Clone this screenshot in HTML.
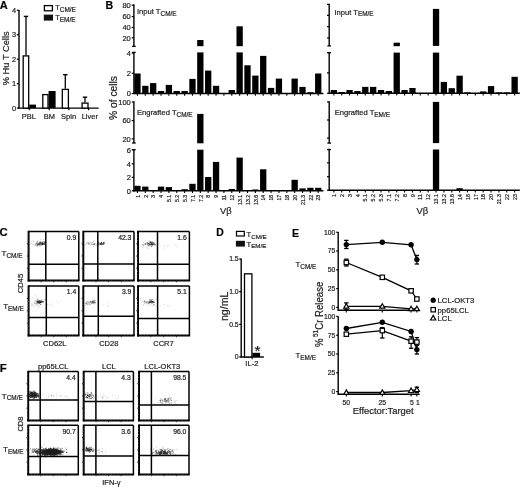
<!DOCTYPE html>
<html><head><meta charset="utf-8"><style>
html,body{margin:0;padding:0;background:#fff;}
svg{display:block;font-family:"Liberation Sans",sans-serif;will-change:transform;}
text{stroke:#222;stroke-width:0.2px;}
</style></head><body>
<svg width="520" height="487" viewBox="0 0 520 487">
<rect width="520" height="487" fill="#fff"/>
<text x="-0.20" y="9.30" font-size="11" text-anchor="start" font-weight="bold" fill="#000">A</text>
<line x1="19.00" y1="10.00" x2="19.00" y2="108.70" stroke="#000" stroke-width="1.4"/>
<line x1="18.40" y1="108.10" x2="98.60" y2="108.10" stroke="#000" stroke-width="1.4"/>
<line x1="16.80" y1="108.10" x2="19.00" y2="108.10" stroke="#000" stroke-width="1.2"/>
<text x="16.00" y="110.80" font-size="7.4" text-anchor="end" font-weight="normal" fill="#222">0</text>
<line x1="16.80" y1="83.65" x2="19.00" y2="83.65" stroke="#000" stroke-width="1.2"/>
<text x="16.00" y="86.35" font-size="7.4" text-anchor="end" font-weight="normal" fill="#222">1</text>
<line x1="16.80" y1="59.20" x2="19.00" y2="59.20" stroke="#000" stroke-width="1.2"/>
<text x="16.00" y="61.90" font-size="7.4" text-anchor="end" font-weight="normal" fill="#222">2</text>
<line x1="16.80" y1="34.75" x2="19.00" y2="34.75" stroke="#000" stroke-width="1.2"/>
<text x="16.00" y="37.45" font-size="7.4" text-anchor="end" font-weight="normal" fill="#222">3</text>
<line x1="16.80" y1="10.30" x2="19.00" y2="10.30" stroke="#000" stroke-width="1.2"/>
<text x="16.00" y="13.00" font-size="7.4" text-anchor="end" font-weight="normal" fill="#222">4</text>
<text x="9.00" y="58.30" font-size="9.3" text-anchor="middle" font-weight="normal" fill="#222" transform="rotate(-90 9.00 58.30)">% Hu T Cells</text>
<rect x="23.20" y="55.90" width="5.50" height="52.20" fill="#fff" stroke="#000" stroke-width="1.3"/>
<rect x="29.30" y="104.60" width="6.70" height="3.50" fill="#000"/>
<rect x="42.80" y="94.60" width="5.20" height="13.50" fill="#fff" stroke="#000" stroke-width="1.3"/>
<rect x="48.60" y="91.00" width="7.00" height="17.10" fill="#000"/>
<rect x="62.30" y="89.40" width="6.10" height="18.70" fill="#fff" stroke="#000" stroke-width="1.3"/>
<rect x="82.10" y="103.10" width="5.90" height="5.00" fill="#fff" stroke="#000" stroke-width="1.3"/>
<line x1="26.00" y1="55.30" x2="26.00" y2="16.40" stroke="#000" stroke-width="1.3"/>
<line x1="23.80" y1="16.40" x2="28.20" y2="16.40" stroke="#000" stroke-width="1.4"/>
<line x1="65.30" y1="88.80" x2="65.30" y2="74.70" stroke="#000" stroke-width="1.3"/>
<line x1="63.10" y1="74.70" x2="67.50" y2="74.70" stroke="#000" stroke-width="1.4"/>
<line x1="85.00" y1="102.50" x2="85.00" y2="97.20" stroke="#000" stroke-width="1.3"/>
<line x1="82.80" y1="97.20" x2="87.20" y2="97.20" stroke="#000" stroke-width="1.4"/>
<line x1="29.30" y1="108.10" x2="29.30" y2="110.30" stroke="#000" stroke-width="1.2"/>
<line x1="49.20" y1="108.10" x2="49.20" y2="110.30" stroke="#000" stroke-width="1.2"/>
<line x1="68.90" y1="108.10" x2="68.90" y2="110.30" stroke="#000" stroke-width="1.2"/>
<line x1="88.60" y1="108.10" x2="88.60" y2="110.30" stroke="#000" stroke-width="1.2"/>
<text x="28.90" y="119.20" font-size="7.5" text-anchor="middle" font-weight="normal" fill="#222">PBL</text>
<text x="49.40" y="119.20" font-size="7.5" text-anchor="middle" font-weight="normal" fill="#222">BM</text>
<text x="68.60" y="119.20" font-size="7.5" text-anchor="middle" font-weight="normal" fill="#222">Spln</text>
<text x="89.80" y="119.20" font-size="7.5" text-anchor="middle" font-weight="normal" fill="#222">Liver</text>
<rect x="44.40" y="5.60" width="8.00" height="5.20" fill="#fff" stroke="#000" stroke-width="1.3"/>
<rect x="43.80" y="14.60" width="9.20" height="6.00" fill="#111"/>
<text x="55.20" y="10.20" font-size="7.4" text-anchor="start" fill="#222">T<tspan font-size="6.5" dy="1.6">CM/E</tspan></text>
<text x="55.20" y="20.30" font-size="7.4" text-anchor="start" fill="#222">T<tspan font-size="6.5" dy="1.6">EM/E</tspan></text>
<text x="105.50" y="9.30" font-size="10.6" text-anchor="start" font-weight="bold" fill="#000">B</text>
<line x1="133.90" y1="4.30" x2="133.90" y2="46.40" stroke="#000" stroke-width="1.4"/>
<line x1="133.90" y1="52.40" x2="133.90" y2="94.10" stroke="#000" stroke-width="1.4"/>
<line x1="132.10" y1="46.40" x2="135.70" y2="46.40" stroke="#000" stroke-width="1.3"/>
<line x1="132.10" y1="52.40" x2="135.70" y2="52.40" stroke="#000" stroke-width="1.3"/>
<line x1="131.70" y1="5.20" x2="133.90" y2="5.20" stroke="#000" stroke-width="1.2"/>
<text x="130.80" y="8.00" font-size="7.5" text-anchor="end" font-weight="normal" fill="#222">80</text>
<line x1="131.70" y1="16.60" x2="133.90" y2="16.60" stroke="#000" stroke-width="1.2"/>
<text x="130.80" y="19.40" font-size="7.5" text-anchor="end" font-weight="normal" fill="#222">60</text>
<line x1="131.70" y1="27.50" x2="133.90" y2="27.50" stroke="#000" stroke-width="1.2"/>
<text x="130.80" y="30.30" font-size="7.5" text-anchor="end" font-weight="normal" fill="#222">40</text>
<line x1="131.70" y1="37.80" x2="133.90" y2="37.80" stroke="#000" stroke-width="1.2"/>
<text x="130.80" y="40.60" font-size="7.5" text-anchor="end" font-weight="normal" fill="#222">20</text>
<line x1="131.70" y1="53.10" x2="133.90" y2="53.10" stroke="#000" stroke-width="1.2"/>
<text x="130.80" y="55.90" font-size="7.5" text-anchor="end" font-weight="normal" fill="#222">4</text>
<line x1="131.70" y1="73.30" x2="133.90" y2="73.30" stroke="#000" stroke-width="1.2"/>
<text x="130.80" y="76.10" font-size="7.5" text-anchor="end" font-weight="normal" fill="#222">2</text>
<line x1="131.70" y1="93.50" x2="133.90" y2="93.50" stroke="#000" stroke-width="1.2"/>
<text x="130.80" y="96.30" font-size="7.5" text-anchor="end" font-weight="normal" fill="#222">0</text>
<line x1="133.30" y1="93.50" x2="323.44" y2="93.50" stroke="#000" stroke-width="1.4"/>
<line x1="137.45" y1="93.50" x2="137.45" y2="95.70" stroke="#000" stroke-width="1.1"/>
<line x1="145.31" y1="93.50" x2="145.31" y2="95.70" stroke="#000" stroke-width="1.1"/>
<line x1="153.17" y1="93.50" x2="153.17" y2="95.70" stroke="#000" stroke-width="1.1"/>
<line x1="161.03" y1="93.50" x2="161.03" y2="95.70" stroke="#000" stroke-width="1.1"/>
<line x1="168.89" y1="93.50" x2="168.89" y2="95.70" stroke="#000" stroke-width="1.1"/>
<line x1="176.75" y1="93.50" x2="176.75" y2="95.70" stroke="#000" stroke-width="1.1"/>
<line x1="184.61" y1="93.50" x2="184.61" y2="95.70" stroke="#000" stroke-width="1.1"/>
<line x1="192.47" y1="93.50" x2="192.47" y2="95.70" stroke="#000" stroke-width="1.1"/>
<line x1="200.33" y1="93.50" x2="200.33" y2="95.70" stroke="#000" stroke-width="1.1"/>
<line x1="208.19" y1="93.50" x2="208.19" y2="95.70" stroke="#000" stroke-width="1.1"/>
<line x1="216.05" y1="93.50" x2="216.05" y2="95.70" stroke="#000" stroke-width="1.1"/>
<line x1="223.91" y1="93.50" x2="223.91" y2="95.70" stroke="#000" stroke-width="1.1"/>
<line x1="231.77" y1="93.50" x2="231.77" y2="95.70" stroke="#000" stroke-width="1.1"/>
<line x1="239.63" y1="93.50" x2="239.63" y2="95.70" stroke="#000" stroke-width="1.1"/>
<line x1="247.49" y1="93.50" x2="247.49" y2="95.70" stroke="#000" stroke-width="1.1"/>
<line x1="255.35" y1="93.50" x2="255.35" y2="95.70" stroke="#000" stroke-width="1.1"/>
<line x1="263.21" y1="93.50" x2="263.21" y2="95.70" stroke="#000" stroke-width="1.1"/>
<line x1="271.07" y1="93.50" x2="271.07" y2="95.70" stroke="#000" stroke-width="1.1"/>
<line x1="278.93" y1="93.50" x2="278.93" y2="95.70" stroke="#000" stroke-width="1.1"/>
<line x1="286.79" y1="93.50" x2="286.79" y2="95.70" stroke="#000" stroke-width="1.1"/>
<line x1="294.65" y1="93.50" x2="294.65" y2="95.70" stroke="#000" stroke-width="1.1"/>
<line x1="302.51" y1="93.50" x2="302.51" y2="95.70" stroke="#000" stroke-width="1.1"/>
<line x1="310.37" y1="93.50" x2="310.37" y2="95.70" stroke="#000" stroke-width="1.1"/>
<line x1="318.23" y1="93.50" x2="318.23" y2="95.70" stroke="#000" stroke-width="1.1"/>
<rect x="134.30" y="73.50" width="6.30" height="20.00" fill="#000"/>
<rect x="142.16" y="85.80" width="6.30" height="7.70" fill="#000"/>
<rect x="150.02" y="83.10" width="6.30" height="10.40" fill="#000"/>
<rect x="157.88" y="91.00" width="6.30" height="2.50" fill="#000"/>
<rect x="165.74" y="84.90" width="6.30" height="8.60" fill="#000"/>
<rect x="173.60" y="91.00" width="6.30" height="2.50" fill="#000"/>
<rect x="181.46" y="91.00" width="6.30" height="2.50" fill="#000"/>
<rect x="189.32" y="78.90" width="6.30" height="14.60" fill="#000"/>
<rect x="197.18" y="52.40" width="6.30" height="41.10" fill="#000"/>
<rect x="197.18" y="40.00" width="6.30" height="6.20" fill="#000"/>
<rect x="205.04" y="70.60" width="6.30" height="22.90" fill="#000"/>
<rect x="212.90" y="85.80" width="6.30" height="7.70" fill="#000"/>
<rect x="228.62" y="90.00" width="6.30" height="3.50" fill="#000"/>
<rect x="236.48" y="52.40" width="6.30" height="41.10" fill="#000"/>
<rect x="236.48" y="26.30" width="6.30" height="19.90" fill="#000"/>
<rect x="244.34" y="65.30" width="6.30" height="28.20" fill="#000"/>
<rect x="252.20" y="75.60" width="6.30" height="17.90" fill="#000"/>
<rect x="260.06" y="55.90" width="6.30" height="37.60" fill="#000"/>
<rect x="267.92" y="87.90" width="6.30" height="5.60" fill="#000"/>
<rect x="275.78" y="78.60" width="6.30" height="14.90" fill="#000"/>
<rect x="291.50" y="78.60" width="6.30" height="14.90" fill="#000"/>
<rect x="299.36" y="86.90" width="6.30" height="6.60" fill="#000"/>
<rect x="307.22" y="92.20" width="6.30" height="1.30" fill="#000"/>
<rect x="315.08" y="73.50" width="6.30" height="20.00" fill="#000"/>
<line x1="329.20" y1="3.80" x2="329.20" y2="45.90" stroke="#000" stroke-width="1.4"/>
<line x1="329.20" y1="52.60" x2="329.20" y2="93.90" stroke="#000" stroke-width="1.4"/>
<line x1="327.40" y1="45.90" x2="331.00" y2="45.90" stroke="#000" stroke-width="1.3"/>
<line x1="327.40" y1="52.60" x2="331.00" y2="52.60" stroke="#000" stroke-width="1.3"/>
<line x1="327.00" y1="4.40" x2="329.20" y2="4.40" stroke="#000" stroke-width="1.2"/>
<line x1="327.00" y1="15.40" x2="329.20" y2="15.40" stroke="#000" stroke-width="1.2"/>
<line x1="327.00" y1="26.70" x2="329.20" y2="26.70" stroke="#000" stroke-width="1.2"/>
<line x1="327.00" y1="38.00" x2="329.20" y2="38.00" stroke="#000" stroke-width="1.2"/>
<line x1="327.00" y1="52.60" x2="329.20" y2="52.60" stroke="#000" stroke-width="1.2"/>
<line x1="327.00" y1="72.90" x2="329.20" y2="72.90" stroke="#000" stroke-width="1.2"/>
<line x1="327.00" y1="93.30" x2="329.20" y2="93.30" stroke="#000" stroke-width="1.2"/>
<line x1="328.60" y1="93.30" x2="519.84" y2="93.30" stroke="#000" stroke-width="1.4"/>
<line x1="333.85" y1="93.30" x2="333.85" y2="95.50" stroke="#000" stroke-width="1.1"/>
<line x1="341.71" y1="93.30" x2="341.71" y2="95.50" stroke="#000" stroke-width="1.1"/>
<line x1="349.57" y1="93.30" x2="349.57" y2="95.50" stroke="#000" stroke-width="1.1"/>
<line x1="357.43" y1="93.30" x2="357.43" y2="95.50" stroke="#000" stroke-width="1.1"/>
<line x1="365.29" y1="93.30" x2="365.29" y2="95.50" stroke="#000" stroke-width="1.1"/>
<line x1="373.15" y1="93.30" x2="373.15" y2="95.50" stroke="#000" stroke-width="1.1"/>
<line x1="381.01" y1="93.30" x2="381.01" y2="95.50" stroke="#000" stroke-width="1.1"/>
<line x1="388.87" y1="93.30" x2="388.87" y2="95.50" stroke="#000" stroke-width="1.1"/>
<line x1="396.73" y1="93.30" x2="396.73" y2="95.50" stroke="#000" stroke-width="1.1"/>
<line x1="404.59" y1="93.30" x2="404.59" y2="95.50" stroke="#000" stroke-width="1.1"/>
<line x1="412.45" y1="93.30" x2="412.45" y2="95.50" stroke="#000" stroke-width="1.1"/>
<line x1="420.31" y1="93.30" x2="420.31" y2="95.50" stroke="#000" stroke-width="1.1"/>
<line x1="428.17" y1="93.30" x2="428.17" y2="95.50" stroke="#000" stroke-width="1.1"/>
<line x1="436.03" y1="93.30" x2="436.03" y2="95.50" stroke="#000" stroke-width="1.1"/>
<line x1="443.89" y1="93.30" x2="443.89" y2="95.50" stroke="#000" stroke-width="1.1"/>
<line x1="451.75" y1="93.30" x2="451.75" y2="95.50" stroke="#000" stroke-width="1.1"/>
<line x1="459.61" y1="93.30" x2="459.61" y2="95.50" stroke="#000" stroke-width="1.1"/>
<line x1="467.47" y1="93.30" x2="467.47" y2="95.50" stroke="#000" stroke-width="1.1"/>
<line x1="475.33" y1="93.30" x2="475.33" y2="95.50" stroke="#000" stroke-width="1.1"/>
<line x1="483.19" y1="93.30" x2="483.19" y2="95.50" stroke="#000" stroke-width="1.1"/>
<line x1="491.05" y1="93.30" x2="491.05" y2="95.50" stroke="#000" stroke-width="1.1"/>
<line x1="498.91" y1="93.30" x2="498.91" y2="95.50" stroke="#000" stroke-width="1.1"/>
<line x1="506.77" y1="93.30" x2="506.77" y2="95.50" stroke="#000" stroke-width="1.1"/>
<line x1="514.63" y1="93.30" x2="514.63" y2="95.50" stroke="#000" stroke-width="1.1"/>
<rect x="330.70" y="90.00" width="6.30" height="3.30" fill="#000"/>
<rect x="338.56" y="92.00" width="6.30" height="1.30" fill="#000"/>
<rect x="346.42" y="90.00" width="6.30" height="3.30" fill="#000"/>
<rect x="354.28" y="91.00" width="6.30" height="2.30" fill="#000"/>
<rect x="362.14" y="86.90" width="6.30" height="6.40" fill="#000"/>
<rect x="370.00" y="86.90" width="6.30" height="6.40" fill="#000"/>
<rect x="377.86" y="90.00" width="6.30" height="3.30" fill="#000"/>
<rect x="385.72" y="91.00" width="6.30" height="2.30" fill="#000"/>
<rect x="393.58" y="52.60" width="6.30" height="40.70" fill="#000"/>
<rect x="393.58" y="42.70" width="6.30" height="3.50" fill="#000"/>
<rect x="401.44" y="90.00" width="6.30" height="3.30" fill="#000"/>
<rect x="409.30" y="88.00" width="6.30" height="5.30" fill="#000"/>
<rect x="432.88" y="52.60" width="6.30" height="40.70" fill="#000"/>
<rect x="432.88" y="8.90" width="6.30" height="37.00" fill="#000"/>
<rect x="440.74" y="81.90" width="6.30" height="11.40" fill="#000"/>
<rect x="448.60" y="88.20" width="6.30" height="5.10" fill="#000"/>
<rect x="456.46" y="75.70" width="6.30" height="17.60" fill="#000"/>
<rect x="464.32" y="92.40" width="6.30" height="0.90" fill="#000"/>
<rect x="480.04" y="91.40" width="6.30" height="1.90" fill="#000"/>
<rect x="487.90" y="86.10" width="6.30" height="7.20" fill="#000"/>
<rect x="495.76" y="92.40" width="6.30" height="0.90" fill="#000"/>
<rect x="503.62" y="92.40" width="6.30" height="0.90" fill="#000"/>
<rect x="511.48" y="76.80" width="6.30" height="16.50" fill="#000"/>
<line x1="133.90" y1="101.30" x2="133.90" y2="143.00" stroke="#000" stroke-width="1.4"/>
<line x1="133.90" y1="149.70" x2="133.90" y2="191.40" stroke="#000" stroke-width="1.4"/>
<line x1="132.10" y1="143.00" x2="135.70" y2="143.00" stroke="#000" stroke-width="1.3"/>
<line x1="132.10" y1="149.70" x2="135.70" y2="149.70" stroke="#000" stroke-width="1.3"/>
<line x1="131.70" y1="102.00" x2="133.90" y2="102.00" stroke="#000" stroke-width="1.2"/>
<text x="130.80" y="104.80" font-size="7.5" text-anchor="end" font-weight="normal" fill="#222">100</text>
<line x1="131.70" y1="120.60" x2="133.90" y2="120.60" stroke="#000" stroke-width="1.2"/>
<text x="130.80" y="123.40" font-size="7.5" text-anchor="end" font-weight="normal" fill="#222">60</text>
<line x1="131.70" y1="138.80" x2="133.90" y2="138.80" stroke="#000" stroke-width="1.2"/>
<text x="130.80" y="141.60" font-size="7.5" text-anchor="end" font-weight="normal" fill="#222">20</text>
<line x1="131.70" y1="149.70" x2="133.90" y2="149.70" stroke="#000" stroke-width="1.2"/>
<text x="130.80" y="152.50" font-size="7.5" text-anchor="end" font-weight="normal" fill="#222">6</text>
<line x1="131.70" y1="163.80" x2="133.90" y2="163.80" stroke="#000" stroke-width="1.2"/>
<text x="130.80" y="166.60" font-size="7.5" text-anchor="end" font-weight="normal" fill="#222">4</text>
<line x1="131.70" y1="177.40" x2="133.90" y2="177.40" stroke="#000" stroke-width="1.2"/>
<text x="130.80" y="180.20" font-size="7.5" text-anchor="end" font-weight="normal" fill="#222">2</text>
<line x1="131.70" y1="190.80" x2="133.90" y2="190.80" stroke="#000" stroke-width="1.2"/>
<text x="130.80" y="193.60" font-size="7.5" text-anchor="end" font-weight="normal" fill="#222">0</text>
<line x1="133.30" y1="190.80" x2="323.44" y2="190.80" stroke="#000" stroke-width="1.4"/>
<line x1="137.45" y1="190.80" x2="137.45" y2="193.00" stroke="#000" stroke-width="1.1"/>
<line x1="145.31" y1="190.80" x2="145.31" y2="193.00" stroke="#000" stroke-width="1.1"/>
<line x1="153.17" y1="190.80" x2="153.17" y2="193.00" stroke="#000" stroke-width="1.1"/>
<line x1="161.03" y1="190.80" x2="161.03" y2="193.00" stroke="#000" stroke-width="1.1"/>
<line x1="168.89" y1="190.80" x2="168.89" y2="193.00" stroke="#000" stroke-width="1.1"/>
<line x1="176.75" y1="190.80" x2="176.75" y2="193.00" stroke="#000" stroke-width="1.1"/>
<line x1="184.61" y1="190.80" x2="184.61" y2="193.00" stroke="#000" stroke-width="1.1"/>
<line x1="192.47" y1="190.80" x2="192.47" y2="193.00" stroke="#000" stroke-width="1.1"/>
<line x1="200.33" y1="190.80" x2="200.33" y2="193.00" stroke="#000" stroke-width="1.1"/>
<line x1="208.19" y1="190.80" x2="208.19" y2="193.00" stroke="#000" stroke-width="1.1"/>
<line x1="216.05" y1="190.80" x2="216.05" y2="193.00" stroke="#000" stroke-width="1.1"/>
<line x1="223.91" y1="190.80" x2="223.91" y2="193.00" stroke="#000" stroke-width="1.1"/>
<line x1="231.77" y1="190.80" x2="231.77" y2="193.00" stroke="#000" stroke-width="1.1"/>
<line x1="239.63" y1="190.80" x2="239.63" y2="193.00" stroke="#000" stroke-width="1.1"/>
<line x1="247.49" y1="190.80" x2="247.49" y2="193.00" stroke="#000" stroke-width="1.1"/>
<line x1="255.35" y1="190.80" x2="255.35" y2="193.00" stroke="#000" stroke-width="1.1"/>
<line x1="263.21" y1="190.80" x2="263.21" y2="193.00" stroke="#000" stroke-width="1.1"/>
<line x1="271.07" y1="190.80" x2="271.07" y2="193.00" stroke="#000" stroke-width="1.1"/>
<line x1="278.93" y1="190.80" x2="278.93" y2="193.00" stroke="#000" stroke-width="1.1"/>
<line x1="286.79" y1="190.80" x2="286.79" y2="193.00" stroke="#000" stroke-width="1.1"/>
<line x1="294.65" y1="190.80" x2="294.65" y2="193.00" stroke="#000" stroke-width="1.1"/>
<line x1="302.51" y1="190.80" x2="302.51" y2="193.00" stroke="#000" stroke-width="1.1"/>
<line x1="310.37" y1="190.80" x2="310.37" y2="193.00" stroke="#000" stroke-width="1.1"/>
<line x1="318.23" y1="190.80" x2="318.23" y2="193.00" stroke="#000" stroke-width="1.1"/>
<rect x="134.30" y="185.80" width="6.30" height="5.00" fill="#000"/>
<rect x="142.16" y="186.60" width="6.30" height="4.20" fill="#000"/>
<rect x="150.02" y="190.00" width="6.30" height="0.80" fill="#000"/>
<rect x="157.88" y="186.60" width="6.30" height="4.20" fill="#000"/>
<rect x="165.74" y="187.10" width="6.30" height="3.70" fill="#000"/>
<rect x="173.60" y="190.00" width="6.30" height="0.80" fill="#000"/>
<rect x="181.46" y="189.20" width="6.30" height="1.60" fill="#000"/>
<rect x="189.32" y="183.80" width="6.30" height="7.00" fill="#000"/>
<rect x="197.18" y="149.70" width="6.30" height="41.10" fill="#000"/>
<rect x="197.18" y="113.90" width="6.30" height="29.40" fill="#000"/>
<rect x="205.04" y="177.00" width="6.30" height="13.80" fill="#000"/>
<rect x="212.90" y="161.90" width="6.30" height="28.90" fill="#000"/>
<rect x="228.62" y="189.00" width="6.30" height="1.80" fill="#000"/>
<rect x="236.48" y="157.60" width="6.30" height="33.20" fill="#000"/>
<rect x="252.20" y="189.50" width="6.30" height="1.30" fill="#000"/>
<rect x="260.06" y="169.30" width="6.30" height="21.50" fill="#000"/>
<rect x="267.92" y="190.20" width="6.30" height="0.60" fill="#000"/>
<rect x="275.78" y="190.20" width="6.30" height="0.60" fill="#000"/>
<rect x="291.50" y="179.80" width="6.30" height="11.00" fill="#000"/>
<rect x="299.36" y="188.40" width="6.30" height="2.40" fill="#000"/>
<rect x="307.22" y="187.80" width="6.30" height="3.00" fill="#000"/>
<rect x="315.08" y="187.80" width="6.30" height="3.00" fill="#000"/>
<text x="139.65" y="194.80" font-size="6.2" text-anchor="end" font-weight="normal" fill="#111" transform="rotate(-90 139.65 194.80)" textLength="2.89" lengthAdjust="spacingAndGlyphs">1</text>
<text x="147.51" y="194.80" font-size="6.2" text-anchor="end" font-weight="normal" fill="#111" transform="rotate(-90 147.51 194.80)" textLength="2.89" lengthAdjust="spacingAndGlyphs">2</text>
<text x="155.37" y="194.80" font-size="6.2" text-anchor="end" font-weight="normal" fill="#111" transform="rotate(-90 155.37 194.80)" textLength="2.89" lengthAdjust="spacingAndGlyphs">3</text>
<text x="163.23" y="194.80" font-size="6.2" text-anchor="end" font-weight="normal" fill="#111" transform="rotate(-90 163.23 194.80)" textLength="2.89" lengthAdjust="spacingAndGlyphs">4</text>
<text x="171.09" y="194.80" font-size="6.2" text-anchor="end" font-weight="normal" fill="#111" transform="rotate(-90 171.09 194.80)" textLength="7.23" lengthAdjust="spacingAndGlyphs">5.1</text>
<text x="178.95" y="194.80" font-size="6.2" text-anchor="end" font-weight="normal" fill="#111" transform="rotate(-90 178.95 194.80)" textLength="7.23" lengthAdjust="spacingAndGlyphs">5.2</text>
<text x="186.81" y="194.80" font-size="6.2" text-anchor="end" font-weight="normal" fill="#111" transform="rotate(-90 186.81 194.80)" textLength="7.23" lengthAdjust="spacingAndGlyphs">5.3</text>
<text x="194.67" y="194.80" font-size="6.2" text-anchor="end" font-weight="normal" fill="#111" transform="rotate(-90 194.67 194.80)" textLength="7.23" lengthAdjust="spacingAndGlyphs">7.1</text>
<text x="202.53" y="194.80" font-size="6.2" text-anchor="end" font-weight="normal" fill="#111" transform="rotate(-90 202.53 194.80)" textLength="7.23" lengthAdjust="spacingAndGlyphs">7.2</text>
<text x="210.39" y="194.80" font-size="6.2" text-anchor="end" font-weight="normal" fill="#111" transform="rotate(-90 210.39 194.80)" textLength="2.89" lengthAdjust="spacingAndGlyphs">8</text>
<text x="218.25" y="194.80" font-size="6.2" text-anchor="end" font-weight="normal" fill="#111" transform="rotate(-90 218.25 194.80)" textLength="2.89" lengthAdjust="spacingAndGlyphs">9</text>
<text x="226.11" y="194.80" font-size="6.2" text-anchor="end" font-weight="normal" fill="#111" transform="rotate(-90 226.11 194.80)" textLength="5.78" lengthAdjust="spacingAndGlyphs">11</text>
<text x="233.97" y="194.80" font-size="6.2" text-anchor="end" font-weight="normal" fill="#111" transform="rotate(-90 233.97 194.80)" textLength="5.78" lengthAdjust="spacingAndGlyphs">12</text>
<text x="241.83" y="194.80" font-size="6.2" text-anchor="end" font-weight="normal" fill="#111" transform="rotate(-90 241.83 194.80)" textLength="10.12" lengthAdjust="spacingAndGlyphs">13.1</text>
<text x="249.69" y="194.80" font-size="6.2" text-anchor="end" font-weight="normal" fill="#111" transform="rotate(-90 249.69 194.80)" textLength="10.12" lengthAdjust="spacingAndGlyphs">13.2</text>
<text x="257.55" y="194.80" font-size="6.2" text-anchor="end" font-weight="normal" fill="#111" transform="rotate(-90 257.55 194.80)" textLength="10.12" lengthAdjust="spacingAndGlyphs">13.6</text>
<text x="265.41" y="194.80" font-size="6.2" text-anchor="end" font-weight="normal" fill="#111" transform="rotate(-90 265.41 194.80)" textLength="5.78" lengthAdjust="spacingAndGlyphs">14</text>
<text x="273.27" y="194.80" font-size="6.2" text-anchor="end" font-weight="normal" fill="#111" transform="rotate(-90 273.27 194.80)" textLength="5.78" lengthAdjust="spacingAndGlyphs">16</text>
<text x="281.13" y="194.80" font-size="6.2" text-anchor="end" font-weight="normal" fill="#111" transform="rotate(-90 281.13 194.80)" textLength="5.78" lengthAdjust="spacingAndGlyphs">17</text>
<text x="288.99" y="194.80" font-size="6.2" text-anchor="end" font-weight="normal" fill="#111" transform="rotate(-90 288.99 194.80)" textLength="5.78" lengthAdjust="spacingAndGlyphs">18</text>
<text x="296.85" y="194.80" font-size="6.2" text-anchor="end" font-weight="normal" fill="#111" transform="rotate(-90 296.85 194.80)" textLength="5.78" lengthAdjust="spacingAndGlyphs">20</text>
<text x="304.71" y="194.80" font-size="6.2" text-anchor="end" font-weight="normal" fill="#111" transform="rotate(-90 304.71 194.80)" textLength="10.12" lengthAdjust="spacingAndGlyphs">21.3</text>
<text x="312.57" y="194.80" font-size="6.2" text-anchor="end" font-weight="normal" fill="#111" transform="rotate(-90 312.57 194.80)" textLength="5.78" lengthAdjust="spacingAndGlyphs">22</text>
<text x="320.43" y="194.80" font-size="6.2" text-anchor="end" font-weight="normal" fill="#111" transform="rotate(-90 320.43 194.80)" textLength="5.78" lengthAdjust="spacingAndGlyphs">23</text>
<line x1="329.20" y1="101.30" x2="329.20" y2="143.10" stroke="#000" stroke-width="1.4"/>
<line x1="329.20" y1="149.50" x2="329.20" y2="190.80" stroke="#000" stroke-width="1.4"/>
<line x1="327.40" y1="143.10" x2="331.00" y2="143.10" stroke="#000" stroke-width="1.3"/>
<line x1="327.40" y1="149.50" x2="331.00" y2="149.50" stroke="#000" stroke-width="1.3"/>
<line x1="327.00" y1="101.90" x2="329.20" y2="101.90" stroke="#000" stroke-width="1.2"/>
<line x1="327.00" y1="120.00" x2="329.20" y2="120.00" stroke="#000" stroke-width="1.2"/>
<line x1="327.00" y1="138.10" x2="329.20" y2="138.10" stroke="#000" stroke-width="1.2"/>
<line x1="327.00" y1="149.50" x2="329.20" y2="149.50" stroke="#000" stroke-width="1.2"/>
<line x1="327.00" y1="162.80" x2="329.20" y2="162.80" stroke="#000" stroke-width="1.2"/>
<line x1="327.00" y1="176.70" x2="329.20" y2="176.70" stroke="#000" stroke-width="1.2"/>
<line x1="327.00" y1="190.20" x2="329.20" y2="190.20" stroke="#000" stroke-width="1.2"/>
<line x1="328.60" y1="190.20" x2="519.84" y2="190.20" stroke="#000" stroke-width="1.4"/>
<line x1="333.85" y1="190.20" x2="333.85" y2="192.40" stroke="#000" stroke-width="1.1"/>
<line x1="341.71" y1="190.20" x2="341.71" y2="192.40" stroke="#000" stroke-width="1.1"/>
<line x1="349.57" y1="190.20" x2="349.57" y2="192.40" stroke="#000" stroke-width="1.1"/>
<line x1="357.43" y1="190.20" x2="357.43" y2="192.40" stroke="#000" stroke-width="1.1"/>
<line x1="365.29" y1="190.20" x2="365.29" y2="192.40" stroke="#000" stroke-width="1.1"/>
<line x1="373.15" y1="190.20" x2="373.15" y2="192.40" stroke="#000" stroke-width="1.1"/>
<line x1="381.01" y1="190.20" x2="381.01" y2="192.40" stroke="#000" stroke-width="1.1"/>
<line x1="388.87" y1="190.20" x2="388.87" y2="192.40" stroke="#000" stroke-width="1.1"/>
<line x1="396.73" y1="190.20" x2="396.73" y2="192.40" stroke="#000" stroke-width="1.1"/>
<line x1="404.59" y1="190.20" x2="404.59" y2="192.40" stroke="#000" stroke-width="1.1"/>
<line x1="412.45" y1="190.20" x2="412.45" y2="192.40" stroke="#000" stroke-width="1.1"/>
<line x1="420.31" y1="190.20" x2="420.31" y2="192.40" stroke="#000" stroke-width="1.1"/>
<line x1="428.17" y1="190.20" x2="428.17" y2="192.40" stroke="#000" stroke-width="1.1"/>
<line x1="436.03" y1="190.20" x2="436.03" y2="192.40" stroke="#000" stroke-width="1.1"/>
<line x1="443.89" y1="190.20" x2="443.89" y2="192.40" stroke="#000" stroke-width="1.1"/>
<line x1="451.75" y1="190.20" x2="451.75" y2="192.40" stroke="#000" stroke-width="1.1"/>
<line x1="459.61" y1="190.20" x2="459.61" y2="192.40" stroke="#000" stroke-width="1.1"/>
<line x1="467.47" y1="190.20" x2="467.47" y2="192.40" stroke="#000" stroke-width="1.1"/>
<line x1="475.33" y1="190.20" x2="475.33" y2="192.40" stroke="#000" stroke-width="1.1"/>
<line x1="483.19" y1="190.20" x2="483.19" y2="192.40" stroke="#000" stroke-width="1.1"/>
<line x1="491.05" y1="190.20" x2="491.05" y2="192.40" stroke="#000" stroke-width="1.1"/>
<line x1="498.91" y1="190.20" x2="498.91" y2="192.40" stroke="#000" stroke-width="1.1"/>
<line x1="506.77" y1="190.20" x2="506.77" y2="192.40" stroke="#000" stroke-width="1.1"/>
<line x1="514.63" y1="190.20" x2="514.63" y2="192.40" stroke="#000" stroke-width="1.1"/>
<rect x="432.88" y="149.50" width="6.30" height="40.70" fill="#000"/>
<rect x="432.88" y="101.90" width="6.30" height="41.20" fill="#000"/>
<rect x="456.46" y="188.20" width="6.30" height="2.00" fill="#000"/>
<text x="336.05" y="194.20" font-size="6.2" text-anchor="end" font-weight="normal" fill="#111" transform="rotate(-90 336.05 194.20)" textLength="2.89" lengthAdjust="spacingAndGlyphs">1</text>
<text x="343.91" y="194.20" font-size="6.2" text-anchor="end" font-weight="normal" fill="#111" transform="rotate(-90 343.91 194.20)" textLength="2.89" lengthAdjust="spacingAndGlyphs">2</text>
<text x="351.77" y="194.20" font-size="6.2" text-anchor="end" font-weight="normal" fill="#111" transform="rotate(-90 351.77 194.20)" textLength="2.89" lengthAdjust="spacingAndGlyphs">3</text>
<text x="359.63" y="194.20" font-size="6.2" text-anchor="end" font-weight="normal" fill="#111" transform="rotate(-90 359.63 194.20)" textLength="2.89" lengthAdjust="spacingAndGlyphs">4</text>
<text x="367.49" y="194.20" font-size="6.2" text-anchor="end" font-weight="normal" fill="#111" transform="rotate(-90 367.49 194.20)" textLength="7.23" lengthAdjust="spacingAndGlyphs">5.1</text>
<text x="375.35" y="194.20" font-size="6.2" text-anchor="end" font-weight="normal" fill="#111" transform="rotate(-90 375.35 194.20)" textLength="7.23" lengthAdjust="spacingAndGlyphs">5.2</text>
<text x="383.21" y="194.20" font-size="6.2" text-anchor="end" font-weight="normal" fill="#111" transform="rotate(-90 383.21 194.20)" textLength="7.23" lengthAdjust="spacingAndGlyphs">5.3</text>
<text x="391.07" y="194.20" font-size="6.2" text-anchor="end" font-weight="normal" fill="#111" transform="rotate(-90 391.07 194.20)" textLength="7.23" lengthAdjust="spacingAndGlyphs">7.1</text>
<text x="398.93" y="194.20" font-size="6.2" text-anchor="end" font-weight="normal" fill="#111" transform="rotate(-90 398.93 194.20)" textLength="7.23" lengthAdjust="spacingAndGlyphs">7.2</text>
<text x="406.79" y="194.20" font-size="6.2" text-anchor="end" font-weight="normal" fill="#111" transform="rotate(-90 406.79 194.20)" textLength="2.89" lengthAdjust="spacingAndGlyphs">8</text>
<text x="414.65" y="194.20" font-size="6.2" text-anchor="end" font-weight="normal" fill="#111" transform="rotate(-90 414.65 194.20)" textLength="2.89" lengthAdjust="spacingAndGlyphs">9</text>
<text x="422.51" y="194.20" font-size="6.2" text-anchor="end" font-weight="normal" fill="#111" transform="rotate(-90 422.51 194.20)" textLength="5.78" lengthAdjust="spacingAndGlyphs">11</text>
<text x="430.37" y="194.20" font-size="6.2" text-anchor="end" font-weight="normal" fill="#111" transform="rotate(-90 430.37 194.20)" textLength="5.78" lengthAdjust="spacingAndGlyphs">12</text>
<text x="438.23" y="194.20" font-size="6.2" text-anchor="end" font-weight="normal" fill="#111" transform="rotate(-90 438.23 194.20)" textLength="10.12" lengthAdjust="spacingAndGlyphs">13.1</text>
<text x="446.09" y="194.20" font-size="6.2" text-anchor="end" font-weight="normal" fill="#111" transform="rotate(-90 446.09 194.20)" textLength="10.12" lengthAdjust="spacingAndGlyphs">13.2</text>
<text x="453.95" y="194.20" font-size="6.2" text-anchor="end" font-weight="normal" fill="#111" transform="rotate(-90 453.95 194.20)" textLength="10.12" lengthAdjust="spacingAndGlyphs">13.6</text>
<text x="461.81" y="194.20" font-size="6.2" text-anchor="end" font-weight="normal" fill="#111" transform="rotate(-90 461.81 194.20)" textLength="5.78" lengthAdjust="spacingAndGlyphs">14</text>
<text x="469.67" y="194.20" font-size="6.2" text-anchor="end" font-weight="normal" fill="#111" transform="rotate(-90 469.67 194.20)" textLength="5.78" lengthAdjust="spacingAndGlyphs">16</text>
<text x="477.53" y="194.20" font-size="6.2" text-anchor="end" font-weight="normal" fill="#111" transform="rotate(-90 477.53 194.20)" textLength="5.78" lengthAdjust="spacingAndGlyphs">17</text>
<text x="485.39" y="194.20" font-size="6.2" text-anchor="end" font-weight="normal" fill="#111" transform="rotate(-90 485.39 194.20)" textLength="5.78" lengthAdjust="spacingAndGlyphs">18</text>
<text x="493.25" y="194.20" font-size="6.2" text-anchor="end" font-weight="normal" fill="#111" transform="rotate(-90 493.25 194.20)" textLength="5.78" lengthAdjust="spacingAndGlyphs">20</text>
<text x="501.11" y="194.20" font-size="6.2" text-anchor="end" font-weight="normal" fill="#111" transform="rotate(-90 501.11 194.20)" textLength="10.12" lengthAdjust="spacingAndGlyphs">21.3</text>
<text x="508.97" y="194.20" font-size="6.2" text-anchor="end" font-weight="normal" fill="#111" transform="rotate(-90 508.97 194.20)" textLength="5.78" lengthAdjust="spacingAndGlyphs">22</text>
<text x="516.83" y="194.20" font-size="6.2" text-anchor="end" font-weight="normal" fill="#111" transform="rotate(-90 516.83 194.20)" textLength="5.78" lengthAdjust="spacingAndGlyphs">23</text>
<text x="137.00" y="14.20" font-size="7.6" text-anchor="start" fill="#222">Input T<tspan font-size="6.4" dy="1.8">CM/E</tspan></text>
<text x="334.40" y="14.60" font-size="7.6" text-anchor="start" fill="#222">Input T<tspan font-size="6.4" dy="1.8">EM/E</tspan></text>
<text x="137.00" y="115.00" font-size="7.6" text-anchor="start" fill="#222">Engrafted T<tspan font-size="6.4" dy="1.8">CM/E</tspan></text>
<text x="334.80" y="115.00" font-size="7.6" text-anchor="start" fill="#222">Engrafted T<tspan font-size="6.4" dy="1.8">EM/E</tspan></text>
<text x="117.30" y="98.00" font-size="10.3" text-anchor="middle" font-weight="normal" fill="#222" transform="rotate(-90 117.30 98.00)">% of cells</text>
<text x="220.10" y="213.50" font-size="9.4" text-anchor="start" font-weight="normal" fill="#222">V&#946;</text>
<text x="416.40" y="213.50" font-size="9.4" text-anchor="start" font-weight="normal" fill="#222">V&#946;</text>
<text x="-0.40" y="236.30" font-size="11.3" text-anchor="start" font-weight="bold" fill="#000">C</text>
<line x1="28.60" y1="231.50" x2="78.80" y2="231.50" stroke="#000" stroke-width="1.5"/>
<line x1="78.80" y1="231.50" x2="78.80" y2="280.50" stroke="#000" stroke-width="1.5"/>
<line x1="28.60" y1="230.80" x2="28.60" y2="281.40" stroke="#000" stroke-width="2.0"/>
<line x1="27.70" y1="280.50" x2="79.50" y2="280.50" stroke="#000" stroke-width="2.0"/>
<line x1="45.80" y1="231.50" x2="45.80" y2="280.50" stroke="#000" stroke-width="1.5"/>
<line x1="28.60" y1="264.20" x2="78.80" y2="264.20" stroke="#000" stroke-width="1.5"/>
<text x="76.20" y="239.70" font-size="6.8" text-anchor="end" font-weight="normal" fill="#222">0.9</text>
<line x1="41.15" y1="280.50" x2="41.15" y2="282.30" stroke="#333" stroke-width="1.0"/>
<line x1="26.80" y1="243.75" x2="28.60" y2="243.75" stroke="#333" stroke-width="1.0"/>
<line x1="53.70" y1="280.50" x2="53.70" y2="282.30" stroke="#333" stroke-width="1.0"/>
<line x1="26.80" y1="256.00" x2="28.60" y2="256.00" stroke="#333" stroke-width="1.0"/>
<line x1="66.25" y1="280.50" x2="66.25" y2="282.30" stroke="#333" stroke-width="1.0"/>
<line x1="26.80" y1="268.25" x2="28.60" y2="268.25" stroke="#333" stroke-width="1.0"/>
<line x1="31.74" y1="280.50" x2="31.74" y2="281.50" stroke="#777" stroke-width="0.6"/>
<line x1="27.60" y1="234.56" x2="28.60" y2="234.56" stroke="#777" stroke-width="0.6"/>
<line x1="34.88" y1="280.50" x2="34.88" y2="281.50" stroke="#777" stroke-width="0.6"/>
<line x1="27.60" y1="237.62" x2="28.60" y2="237.62" stroke="#777" stroke-width="0.6"/>
<line x1="38.01" y1="280.50" x2="38.01" y2="281.50" stroke="#777" stroke-width="0.6"/>
<line x1="27.60" y1="240.69" x2="28.60" y2="240.69" stroke="#777" stroke-width="0.6"/>
<line x1="44.29" y1="280.50" x2="44.29" y2="281.50" stroke="#777" stroke-width="0.6"/>
<line x1="27.60" y1="246.81" x2="28.60" y2="246.81" stroke="#777" stroke-width="0.6"/>
<line x1="47.42" y1="280.50" x2="47.42" y2="281.50" stroke="#777" stroke-width="0.6"/>
<line x1="27.60" y1="249.88" x2="28.60" y2="249.88" stroke="#777" stroke-width="0.6"/>
<line x1="50.56" y1="280.50" x2="50.56" y2="281.50" stroke="#777" stroke-width="0.6"/>
<line x1="27.60" y1="252.94" x2="28.60" y2="252.94" stroke="#777" stroke-width="0.6"/>
<line x1="56.84" y1="280.50" x2="56.84" y2="281.50" stroke="#777" stroke-width="0.6"/>
<line x1="27.60" y1="259.06" x2="28.60" y2="259.06" stroke="#777" stroke-width="0.6"/>
<line x1="59.97" y1="280.50" x2="59.97" y2="281.50" stroke="#777" stroke-width="0.6"/>
<line x1="27.60" y1="262.12" x2="28.60" y2="262.12" stroke="#777" stroke-width="0.6"/>
<line x1="63.11" y1="280.50" x2="63.11" y2="281.50" stroke="#777" stroke-width="0.6"/>
<line x1="27.60" y1="265.19" x2="28.60" y2="265.19" stroke="#777" stroke-width="0.6"/>
<line x1="69.39" y1="280.50" x2="69.39" y2="281.50" stroke="#777" stroke-width="0.6"/>
<line x1="27.60" y1="271.31" x2="28.60" y2="271.31" stroke="#777" stroke-width="0.6"/>
<line x1="72.53" y1="280.50" x2="72.53" y2="281.50" stroke="#777" stroke-width="0.6"/>
<line x1="27.60" y1="274.38" x2="28.60" y2="274.38" stroke="#777" stroke-width="0.6"/>
<line x1="75.66" y1="280.50" x2="75.66" y2="281.50" stroke="#777" stroke-width="0.6"/>
<line x1="27.60" y1="277.44" x2="28.60" y2="277.44" stroke="#777" stroke-width="0.6"/>
<line x1="83.30" y1="231.50" x2="134.00" y2="231.50" stroke="#000" stroke-width="1.5"/>
<line x1="134.00" y1="231.50" x2="134.00" y2="280.50" stroke="#000" stroke-width="1.5"/>
<line x1="83.30" y1="230.80" x2="83.30" y2="281.40" stroke="#000" stroke-width="2.0"/>
<line x1="82.40" y1="280.50" x2="134.70" y2="280.50" stroke="#000" stroke-width="2.0"/>
<line x1="97.80" y1="231.50" x2="97.80" y2="280.50" stroke="#000" stroke-width="1.5"/>
<line x1="83.30" y1="264.00" x2="134.00" y2="264.00" stroke="#000" stroke-width="1.5"/>
<text x="131.40" y="239.70" font-size="6.8" text-anchor="end" font-weight="normal" fill="#222">42.3</text>
<line x1="95.97" y1="280.50" x2="95.97" y2="282.30" stroke="#333" stroke-width="1.0"/>
<line x1="81.50" y1="243.75" x2="83.30" y2="243.75" stroke="#333" stroke-width="1.0"/>
<line x1="108.65" y1="280.50" x2="108.65" y2="282.30" stroke="#333" stroke-width="1.0"/>
<line x1="81.50" y1="256.00" x2="83.30" y2="256.00" stroke="#333" stroke-width="1.0"/>
<line x1="121.33" y1="280.50" x2="121.33" y2="282.30" stroke="#333" stroke-width="1.0"/>
<line x1="81.50" y1="268.25" x2="83.30" y2="268.25" stroke="#333" stroke-width="1.0"/>
<line x1="86.47" y1="280.50" x2="86.47" y2="281.50" stroke="#777" stroke-width="0.6"/>
<line x1="82.30" y1="234.56" x2="83.30" y2="234.56" stroke="#777" stroke-width="0.6"/>
<line x1="89.64" y1="280.50" x2="89.64" y2="281.50" stroke="#777" stroke-width="0.6"/>
<line x1="82.30" y1="237.62" x2="83.30" y2="237.62" stroke="#777" stroke-width="0.6"/>
<line x1="92.81" y1="280.50" x2="92.81" y2="281.50" stroke="#777" stroke-width="0.6"/>
<line x1="82.30" y1="240.69" x2="83.30" y2="240.69" stroke="#777" stroke-width="0.6"/>
<line x1="99.14" y1="280.50" x2="99.14" y2="281.50" stroke="#777" stroke-width="0.6"/>
<line x1="82.30" y1="246.81" x2="83.30" y2="246.81" stroke="#777" stroke-width="0.6"/>
<line x1="102.31" y1="280.50" x2="102.31" y2="281.50" stroke="#777" stroke-width="0.6"/>
<line x1="82.30" y1="249.88" x2="83.30" y2="249.88" stroke="#777" stroke-width="0.6"/>
<line x1="105.48" y1="280.50" x2="105.48" y2="281.50" stroke="#777" stroke-width="0.6"/>
<line x1="82.30" y1="252.94" x2="83.30" y2="252.94" stroke="#777" stroke-width="0.6"/>
<line x1="111.82" y1="280.50" x2="111.82" y2="281.50" stroke="#777" stroke-width="0.6"/>
<line x1="82.30" y1="259.06" x2="83.30" y2="259.06" stroke="#777" stroke-width="0.6"/>
<line x1="114.99" y1="280.50" x2="114.99" y2="281.50" stroke="#777" stroke-width="0.6"/>
<line x1="82.30" y1="262.12" x2="83.30" y2="262.12" stroke="#777" stroke-width="0.6"/>
<line x1="118.16" y1="280.50" x2="118.16" y2="281.50" stroke="#777" stroke-width="0.6"/>
<line x1="82.30" y1="265.19" x2="83.30" y2="265.19" stroke="#777" stroke-width="0.6"/>
<line x1="124.49" y1="280.50" x2="124.49" y2="281.50" stroke="#777" stroke-width="0.6"/>
<line x1="82.30" y1="271.31" x2="83.30" y2="271.31" stroke="#777" stroke-width="0.6"/>
<line x1="127.66" y1="280.50" x2="127.66" y2="281.50" stroke="#777" stroke-width="0.6"/>
<line x1="82.30" y1="274.38" x2="83.30" y2="274.38" stroke="#777" stroke-width="0.6"/>
<line x1="130.83" y1="280.50" x2="130.83" y2="281.50" stroke="#777" stroke-width="0.6"/>
<line x1="82.30" y1="277.44" x2="83.30" y2="277.44" stroke="#777" stroke-width="0.6"/>
<line x1="138.00" y1="231.50" x2="189.40" y2="231.50" stroke="#000" stroke-width="1.5"/>
<line x1="189.40" y1="231.50" x2="189.40" y2="280.50" stroke="#000" stroke-width="1.5"/>
<line x1="138.00" y1="230.80" x2="138.00" y2="281.40" stroke="#000" stroke-width="2.0"/>
<line x1="137.10" y1="280.50" x2="190.10" y2="280.50" stroke="#000" stroke-width="2.0"/>
<line x1="157.50" y1="231.50" x2="157.50" y2="280.50" stroke="#000" stroke-width="1.5"/>
<line x1="138.00" y1="264.20" x2="189.40" y2="264.20" stroke="#000" stroke-width="1.5"/>
<text x="186.80" y="239.70" font-size="6.8" text-anchor="end" font-weight="normal" fill="#222">1.6</text>
<line x1="150.85" y1="280.50" x2="150.85" y2="282.30" stroke="#333" stroke-width="1.0"/>
<line x1="136.20" y1="243.75" x2="138.00" y2="243.75" stroke="#333" stroke-width="1.0"/>
<line x1="163.70" y1="280.50" x2="163.70" y2="282.30" stroke="#333" stroke-width="1.0"/>
<line x1="136.20" y1="256.00" x2="138.00" y2="256.00" stroke="#333" stroke-width="1.0"/>
<line x1="176.55" y1="280.50" x2="176.55" y2="282.30" stroke="#333" stroke-width="1.0"/>
<line x1="136.20" y1="268.25" x2="138.00" y2="268.25" stroke="#333" stroke-width="1.0"/>
<line x1="141.21" y1="280.50" x2="141.21" y2="281.50" stroke="#777" stroke-width="0.6"/>
<line x1="137.00" y1="234.56" x2="138.00" y2="234.56" stroke="#777" stroke-width="0.6"/>
<line x1="144.43" y1="280.50" x2="144.43" y2="281.50" stroke="#777" stroke-width="0.6"/>
<line x1="137.00" y1="237.62" x2="138.00" y2="237.62" stroke="#777" stroke-width="0.6"/>
<line x1="147.64" y1="280.50" x2="147.64" y2="281.50" stroke="#777" stroke-width="0.6"/>
<line x1="137.00" y1="240.69" x2="138.00" y2="240.69" stroke="#777" stroke-width="0.6"/>
<line x1="154.06" y1="280.50" x2="154.06" y2="281.50" stroke="#777" stroke-width="0.6"/>
<line x1="137.00" y1="246.81" x2="138.00" y2="246.81" stroke="#777" stroke-width="0.6"/>
<line x1="157.28" y1="280.50" x2="157.28" y2="281.50" stroke="#777" stroke-width="0.6"/>
<line x1="137.00" y1="249.88" x2="138.00" y2="249.88" stroke="#777" stroke-width="0.6"/>
<line x1="160.49" y1="280.50" x2="160.49" y2="281.50" stroke="#777" stroke-width="0.6"/>
<line x1="137.00" y1="252.94" x2="138.00" y2="252.94" stroke="#777" stroke-width="0.6"/>
<line x1="166.91" y1="280.50" x2="166.91" y2="281.50" stroke="#777" stroke-width="0.6"/>
<line x1="137.00" y1="259.06" x2="138.00" y2="259.06" stroke="#777" stroke-width="0.6"/>
<line x1="170.12" y1="280.50" x2="170.12" y2="281.50" stroke="#777" stroke-width="0.6"/>
<line x1="137.00" y1="262.12" x2="138.00" y2="262.12" stroke="#777" stroke-width="0.6"/>
<line x1="173.34" y1="280.50" x2="173.34" y2="281.50" stroke="#777" stroke-width="0.6"/>
<line x1="137.00" y1="265.19" x2="138.00" y2="265.19" stroke="#777" stroke-width="0.6"/>
<line x1="179.76" y1="280.50" x2="179.76" y2="281.50" stroke="#777" stroke-width="0.6"/>
<line x1="137.00" y1="271.31" x2="138.00" y2="271.31" stroke="#777" stroke-width="0.6"/>
<line x1="182.98" y1="280.50" x2="182.98" y2="281.50" stroke="#777" stroke-width="0.6"/>
<line x1="137.00" y1="274.38" x2="138.00" y2="274.38" stroke="#777" stroke-width="0.6"/>
<line x1="186.19" y1="280.50" x2="186.19" y2="281.50" stroke="#777" stroke-width="0.6"/>
<line x1="137.00" y1="277.44" x2="138.00" y2="277.44" stroke="#777" stroke-width="0.6"/>
<line x1="28.60" y1="286.00" x2="78.80" y2="286.00" stroke="#000" stroke-width="1.5"/>
<line x1="78.80" y1="286.00" x2="78.80" y2="335.50" stroke="#000" stroke-width="1.5"/>
<line x1="28.60" y1="285.30" x2="28.60" y2="336.40" stroke="#000" stroke-width="2.0"/>
<line x1="27.70" y1="335.50" x2="79.50" y2="335.50" stroke="#000" stroke-width="2.0"/>
<line x1="46.30" y1="286.00" x2="46.30" y2="335.50" stroke="#000" stroke-width="1.5"/>
<line x1="28.60" y1="317.60" x2="78.80" y2="317.60" stroke="#000" stroke-width="1.5"/>
<text x="76.20" y="294.20" font-size="6.8" text-anchor="end" font-weight="normal" fill="#222">1.4</text>
<line x1="41.15" y1="335.50" x2="41.15" y2="337.30" stroke="#333" stroke-width="1.0"/>
<line x1="26.80" y1="298.38" x2="28.60" y2="298.38" stroke="#333" stroke-width="1.0"/>
<line x1="53.70" y1="335.50" x2="53.70" y2="337.30" stroke="#333" stroke-width="1.0"/>
<line x1="26.80" y1="310.75" x2="28.60" y2="310.75" stroke="#333" stroke-width="1.0"/>
<line x1="66.25" y1="335.50" x2="66.25" y2="337.30" stroke="#333" stroke-width="1.0"/>
<line x1="26.80" y1="323.12" x2="28.60" y2="323.12" stroke="#333" stroke-width="1.0"/>
<line x1="31.74" y1="335.50" x2="31.74" y2="336.50" stroke="#777" stroke-width="0.6"/>
<line x1="27.60" y1="289.09" x2="28.60" y2="289.09" stroke="#777" stroke-width="0.6"/>
<line x1="34.88" y1="335.50" x2="34.88" y2="336.50" stroke="#777" stroke-width="0.6"/>
<line x1="27.60" y1="292.19" x2="28.60" y2="292.19" stroke="#777" stroke-width="0.6"/>
<line x1="38.01" y1="335.50" x2="38.01" y2="336.50" stroke="#777" stroke-width="0.6"/>
<line x1="27.60" y1="295.28" x2="28.60" y2="295.28" stroke="#777" stroke-width="0.6"/>
<line x1="44.29" y1="335.50" x2="44.29" y2="336.50" stroke="#777" stroke-width="0.6"/>
<line x1="27.60" y1="301.47" x2="28.60" y2="301.47" stroke="#777" stroke-width="0.6"/>
<line x1="47.42" y1="335.50" x2="47.42" y2="336.50" stroke="#777" stroke-width="0.6"/>
<line x1="27.60" y1="304.56" x2="28.60" y2="304.56" stroke="#777" stroke-width="0.6"/>
<line x1="50.56" y1="335.50" x2="50.56" y2="336.50" stroke="#777" stroke-width="0.6"/>
<line x1="27.60" y1="307.66" x2="28.60" y2="307.66" stroke="#777" stroke-width="0.6"/>
<line x1="56.84" y1="335.50" x2="56.84" y2="336.50" stroke="#777" stroke-width="0.6"/>
<line x1="27.60" y1="313.84" x2="28.60" y2="313.84" stroke="#777" stroke-width="0.6"/>
<line x1="59.97" y1="335.50" x2="59.97" y2="336.50" stroke="#777" stroke-width="0.6"/>
<line x1="27.60" y1="316.94" x2="28.60" y2="316.94" stroke="#777" stroke-width="0.6"/>
<line x1="63.11" y1="335.50" x2="63.11" y2="336.50" stroke="#777" stroke-width="0.6"/>
<line x1="27.60" y1="320.03" x2="28.60" y2="320.03" stroke="#777" stroke-width="0.6"/>
<line x1="69.39" y1="335.50" x2="69.39" y2="336.50" stroke="#777" stroke-width="0.6"/>
<line x1="27.60" y1="326.22" x2="28.60" y2="326.22" stroke="#777" stroke-width="0.6"/>
<line x1="72.53" y1="335.50" x2="72.53" y2="336.50" stroke="#777" stroke-width="0.6"/>
<line x1="27.60" y1="329.31" x2="28.60" y2="329.31" stroke="#777" stroke-width="0.6"/>
<line x1="75.66" y1="335.50" x2="75.66" y2="336.50" stroke="#777" stroke-width="0.6"/>
<line x1="27.60" y1="332.41" x2="28.60" y2="332.41" stroke="#777" stroke-width="0.6"/>
<line x1="83.30" y1="286.00" x2="134.00" y2="286.00" stroke="#000" stroke-width="1.5"/>
<line x1="134.00" y1="286.00" x2="134.00" y2="335.50" stroke="#000" stroke-width="1.5"/>
<line x1="83.30" y1="285.30" x2="83.30" y2="336.40" stroke="#000" stroke-width="2.0"/>
<line x1="82.40" y1="335.50" x2="134.70" y2="335.50" stroke="#000" stroke-width="2.0"/>
<line x1="98.30" y1="286.00" x2="98.30" y2="335.50" stroke="#000" stroke-width="1.5"/>
<line x1="83.30" y1="316.20" x2="134.00" y2="316.20" stroke="#000" stroke-width="1.5"/>
<text x="131.40" y="294.20" font-size="6.8" text-anchor="end" font-weight="normal" fill="#222">3.9</text>
<line x1="95.97" y1="335.50" x2="95.97" y2="337.30" stroke="#333" stroke-width="1.0"/>
<line x1="81.50" y1="298.38" x2="83.30" y2="298.38" stroke="#333" stroke-width="1.0"/>
<line x1="108.65" y1="335.50" x2="108.65" y2="337.30" stroke="#333" stroke-width="1.0"/>
<line x1="81.50" y1="310.75" x2="83.30" y2="310.75" stroke="#333" stroke-width="1.0"/>
<line x1="121.33" y1="335.50" x2="121.33" y2="337.30" stroke="#333" stroke-width="1.0"/>
<line x1="81.50" y1="323.12" x2="83.30" y2="323.12" stroke="#333" stroke-width="1.0"/>
<line x1="86.47" y1="335.50" x2="86.47" y2="336.50" stroke="#777" stroke-width="0.6"/>
<line x1="82.30" y1="289.09" x2="83.30" y2="289.09" stroke="#777" stroke-width="0.6"/>
<line x1="89.64" y1="335.50" x2="89.64" y2="336.50" stroke="#777" stroke-width="0.6"/>
<line x1="82.30" y1="292.19" x2="83.30" y2="292.19" stroke="#777" stroke-width="0.6"/>
<line x1="92.81" y1="335.50" x2="92.81" y2="336.50" stroke="#777" stroke-width="0.6"/>
<line x1="82.30" y1="295.28" x2="83.30" y2="295.28" stroke="#777" stroke-width="0.6"/>
<line x1="99.14" y1="335.50" x2="99.14" y2="336.50" stroke="#777" stroke-width="0.6"/>
<line x1="82.30" y1="301.47" x2="83.30" y2="301.47" stroke="#777" stroke-width="0.6"/>
<line x1="102.31" y1="335.50" x2="102.31" y2="336.50" stroke="#777" stroke-width="0.6"/>
<line x1="82.30" y1="304.56" x2="83.30" y2="304.56" stroke="#777" stroke-width="0.6"/>
<line x1="105.48" y1="335.50" x2="105.48" y2="336.50" stroke="#777" stroke-width="0.6"/>
<line x1="82.30" y1="307.66" x2="83.30" y2="307.66" stroke="#777" stroke-width="0.6"/>
<line x1="111.82" y1="335.50" x2="111.82" y2="336.50" stroke="#777" stroke-width="0.6"/>
<line x1="82.30" y1="313.84" x2="83.30" y2="313.84" stroke="#777" stroke-width="0.6"/>
<line x1="114.99" y1="335.50" x2="114.99" y2="336.50" stroke="#777" stroke-width="0.6"/>
<line x1="82.30" y1="316.94" x2="83.30" y2="316.94" stroke="#777" stroke-width="0.6"/>
<line x1="118.16" y1="335.50" x2="118.16" y2="336.50" stroke="#777" stroke-width="0.6"/>
<line x1="82.30" y1="320.03" x2="83.30" y2="320.03" stroke="#777" stroke-width="0.6"/>
<line x1="124.49" y1="335.50" x2="124.49" y2="336.50" stroke="#777" stroke-width="0.6"/>
<line x1="82.30" y1="326.22" x2="83.30" y2="326.22" stroke="#777" stroke-width="0.6"/>
<line x1="127.66" y1="335.50" x2="127.66" y2="336.50" stroke="#777" stroke-width="0.6"/>
<line x1="82.30" y1="329.31" x2="83.30" y2="329.31" stroke="#777" stroke-width="0.6"/>
<line x1="130.83" y1="335.50" x2="130.83" y2="336.50" stroke="#777" stroke-width="0.6"/>
<line x1="82.30" y1="332.41" x2="83.30" y2="332.41" stroke="#777" stroke-width="0.6"/>
<line x1="138.00" y1="286.00" x2="189.40" y2="286.00" stroke="#000" stroke-width="1.5"/>
<line x1="189.40" y1="286.00" x2="189.40" y2="335.50" stroke="#000" stroke-width="1.5"/>
<line x1="138.00" y1="285.30" x2="138.00" y2="336.40" stroke="#000" stroke-width="2.0"/>
<line x1="137.10" y1="335.50" x2="190.10" y2="335.50" stroke="#000" stroke-width="2.0"/>
<line x1="157.60" y1="286.00" x2="157.60" y2="335.50" stroke="#000" stroke-width="1.5"/>
<line x1="138.00" y1="318.60" x2="189.40" y2="318.60" stroke="#000" stroke-width="1.5"/>
<text x="186.80" y="294.20" font-size="6.8" text-anchor="end" font-weight="normal" fill="#222">5.1</text>
<line x1="150.85" y1="335.50" x2="150.85" y2="337.30" stroke="#333" stroke-width="1.0"/>
<line x1="136.20" y1="298.38" x2="138.00" y2="298.38" stroke="#333" stroke-width="1.0"/>
<line x1="163.70" y1="335.50" x2="163.70" y2="337.30" stroke="#333" stroke-width="1.0"/>
<line x1="136.20" y1="310.75" x2="138.00" y2="310.75" stroke="#333" stroke-width="1.0"/>
<line x1="176.55" y1="335.50" x2="176.55" y2="337.30" stroke="#333" stroke-width="1.0"/>
<line x1="136.20" y1="323.12" x2="138.00" y2="323.12" stroke="#333" stroke-width="1.0"/>
<line x1="141.21" y1="335.50" x2="141.21" y2="336.50" stroke="#777" stroke-width="0.6"/>
<line x1="137.00" y1="289.09" x2="138.00" y2="289.09" stroke="#777" stroke-width="0.6"/>
<line x1="144.43" y1="335.50" x2="144.43" y2="336.50" stroke="#777" stroke-width="0.6"/>
<line x1="137.00" y1="292.19" x2="138.00" y2="292.19" stroke="#777" stroke-width="0.6"/>
<line x1="147.64" y1="335.50" x2="147.64" y2="336.50" stroke="#777" stroke-width="0.6"/>
<line x1="137.00" y1="295.28" x2="138.00" y2="295.28" stroke="#777" stroke-width="0.6"/>
<line x1="154.06" y1="335.50" x2="154.06" y2="336.50" stroke="#777" stroke-width="0.6"/>
<line x1="137.00" y1="301.47" x2="138.00" y2="301.47" stroke="#777" stroke-width="0.6"/>
<line x1="157.28" y1="335.50" x2="157.28" y2="336.50" stroke="#777" stroke-width="0.6"/>
<line x1="137.00" y1="304.56" x2="138.00" y2="304.56" stroke="#777" stroke-width="0.6"/>
<line x1="160.49" y1="335.50" x2="160.49" y2="336.50" stroke="#777" stroke-width="0.6"/>
<line x1="137.00" y1="307.66" x2="138.00" y2="307.66" stroke="#777" stroke-width="0.6"/>
<line x1="166.91" y1="335.50" x2="166.91" y2="336.50" stroke="#777" stroke-width="0.6"/>
<line x1="137.00" y1="313.84" x2="138.00" y2="313.84" stroke="#777" stroke-width="0.6"/>
<line x1="170.12" y1="335.50" x2="170.12" y2="336.50" stroke="#777" stroke-width="0.6"/>
<line x1="137.00" y1="316.94" x2="138.00" y2="316.94" stroke="#777" stroke-width="0.6"/>
<line x1="173.34" y1="335.50" x2="173.34" y2="336.50" stroke="#777" stroke-width="0.6"/>
<line x1="137.00" y1="320.03" x2="138.00" y2="320.03" stroke="#777" stroke-width="0.6"/>
<line x1="179.76" y1="335.50" x2="179.76" y2="336.50" stroke="#777" stroke-width="0.6"/>
<line x1="137.00" y1="326.22" x2="138.00" y2="326.22" stroke="#777" stroke-width="0.6"/>
<line x1="182.98" y1="335.50" x2="182.98" y2="336.50" stroke="#777" stroke-width="0.6"/>
<line x1="137.00" y1="329.31" x2="138.00" y2="329.31" stroke="#777" stroke-width="0.6"/>
<line x1="186.19" y1="335.50" x2="186.19" y2="336.50" stroke="#777" stroke-width="0.6"/>
<line x1="137.00" y1="332.41" x2="138.00" y2="332.41" stroke="#777" stroke-width="0.6"/>
<text x="1.60" y="256.00" font-size="8" text-anchor="start" fill="#222">T<tspan font-size="6.4" dy="1.8">CM/E</tspan></text>
<text x="3.20" y="309.40" font-size="8" text-anchor="start" fill="#222">T<tspan font-size="6.4" dy="1.8">EM/E</tspan></text>
<text x="23.20" y="283.60" font-size="7.6" text-anchor="middle" font-weight="normal" fill="#222" transform="rotate(-90 23.20 283.60)">CD45</text>
<text x="54.80" y="346.30" font-size="7.5" text-anchor="middle" font-weight="normal" fill="#222">CD62L</text>
<text x="108.80" y="346.30" font-size="7.5" text-anchor="middle" font-weight="normal" fill="#222">CD28</text>
<text x="163.50" y="346.30" font-size="7.5" text-anchor="middle" font-weight="normal" fill="#222">CCR7</text>
<text x="216.20" y="235.70" font-size="10.4" text-anchor="start" font-weight="bold" fill="#000">D</text>
<rect x="236.50" y="231.40" width="7.80" height="4.60" fill="#fff" stroke="#000" stroke-width="1.2"/>
<rect x="235.90" y="240.80" width="9.00" height="5.80" fill="#111"/>
<text x="246.60" y="237.00" font-size="7.6" text-anchor="start" fill="#222">T<tspan font-size="6.2" dy="1.8">CM/E</tspan></text>
<text x="246.60" y="246.60" font-size="7.6" text-anchor="start" fill="#222">T<tspan font-size="6.2" dy="1.8">EM/E</tspan></text>
<line x1="241.20" y1="258.60" x2="241.20" y2="357.60" stroke="#000" stroke-width="1.4"/>
<line x1="240.60" y1="357.00" x2="263.90" y2="357.00" stroke="#000" stroke-width="1.4"/>
<line x1="239.20" y1="357.00" x2="241.20" y2="357.00" stroke="#000" stroke-width="1.2"/>
<text x="238.60" y="359.30" font-size="6.8" text-anchor="end" font-weight="normal" fill="#222">0</text>
<line x1="239.20" y1="324.35" x2="241.20" y2="324.35" stroke="#000" stroke-width="1.2"/>
<text x="238.60" y="326.65" font-size="6.8" text-anchor="end" font-weight="normal" fill="#222">0.5</text>
<line x1="239.20" y1="291.70" x2="241.20" y2="291.70" stroke="#000" stroke-width="1.2"/>
<text x="238.60" y="294.00" font-size="6.8" text-anchor="end" font-weight="normal" fill="#222">1.0</text>
<line x1="239.20" y1="259.05" x2="241.20" y2="259.05" stroke="#000" stroke-width="1.2"/>
<text x="238.60" y="261.35" font-size="6.8" text-anchor="end" font-weight="normal" fill="#222">1.5</text>
<rect x="244.50" y="273.80" width="7.40" height="83.20" fill="#fff" stroke="#000" stroke-width="1.3"/>
<rect x="252.40" y="352.80" width="7.70" height="4.20" fill="#000"/>
<text x="257.50" y="355.80" font-size="15.5" text-anchor="middle" font-weight="normal" fill="#111">*</text>
<line x1="252.20" y1="357.00" x2="252.20" y2="359.20" stroke="#000" stroke-width="1.1"/>
<text x="251.90" y="366.40" font-size="7.6" text-anchor="middle" font-weight="normal" fill="#222">IL-2</text>
<text x="228.30" y="306.30" font-size="10.6" text-anchor="middle" font-weight="normal" fill="#222" transform="rotate(-90 228.30 306.30)">ng/mL</text>
<text x="291.90" y="236.70" font-size="10.6" text-anchor="start" font-weight="bold" fill="#000">E</text>
<line x1="338.20" y1="232.00" x2="338.20" y2="310.80" stroke="#000" stroke-width="1.4"/>
<line x1="337.60" y1="310.20" x2="419.60" y2="310.20" stroke="#000" stroke-width="1.4"/>
<line x1="336.20" y1="307.40" x2="338.20" y2="307.40" stroke="#000" stroke-width="1.2"/>
<text x="335.40" y="309.70" font-size="6.8" text-anchor="end" font-weight="normal" fill="#222">0</text>
<line x1="336.20" y1="288.61" x2="338.20" y2="288.61" stroke="#000" stroke-width="1.2"/>
<text x="335.40" y="290.91" font-size="6.8" text-anchor="end" font-weight="normal" fill="#222">25</text>
<line x1="336.20" y1="269.82" x2="338.20" y2="269.82" stroke="#000" stroke-width="1.2"/>
<text x="335.40" y="272.12" font-size="6.8" text-anchor="end" font-weight="normal" fill="#222">50</text>
<line x1="336.20" y1="251.03" x2="338.20" y2="251.03" stroke="#000" stroke-width="1.2"/>
<text x="335.40" y="253.33" font-size="6.8" text-anchor="end" font-weight="normal" fill="#222">75</text>
<line x1="336.20" y1="232.24" x2="338.20" y2="232.24" stroke="#000" stroke-width="1.2"/>
<text x="335.40" y="234.54" font-size="6.8" text-anchor="end" font-weight="normal" fill="#222">100</text>
<line x1="346.33" y1="310.20" x2="346.33" y2="312.40" stroke="#000" stroke-width="1.1"/>
<line x1="382.31" y1="310.20" x2="382.31" y2="312.40" stroke="#000" stroke-width="1.1"/>
<line x1="411.10" y1="310.20" x2="411.10" y2="312.40" stroke="#000" stroke-width="1.1"/>
<line x1="416.86" y1="310.20" x2="416.86" y2="312.40" stroke="#000" stroke-width="1.1"/>
<line x1="338.20" y1="316.20" x2="338.20" y2="394.80" stroke="#000" stroke-width="1.4"/>
<line x1="337.60" y1="394.20" x2="419.60" y2="394.20" stroke="#000" stroke-width="1.4"/>
<line x1="336.20" y1="391.60" x2="338.20" y2="391.60" stroke="#000" stroke-width="1.2"/>
<text x="335.40" y="393.90" font-size="6.8" text-anchor="end" font-weight="normal" fill="#222">0</text>
<line x1="336.20" y1="372.81" x2="338.20" y2="372.81" stroke="#000" stroke-width="1.2"/>
<text x="335.40" y="375.11" font-size="6.8" text-anchor="end" font-weight="normal" fill="#222">25</text>
<line x1="336.20" y1="354.02" x2="338.20" y2="354.02" stroke="#000" stroke-width="1.2"/>
<text x="335.40" y="356.32" font-size="6.8" text-anchor="end" font-weight="normal" fill="#222">50</text>
<line x1="336.20" y1="335.23" x2="338.20" y2="335.23" stroke="#000" stroke-width="1.2"/>
<text x="335.40" y="337.53" font-size="6.8" text-anchor="end" font-weight="normal" fill="#222">75</text>
<line x1="336.20" y1="316.44" x2="338.20" y2="316.44" stroke="#000" stroke-width="1.2"/>
<text x="335.40" y="318.74" font-size="6.8" text-anchor="end" font-weight="normal" fill="#222">100</text>
<line x1="346.33" y1="394.20" x2="346.33" y2="396.40" stroke="#000" stroke-width="1.1"/>
<line x1="382.31" y1="394.20" x2="382.31" y2="396.40" stroke="#000" stroke-width="1.1"/>
<line x1="411.10" y1="394.20" x2="411.10" y2="396.40" stroke="#000" stroke-width="1.1"/>
<line x1="416.86" y1="394.20" x2="416.86" y2="396.40" stroke="#000" stroke-width="1.1"/>
<text x="346.33" y="404.60" font-size="6.8" text-anchor="middle" font-weight="normal" fill="#222">50</text>
<text x="382.31" y="404.60" font-size="6.8" text-anchor="middle" font-weight="normal" fill="#222">25</text>
<text x="411.90" y="404.60" font-size="6.8" text-anchor="middle" font-weight="normal" fill="#222">5</text>
<text x="417.86" y="404.60" font-size="6.8" text-anchor="middle" font-weight="normal" fill="#222">1</text>
<text x="383.20" y="414.40" font-size="9.4" text-anchor="middle" font-weight="normal" fill="#222">Effector:Target</text>
<text x="295.60" y="267.20" font-size="7.8" text-anchor="start" fill="#222">T<tspan font-size="6.4" dy="1.8">CM/E</tspan></text>
<text x="295.60" y="358.40" font-size="7.8" text-anchor="start" fill="#222">T<tspan font-size="6.4" dy="1.8">EM/E</tspan></text>
<text x="323.40" y="346.90" font-size="10.2" text-anchor="start" font-weight="normal" fill="#222" transform="rotate(-90 323.40 346.90)" textLength="8.6" lengthAdjust="spacingAndGlyphs">%</text>
<text x="318.00" y="337.00" font-size="6.4" text-anchor="start" font-weight="normal" fill="#222" transform="rotate(-90 318.00 337.00)">51</text>
<text x="323.40" y="329.70" font-size="10.4" text-anchor="start" font-weight="normal" fill="#222" transform="rotate(-90 323.40 329.70)" textLength="48.0" lengthAdjust="spacingAndGlyphs">Cr Release</text>
<polyline points="346.33,244.60 382.31,242.30 411.10,244.80 416.86,259.60" fill="none" stroke="#000" stroke-width="1.3"/>
<line x1="346.33" y1="240.40" x2="346.33" y2="248.50" stroke="#000" stroke-width="1.2"/>
<line x1="344.13" y1="240.40" x2="348.53" y2="240.40" stroke="#000" stroke-width="1.3"/>
<line x1="344.13" y1="248.50" x2="348.53" y2="248.50" stroke="#000" stroke-width="1.3"/>
<line x1="416.86" y1="255.40" x2="416.86" y2="264.00" stroke="#000" stroke-width="1.2"/>
<line x1="414.66" y1="255.40" x2="419.06" y2="255.40" stroke="#000" stroke-width="1.3"/>
<line x1="414.66" y1="264.00" x2="419.06" y2="264.00" stroke="#000" stroke-width="1.3"/>
<circle cx="346.33" cy="244.60" r="2.7" fill="#000"/>
<circle cx="382.31" cy="242.30" r="2.7" fill="#000"/>
<circle cx="411.10" cy="244.80" r="2.7" fill="#000"/>
<circle cx="416.86" cy="259.60" r="2.7" fill="#000"/>
<polyline points="346.33,262.50 382.31,277.30 411.10,290.80 416.86,299.00" fill="none" stroke="#000" stroke-width="1.3"/>
<line x1="346.33" y1="259.20" x2="346.33" y2="266.00" stroke="#000" stroke-width="1.2"/>
<line x1="344.13" y1="259.20" x2="348.53" y2="259.20" stroke="#000" stroke-width="1.3"/>
<line x1="344.13" y1="266.00" x2="348.53" y2="266.00" stroke="#000" stroke-width="1.3"/>
<rect x="344.13" y="260.30" width="4.4" height="4.4" fill="#fff" stroke="#000" stroke-width="1.2"/>
<rect x="380.11" y="275.10" width="4.4" height="4.4" fill="#fff" stroke="#000" stroke-width="1.2"/>
<rect x="408.90" y="288.60" width="4.4" height="4.4" fill="#fff" stroke="#000" stroke-width="1.2"/>
<rect x="414.66" y="296.80" width="4.4" height="4.4" fill="#fff" stroke="#000" stroke-width="1.2"/>
<polyline points="346.33,306.30 382.31,306.30 411.10,308.80 416.86,308.80" fill="none" stroke="#000" stroke-width="1.3"/>
<line x1="346.33" y1="302.90" x2="346.33" y2="309.80" stroke="#000" stroke-width="1.2"/>
<line x1="344.13" y1="302.90" x2="348.53" y2="302.90" stroke="#000" stroke-width="1.3"/>
<line x1="344.13" y1="309.80" x2="348.53" y2="309.80" stroke="#000" stroke-width="1.3"/>
<polygon points="346.33,303.70 348.93,308.20 343.73,308.20" fill="#fff" stroke="#000" stroke-width="1.2"/>
<polygon points="382.31,303.70 384.91,308.20 379.71,308.20" fill="#fff" stroke="#000" stroke-width="1.2"/>
<polygon points="411.10,306.20 413.70,310.70 408.50,310.70" fill="#fff" stroke="#000" stroke-width="1.2"/>
<polygon points="416.86,306.20 419.46,310.70 414.26,310.70" fill="#fff" stroke="#000" stroke-width="1.2"/>
<polyline points="346.33,328.50 382.31,322.30 411.10,331.50 416.86,349.60" fill="none" stroke="#000" stroke-width="1.3"/>
<line x1="416.86" y1="345.40" x2="416.86" y2="354.00" stroke="#000" stroke-width="1.2"/>
<line x1="414.66" y1="345.40" x2="419.06" y2="345.40" stroke="#000" stroke-width="1.3"/>
<line x1="414.66" y1="354.00" x2="419.06" y2="354.00" stroke="#000" stroke-width="1.3"/>
<circle cx="346.33" cy="328.50" r="2.7" fill="#000"/>
<circle cx="382.31" cy="322.30" r="2.7" fill="#000"/>
<circle cx="411.10" cy="331.50" r="2.7" fill="#000"/>
<circle cx="416.86" cy="349.60" r="2.7" fill="#000"/>
<polyline points="346.33,334.20 382.31,330.60 411.10,341.20 416.86,342.10" fill="none" stroke="#000" stroke-width="1.3"/>
<line x1="382.31" y1="327.60" x2="382.31" y2="338.00" stroke="#000" stroke-width="1.2"/>
<line x1="380.11" y1="327.60" x2="384.51" y2="327.60" stroke="#000" stroke-width="1.3"/>
<line x1="380.11" y1="338.00" x2="384.51" y2="338.00" stroke="#000" stroke-width="1.3"/>
<line x1="411.10" y1="336.80" x2="411.10" y2="348.30" stroke="#000" stroke-width="1.2"/>
<line x1="408.90" y1="336.80" x2="413.30" y2="336.80" stroke="#000" stroke-width="1.3"/>
<line x1="408.90" y1="348.30" x2="413.30" y2="348.30" stroke="#000" stroke-width="1.3"/>
<line x1="416.86" y1="337.60" x2="416.86" y2="350.00" stroke="#000" stroke-width="1.2"/>
<line x1="414.66" y1="337.60" x2="419.06" y2="337.60" stroke="#000" stroke-width="1.3"/>
<line x1="414.66" y1="350.00" x2="419.06" y2="350.00" stroke="#000" stroke-width="1.3"/>
<rect x="344.13" y="332.00" width="4.4" height="4.4" fill="#fff" stroke="#000" stroke-width="1.2"/>
<rect x="380.11" y="328.40" width="4.4" height="4.4" fill="#fff" stroke="#000" stroke-width="1.2"/>
<rect x="408.90" y="339.00" width="4.4" height="4.4" fill="#fff" stroke="#000" stroke-width="1.2"/>
<rect x="414.66" y="339.90" width="4.4" height="4.4" fill="#fff" stroke="#000" stroke-width="1.2"/>
<polyline points="346.33,392.50 382.31,392.50 411.10,390.60 416.86,389.60" fill="none" stroke="#000" stroke-width="1.3"/>
<line x1="416.86" y1="387.20" x2="416.86" y2="392.50" stroke="#000" stroke-width="1.2"/>
<line x1="414.66" y1="387.20" x2="419.06" y2="387.20" stroke="#000" stroke-width="1.3"/>
<line x1="414.66" y1="392.50" x2="419.06" y2="392.50" stroke="#000" stroke-width="1.3"/>
<polygon points="346.33,389.90 348.93,394.40 343.73,394.40" fill="#fff" stroke="#000" stroke-width="1.2"/>
<polygon points="382.31,389.90 384.91,394.40 379.71,394.40" fill="#fff" stroke="#000" stroke-width="1.2"/>
<polygon points="411.10,388.00 413.70,392.50 408.50,392.50" fill="#fff" stroke="#000" stroke-width="1.2"/>
<polygon points="416.86,387.00 419.46,391.50 414.26,391.50" fill="#fff" stroke="#000" stroke-width="1.2"/>
<circle cx="433.2" cy="300.2" r="2.6" fill="#000"/>
<text x="437.60" y="303.40" font-size="7.7" text-anchor="start" font-weight="normal" fill="#222">LCL-OKT3</text>
<rect x="431.0" y="307.5" width="4.4" height="4.4" fill="#fff" stroke="#000" stroke-width="1.2"/>
<text x="437.60" y="312.60" font-size="7.7" text-anchor="start" font-weight="normal" fill="#222">pp65LCL</text>
<polygon points="433.2,315.4 435.8,320.0 430.6,320.0" fill="#fff" stroke="#000" stroke-width="1.2"/>
<text x="437.60" y="321.40" font-size="7.7" text-anchor="start" font-weight="normal" fill="#222">LCL</text>
<text x="-0.30" y="371.60" font-size="11.3" text-anchor="start" font-weight="bold" fill="#000">F</text>
<line x1="28.20" y1="371.50" x2="78.30" y2="371.50" stroke="#000" stroke-width="1.5"/>
<line x1="78.30" y1="371.50" x2="78.30" y2="420.40" stroke="#000" stroke-width="1.5"/>
<line x1="28.20" y1="370.80" x2="28.20" y2="421.30" stroke="#000" stroke-width="2.0"/>
<line x1="27.30" y1="420.40" x2="79.00" y2="420.40" stroke="#000" stroke-width="2.0"/>
<line x1="40.20" y1="371.50" x2="40.20" y2="420.40" stroke="#000" stroke-width="1.5"/>
<line x1="28.20" y1="400.10" x2="78.30" y2="400.10" stroke="#000" stroke-width="1.5"/>
<text x="75.70" y="379.70" font-size="6.8" text-anchor="end" font-weight="normal" fill="#222">4.4</text>
<line x1="40.72" y1="420.40" x2="40.72" y2="422.20" stroke="#333" stroke-width="1.0"/>
<line x1="26.40" y1="383.73" x2="28.20" y2="383.73" stroke="#333" stroke-width="1.0"/>
<line x1="53.25" y1="420.40" x2="53.25" y2="422.20" stroke="#333" stroke-width="1.0"/>
<line x1="26.40" y1="395.95" x2="28.20" y2="395.95" stroke="#333" stroke-width="1.0"/>
<line x1="65.77" y1="420.40" x2="65.77" y2="422.20" stroke="#333" stroke-width="1.0"/>
<line x1="26.40" y1="408.17" x2="28.20" y2="408.17" stroke="#333" stroke-width="1.0"/>
<line x1="31.33" y1="420.40" x2="31.33" y2="421.40" stroke="#777" stroke-width="0.6"/>
<line x1="27.20" y1="374.56" x2="28.20" y2="374.56" stroke="#777" stroke-width="0.6"/>
<line x1="34.46" y1="420.40" x2="34.46" y2="421.40" stroke="#777" stroke-width="0.6"/>
<line x1="27.20" y1="377.61" x2="28.20" y2="377.61" stroke="#777" stroke-width="0.6"/>
<line x1="37.59" y1="420.40" x2="37.59" y2="421.40" stroke="#777" stroke-width="0.6"/>
<line x1="27.20" y1="380.67" x2="28.20" y2="380.67" stroke="#777" stroke-width="0.6"/>
<line x1="43.86" y1="420.40" x2="43.86" y2="421.40" stroke="#777" stroke-width="0.6"/>
<line x1="27.20" y1="386.78" x2="28.20" y2="386.78" stroke="#777" stroke-width="0.6"/>
<line x1="46.99" y1="420.40" x2="46.99" y2="421.40" stroke="#777" stroke-width="0.6"/>
<line x1="27.20" y1="389.84" x2="28.20" y2="389.84" stroke="#777" stroke-width="0.6"/>
<line x1="50.12" y1="420.40" x2="50.12" y2="421.40" stroke="#777" stroke-width="0.6"/>
<line x1="27.20" y1="392.89" x2="28.20" y2="392.89" stroke="#777" stroke-width="0.6"/>
<line x1="56.38" y1="420.40" x2="56.38" y2="421.40" stroke="#777" stroke-width="0.6"/>
<line x1="27.20" y1="399.01" x2="28.20" y2="399.01" stroke="#777" stroke-width="0.6"/>
<line x1="59.51" y1="420.40" x2="59.51" y2="421.40" stroke="#777" stroke-width="0.6"/>
<line x1="27.20" y1="402.06" x2="28.20" y2="402.06" stroke="#777" stroke-width="0.6"/>
<line x1="62.64" y1="420.40" x2="62.64" y2="421.40" stroke="#777" stroke-width="0.6"/>
<line x1="27.20" y1="405.12" x2="28.20" y2="405.12" stroke="#777" stroke-width="0.6"/>
<line x1="68.91" y1="420.40" x2="68.91" y2="421.40" stroke="#777" stroke-width="0.6"/>
<line x1="27.20" y1="411.23" x2="28.20" y2="411.23" stroke="#777" stroke-width="0.6"/>
<line x1="72.04" y1="420.40" x2="72.04" y2="421.40" stroke="#777" stroke-width="0.6"/>
<line x1="27.20" y1="414.29" x2="28.20" y2="414.29" stroke="#777" stroke-width="0.6"/>
<line x1="75.17" y1="420.40" x2="75.17" y2="421.40" stroke="#777" stroke-width="0.6"/>
<line x1="27.20" y1="417.34" x2="28.20" y2="417.34" stroke="#777" stroke-width="0.6"/>
<line x1="83.70" y1="371.50" x2="133.40" y2="371.50" stroke="#000" stroke-width="1.5"/>
<line x1="133.40" y1="371.50" x2="133.40" y2="420.40" stroke="#000" stroke-width="1.5"/>
<line x1="83.70" y1="370.80" x2="83.70" y2="421.30" stroke="#000" stroke-width="2.0"/>
<line x1="82.80" y1="420.40" x2="134.10" y2="420.40" stroke="#000" stroke-width="2.0"/>
<line x1="95.90" y1="371.50" x2="95.90" y2="420.40" stroke="#000" stroke-width="1.5"/>
<line x1="83.70" y1="401.40" x2="133.40" y2="401.40" stroke="#000" stroke-width="1.5"/>
<text x="130.80" y="379.70" font-size="6.8" text-anchor="end" font-weight="normal" fill="#222">4.3</text>
<line x1="96.12" y1="420.40" x2="96.12" y2="422.20" stroke="#333" stroke-width="1.0"/>
<line x1="81.90" y1="383.73" x2="83.70" y2="383.73" stroke="#333" stroke-width="1.0"/>
<line x1="108.55" y1="420.40" x2="108.55" y2="422.20" stroke="#333" stroke-width="1.0"/>
<line x1="81.90" y1="395.95" x2="83.70" y2="395.95" stroke="#333" stroke-width="1.0"/>
<line x1="120.98" y1="420.40" x2="120.98" y2="422.20" stroke="#333" stroke-width="1.0"/>
<line x1="81.90" y1="408.17" x2="83.70" y2="408.17" stroke="#333" stroke-width="1.0"/>
<line x1="86.81" y1="420.40" x2="86.81" y2="421.40" stroke="#777" stroke-width="0.6"/>
<line x1="82.70" y1="374.56" x2="83.70" y2="374.56" stroke="#777" stroke-width="0.6"/>
<line x1="89.91" y1="420.40" x2="89.91" y2="421.40" stroke="#777" stroke-width="0.6"/>
<line x1="82.70" y1="377.61" x2="83.70" y2="377.61" stroke="#777" stroke-width="0.6"/>
<line x1="93.02" y1="420.40" x2="93.02" y2="421.40" stroke="#777" stroke-width="0.6"/>
<line x1="82.70" y1="380.67" x2="83.70" y2="380.67" stroke="#777" stroke-width="0.6"/>
<line x1="99.23" y1="420.40" x2="99.23" y2="421.40" stroke="#777" stroke-width="0.6"/>
<line x1="82.70" y1="386.78" x2="83.70" y2="386.78" stroke="#777" stroke-width="0.6"/>
<line x1="102.34" y1="420.40" x2="102.34" y2="421.40" stroke="#777" stroke-width="0.6"/>
<line x1="82.70" y1="389.84" x2="83.70" y2="389.84" stroke="#777" stroke-width="0.6"/>
<line x1="105.44" y1="420.40" x2="105.44" y2="421.40" stroke="#777" stroke-width="0.6"/>
<line x1="82.70" y1="392.89" x2="83.70" y2="392.89" stroke="#777" stroke-width="0.6"/>
<line x1="111.66" y1="420.40" x2="111.66" y2="421.40" stroke="#777" stroke-width="0.6"/>
<line x1="82.70" y1="399.01" x2="83.70" y2="399.01" stroke="#777" stroke-width="0.6"/>
<line x1="114.76" y1="420.40" x2="114.76" y2="421.40" stroke="#777" stroke-width="0.6"/>
<line x1="82.70" y1="402.06" x2="83.70" y2="402.06" stroke="#777" stroke-width="0.6"/>
<line x1="117.87" y1="420.40" x2="117.87" y2="421.40" stroke="#777" stroke-width="0.6"/>
<line x1="82.70" y1="405.12" x2="83.70" y2="405.12" stroke="#777" stroke-width="0.6"/>
<line x1="124.08" y1="420.40" x2="124.08" y2="421.40" stroke="#777" stroke-width="0.6"/>
<line x1="82.70" y1="411.23" x2="83.70" y2="411.23" stroke="#777" stroke-width="0.6"/>
<line x1="127.19" y1="420.40" x2="127.19" y2="421.40" stroke="#777" stroke-width="0.6"/>
<line x1="82.70" y1="414.29" x2="83.70" y2="414.29" stroke="#777" stroke-width="0.6"/>
<line x1="130.29" y1="420.40" x2="130.29" y2="421.40" stroke="#777" stroke-width="0.6"/>
<line x1="82.70" y1="417.34" x2="83.70" y2="417.34" stroke="#777" stroke-width="0.6"/>
<line x1="139.00" y1="371.50" x2="189.00" y2="371.50" stroke="#000" stroke-width="1.5"/>
<line x1="189.00" y1="371.50" x2="189.00" y2="420.40" stroke="#000" stroke-width="1.5"/>
<line x1="139.00" y1="370.80" x2="139.00" y2="421.30" stroke="#000" stroke-width="2.0"/>
<line x1="138.10" y1="420.40" x2="189.70" y2="420.40" stroke="#000" stroke-width="2.0"/>
<line x1="151.40" y1="371.50" x2="151.40" y2="420.40" stroke="#000" stroke-width="1.5"/>
<line x1="139.00" y1="405.10" x2="189.00" y2="405.10" stroke="#000" stroke-width="1.5"/>
<text x="186.40" y="379.70" font-size="6.8" text-anchor="end" font-weight="normal" fill="#222">98.5</text>
<line x1="151.50" y1="420.40" x2="151.50" y2="422.20" stroke="#333" stroke-width="1.0"/>
<line x1="137.20" y1="383.73" x2="139.00" y2="383.73" stroke="#333" stroke-width="1.0"/>
<line x1="164.00" y1="420.40" x2="164.00" y2="422.20" stroke="#333" stroke-width="1.0"/>
<line x1="137.20" y1="395.95" x2="139.00" y2="395.95" stroke="#333" stroke-width="1.0"/>
<line x1="176.50" y1="420.40" x2="176.50" y2="422.20" stroke="#333" stroke-width="1.0"/>
<line x1="137.20" y1="408.17" x2="139.00" y2="408.17" stroke="#333" stroke-width="1.0"/>
<line x1="142.12" y1="420.40" x2="142.12" y2="421.40" stroke="#777" stroke-width="0.6"/>
<line x1="138.00" y1="374.56" x2="139.00" y2="374.56" stroke="#777" stroke-width="0.6"/>
<line x1="145.25" y1="420.40" x2="145.25" y2="421.40" stroke="#777" stroke-width="0.6"/>
<line x1="138.00" y1="377.61" x2="139.00" y2="377.61" stroke="#777" stroke-width="0.6"/>
<line x1="148.38" y1="420.40" x2="148.38" y2="421.40" stroke="#777" stroke-width="0.6"/>
<line x1="138.00" y1="380.67" x2="139.00" y2="380.67" stroke="#777" stroke-width="0.6"/>
<line x1="154.62" y1="420.40" x2="154.62" y2="421.40" stroke="#777" stroke-width="0.6"/>
<line x1="138.00" y1="386.78" x2="139.00" y2="386.78" stroke="#777" stroke-width="0.6"/>
<line x1="157.75" y1="420.40" x2="157.75" y2="421.40" stroke="#777" stroke-width="0.6"/>
<line x1="138.00" y1="389.84" x2="139.00" y2="389.84" stroke="#777" stroke-width="0.6"/>
<line x1="160.88" y1="420.40" x2="160.88" y2="421.40" stroke="#777" stroke-width="0.6"/>
<line x1="138.00" y1="392.89" x2="139.00" y2="392.89" stroke="#777" stroke-width="0.6"/>
<line x1="167.12" y1="420.40" x2="167.12" y2="421.40" stroke="#777" stroke-width="0.6"/>
<line x1="138.00" y1="399.01" x2="139.00" y2="399.01" stroke="#777" stroke-width="0.6"/>
<line x1="170.25" y1="420.40" x2="170.25" y2="421.40" stroke="#777" stroke-width="0.6"/>
<line x1="138.00" y1="402.06" x2="139.00" y2="402.06" stroke="#777" stroke-width="0.6"/>
<line x1="173.38" y1="420.40" x2="173.38" y2="421.40" stroke="#777" stroke-width="0.6"/>
<line x1="138.00" y1="405.12" x2="139.00" y2="405.12" stroke="#777" stroke-width="0.6"/>
<line x1="179.62" y1="420.40" x2="179.62" y2="421.40" stroke="#777" stroke-width="0.6"/>
<line x1="138.00" y1="411.23" x2="139.00" y2="411.23" stroke="#777" stroke-width="0.6"/>
<line x1="182.75" y1="420.40" x2="182.75" y2="421.40" stroke="#777" stroke-width="0.6"/>
<line x1="138.00" y1="414.29" x2="139.00" y2="414.29" stroke="#777" stroke-width="0.6"/>
<line x1="185.88" y1="420.40" x2="185.88" y2="421.40" stroke="#777" stroke-width="0.6"/>
<line x1="138.00" y1="417.34" x2="139.00" y2="417.34" stroke="#777" stroke-width="0.6"/>
<line x1="28.20" y1="425.30" x2="78.30" y2="425.30" stroke="#000" stroke-width="1.5"/>
<line x1="78.30" y1="425.30" x2="78.30" y2="474.40" stroke="#000" stroke-width="1.5"/>
<line x1="28.20" y1="424.60" x2="28.20" y2="475.30" stroke="#000" stroke-width="2.0"/>
<line x1="27.30" y1="474.40" x2="79.00" y2="474.40" stroke="#000" stroke-width="2.0"/>
<line x1="40.20" y1="425.30" x2="40.20" y2="474.40" stroke="#000" stroke-width="1.5"/>
<line x1="28.20" y1="456.40" x2="78.30" y2="456.40" stroke="#000" stroke-width="1.5"/>
<text x="75.70" y="433.50" font-size="6.8" text-anchor="end" font-weight="normal" fill="#222">90.7</text>
<line x1="40.72" y1="474.40" x2="40.72" y2="476.20" stroke="#333" stroke-width="1.0"/>
<line x1="26.40" y1="437.57" x2="28.20" y2="437.57" stroke="#333" stroke-width="1.0"/>
<line x1="53.25" y1="474.40" x2="53.25" y2="476.20" stroke="#333" stroke-width="1.0"/>
<line x1="26.40" y1="449.85" x2="28.20" y2="449.85" stroke="#333" stroke-width="1.0"/>
<line x1="65.77" y1="474.40" x2="65.77" y2="476.20" stroke="#333" stroke-width="1.0"/>
<line x1="26.40" y1="462.12" x2="28.20" y2="462.12" stroke="#333" stroke-width="1.0"/>
<line x1="31.33" y1="474.40" x2="31.33" y2="475.40" stroke="#777" stroke-width="0.6"/>
<line x1="27.20" y1="428.37" x2="28.20" y2="428.37" stroke="#777" stroke-width="0.6"/>
<line x1="34.46" y1="474.40" x2="34.46" y2="475.40" stroke="#777" stroke-width="0.6"/>
<line x1="27.20" y1="431.44" x2="28.20" y2="431.44" stroke="#777" stroke-width="0.6"/>
<line x1="37.59" y1="474.40" x2="37.59" y2="475.40" stroke="#777" stroke-width="0.6"/>
<line x1="27.20" y1="434.51" x2="28.20" y2="434.51" stroke="#777" stroke-width="0.6"/>
<line x1="43.86" y1="474.40" x2="43.86" y2="475.40" stroke="#777" stroke-width="0.6"/>
<line x1="27.20" y1="440.64" x2="28.20" y2="440.64" stroke="#777" stroke-width="0.6"/>
<line x1="46.99" y1="474.40" x2="46.99" y2="475.40" stroke="#777" stroke-width="0.6"/>
<line x1="27.20" y1="443.71" x2="28.20" y2="443.71" stroke="#777" stroke-width="0.6"/>
<line x1="50.12" y1="474.40" x2="50.12" y2="475.40" stroke="#777" stroke-width="0.6"/>
<line x1="27.20" y1="446.78" x2="28.20" y2="446.78" stroke="#777" stroke-width="0.6"/>
<line x1="56.38" y1="474.40" x2="56.38" y2="475.40" stroke="#777" stroke-width="0.6"/>
<line x1="27.20" y1="452.92" x2="28.20" y2="452.92" stroke="#777" stroke-width="0.6"/>
<line x1="59.51" y1="474.40" x2="59.51" y2="475.40" stroke="#777" stroke-width="0.6"/>
<line x1="27.20" y1="455.99" x2="28.20" y2="455.99" stroke="#777" stroke-width="0.6"/>
<line x1="62.64" y1="474.40" x2="62.64" y2="475.40" stroke="#777" stroke-width="0.6"/>
<line x1="27.20" y1="459.06" x2="28.20" y2="459.06" stroke="#777" stroke-width="0.6"/>
<line x1="68.91" y1="474.40" x2="68.91" y2="475.40" stroke="#777" stroke-width="0.6"/>
<line x1="27.20" y1="465.19" x2="28.20" y2="465.19" stroke="#777" stroke-width="0.6"/>
<line x1="72.04" y1="474.40" x2="72.04" y2="475.40" stroke="#777" stroke-width="0.6"/>
<line x1="27.20" y1="468.26" x2="28.20" y2="468.26" stroke="#777" stroke-width="0.6"/>
<line x1="75.17" y1="474.40" x2="75.17" y2="475.40" stroke="#777" stroke-width="0.6"/>
<line x1="27.20" y1="471.33" x2="28.20" y2="471.33" stroke="#777" stroke-width="0.6"/>
<line x1="83.70" y1="425.30" x2="133.40" y2="425.30" stroke="#000" stroke-width="1.5"/>
<line x1="133.40" y1="425.30" x2="133.40" y2="474.40" stroke="#000" stroke-width="1.5"/>
<line x1="83.70" y1="424.60" x2="83.70" y2="475.30" stroke="#000" stroke-width="2.0"/>
<line x1="82.80" y1="474.40" x2="134.10" y2="474.40" stroke="#000" stroke-width="2.0"/>
<line x1="95.90" y1="425.30" x2="95.90" y2="474.40" stroke="#000" stroke-width="1.5"/>
<line x1="83.70" y1="456.10" x2="133.40" y2="456.10" stroke="#000" stroke-width="1.5"/>
<text x="130.80" y="433.50" font-size="6.8" text-anchor="end" font-weight="normal" fill="#222">3.6</text>
<line x1="96.12" y1="474.40" x2="96.12" y2="476.20" stroke="#333" stroke-width="1.0"/>
<line x1="81.90" y1="437.57" x2="83.70" y2="437.57" stroke="#333" stroke-width="1.0"/>
<line x1="108.55" y1="474.40" x2="108.55" y2="476.20" stroke="#333" stroke-width="1.0"/>
<line x1="81.90" y1="449.85" x2="83.70" y2="449.85" stroke="#333" stroke-width="1.0"/>
<line x1="120.98" y1="474.40" x2="120.98" y2="476.20" stroke="#333" stroke-width="1.0"/>
<line x1="81.90" y1="462.12" x2="83.70" y2="462.12" stroke="#333" stroke-width="1.0"/>
<line x1="86.81" y1="474.40" x2="86.81" y2="475.40" stroke="#777" stroke-width="0.6"/>
<line x1="82.70" y1="428.37" x2="83.70" y2="428.37" stroke="#777" stroke-width="0.6"/>
<line x1="89.91" y1="474.40" x2="89.91" y2="475.40" stroke="#777" stroke-width="0.6"/>
<line x1="82.70" y1="431.44" x2="83.70" y2="431.44" stroke="#777" stroke-width="0.6"/>
<line x1="93.02" y1="474.40" x2="93.02" y2="475.40" stroke="#777" stroke-width="0.6"/>
<line x1="82.70" y1="434.51" x2="83.70" y2="434.51" stroke="#777" stroke-width="0.6"/>
<line x1="99.23" y1="474.40" x2="99.23" y2="475.40" stroke="#777" stroke-width="0.6"/>
<line x1="82.70" y1="440.64" x2="83.70" y2="440.64" stroke="#777" stroke-width="0.6"/>
<line x1="102.34" y1="474.40" x2="102.34" y2="475.40" stroke="#777" stroke-width="0.6"/>
<line x1="82.70" y1="443.71" x2="83.70" y2="443.71" stroke="#777" stroke-width="0.6"/>
<line x1="105.44" y1="474.40" x2="105.44" y2="475.40" stroke="#777" stroke-width="0.6"/>
<line x1="82.70" y1="446.78" x2="83.70" y2="446.78" stroke="#777" stroke-width="0.6"/>
<line x1="111.66" y1="474.40" x2="111.66" y2="475.40" stroke="#777" stroke-width="0.6"/>
<line x1="82.70" y1="452.92" x2="83.70" y2="452.92" stroke="#777" stroke-width="0.6"/>
<line x1="114.76" y1="474.40" x2="114.76" y2="475.40" stroke="#777" stroke-width="0.6"/>
<line x1="82.70" y1="455.99" x2="83.70" y2="455.99" stroke="#777" stroke-width="0.6"/>
<line x1="117.87" y1="474.40" x2="117.87" y2="475.40" stroke="#777" stroke-width="0.6"/>
<line x1="82.70" y1="459.06" x2="83.70" y2="459.06" stroke="#777" stroke-width="0.6"/>
<line x1="124.08" y1="474.40" x2="124.08" y2="475.40" stroke="#777" stroke-width="0.6"/>
<line x1="82.70" y1="465.19" x2="83.70" y2="465.19" stroke="#777" stroke-width="0.6"/>
<line x1="127.19" y1="474.40" x2="127.19" y2="475.40" stroke="#777" stroke-width="0.6"/>
<line x1="82.70" y1="468.26" x2="83.70" y2="468.26" stroke="#777" stroke-width="0.6"/>
<line x1="130.29" y1="474.40" x2="130.29" y2="475.40" stroke="#777" stroke-width="0.6"/>
<line x1="82.70" y1="471.33" x2="83.70" y2="471.33" stroke="#777" stroke-width="0.6"/>
<line x1="139.00" y1="425.30" x2="189.00" y2="425.30" stroke="#000" stroke-width="1.5"/>
<line x1="189.00" y1="425.30" x2="189.00" y2="474.40" stroke="#000" stroke-width="1.5"/>
<line x1="139.00" y1="424.60" x2="139.00" y2="475.30" stroke="#000" stroke-width="2.0"/>
<line x1="138.10" y1="474.40" x2="189.70" y2="474.40" stroke="#000" stroke-width="2.0"/>
<line x1="151.40" y1="425.30" x2="151.40" y2="474.40" stroke="#000" stroke-width="1.5"/>
<line x1="139.00" y1="455.50" x2="189.00" y2="455.50" stroke="#000" stroke-width="1.5"/>
<text x="186.40" y="433.50" font-size="6.8" text-anchor="end" font-weight="normal" fill="#222">96.0</text>
<line x1="151.50" y1="474.40" x2="151.50" y2="476.20" stroke="#333" stroke-width="1.0"/>
<line x1="137.20" y1="437.57" x2="139.00" y2="437.57" stroke="#333" stroke-width="1.0"/>
<line x1="164.00" y1="474.40" x2="164.00" y2="476.20" stroke="#333" stroke-width="1.0"/>
<line x1="137.20" y1="449.85" x2="139.00" y2="449.85" stroke="#333" stroke-width="1.0"/>
<line x1="176.50" y1="474.40" x2="176.50" y2="476.20" stroke="#333" stroke-width="1.0"/>
<line x1="137.20" y1="462.12" x2="139.00" y2="462.12" stroke="#333" stroke-width="1.0"/>
<line x1="142.12" y1="474.40" x2="142.12" y2="475.40" stroke="#777" stroke-width="0.6"/>
<line x1="138.00" y1="428.37" x2="139.00" y2="428.37" stroke="#777" stroke-width="0.6"/>
<line x1="145.25" y1="474.40" x2="145.25" y2="475.40" stroke="#777" stroke-width="0.6"/>
<line x1="138.00" y1="431.44" x2="139.00" y2="431.44" stroke="#777" stroke-width="0.6"/>
<line x1="148.38" y1="474.40" x2="148.38" y2="475.40" stroke="#777" stroke-width="0.6"/>
<line x1="138.00" y1="434.51" x2="139.00" y2="434.51" stroke="#777" stroke-width="0.6"/>
<line x1="154.62" y1="474.40" x2="154.62" y2="475.40" stroke="#777" stroke-width="0.6"/>
<line x1="138.00" y1="440.64" x2="139.00" y2="440.64" stroke="#777" stroke-width="0.6"/>
<line x1="157.75" y1="474.40" x2="157.75" y2="475.40" stroke="#777" stroke-width="0.6"/>
<line x1="138.00" y1="443.71" x2="139.00" y2="443.71" stroke="#777" stroke-width="0.6"/>
<line x1="160.88" y1="474.40" x2="160.88" y2="475.40" stroke="#777" stroke-width="0.6"/>
<line x1="138.00" y1="446.78" x2="139.00" y2="446.78" stroke="#777" stroke-width="0.6"/>
<line x1="167.12" y1="474.40" x2="167.12" y2="475.40" stroke="#777" stroke-width="0.6"/>
<line x1="138.00" y1="452.92" x2="139.00" y2="452.92" stroke="#777" stroke-width="0.6"/>
<line x1="170.25" y1="474.40" x2="170.25" y2="475.40" stroke="#777" stroke-width="0.6"/>
<line x1="138.00" y1="455.99" x2="139.00" y2="455.99" stroke="#777" stroke-width="0.6"/>
<line x1="173.38" y1="474.40" x2="173.38" y2="475.40" stroke="#777" stroke-width="0.6"/>
<line x1="138.00" y1="459.06" x2="139.00" y2="459.06" stroke="#777" stroke-width="0.6"/>
<line x1="179.62" y1="474.40" x2="179.62" y2="475.40" stroke="#777" stroke-width="0.6"/>
<line x1="138.00" y1="465.19" x2="139.00" y2="465.19" stroke="#777" stroke-width="0.6"/>
<line x1="182.75" y1="474.40" x2="182.75" y2="475.40" stroke="#777" stroke-width="0.6"/>
<line x1="138.00" y1="468.26" x2="139.00" y2="468.26" stroke="#777" stroke-width="0.6"/>
<line x1="185.88" y1="474.40" x2="185.88" y2="475.40" stroke="#777" stroke-width="0.6"/>
<line x1="138.00" y1="471.33" x2="139.00" y2="471.33" stroke="#777" stroke-width="0.6"/>
<g fill="#222" fill-opacity="0.5"><circle cx="40.9" cy="244.0" r="0.55"/><circle cx="41.0" cy="243.2" r="0.55"/><circle cx="39.4" cy="243.3" r="0.55"/><circle cx="44.1" cy="243.9" r="0.55"/><circle cx="43.9" cy="243.7" r="0.55"/><circle cx="42.4" cy="243.7" r="0.55"/><circle cx="37.7" cy="244.4" r="0.55"/><circle cx="42.7" cy="244.0" r="0.55"/><circle cx="37.6" cy="241.8" r="0.55"/><circle cx="39.5" cy="243.0" r="0.55"/><circle cx="42.2" cy="243.5" r="0.55"/><circle cx="42.7" cy="242.9" r="0.55"/><circle cx="42.2" cy="243.9" r="0.55"/><circle cx="40.0" cy="245.2" r="0.55"/><circle cx="42.8" cy="244.7" r="0.55"/><circle cx="40.1" cy="242.8" r="0.55"/><circle cx="40.7" cy="243.4" r="0.55"/><circle cx="43.0" cy="243.7" r="0.55"/><circle cx="40.5" cy="242.5" r="0.55"/><circle cx="40.3" cy="244.7" r="0.55"/><circle cx="39.6" cy="243.7" r="0.55"/><circle cx="42.5" cy="242.0" r="0.55"/><circle cx="41.6" cy="244.8" r="0.55"/><circle cx="36.9" cy="243.2" r="0.55"/><circle cx="41.3" cy="242.7" r="0.55"/><circle cx="42.6" cy="243.4" r="0.55"/><circle cx="38.1" cy="244.3" r="0.55"/><circle cx="43.0" cy="244.4" r="0.55"/><circle cx="44.8" cy="243.9" r="0.55"/><circle cx="41.8" cy="242.2" r="0.55"/><circle cx="42.9" cy="242.9" r="0.55"/><circle cx="40.5" cy="242.2" r="0.55"/><circle cx="39.3" cy="243.0" r="0.55"/><circle cx="44.5" cy="241.5" r="0.55"/><circle cx="38.1" cy="243.7" r="0.55"/><circle cx="44.8" cy="244.1" r="0.55"/><circle cx="37.1" cy="241.0" r="0.55"/><circle cx="42.3" cy="242.8" r="0.55"/><circle cx="38.9" cy="244.5" r="0.55"/><circle cx="44.0" cy="243.7" r="0.55"/><circle cx="42.1" cy="243.9" r="0.55"/><circle cx="45.2" cy="244.1" r="0.55"/><circle cx="42.7" cy="244.0" r="0.55"/><circle cx="37.9" cy="244.8" r="0.55"/><circle cx="43.7" cy="244.0" r="0.55"/><circle cx="37.0" cy="242.9" r="0.55"/><circle cx="43.4" cy="241.7" r="0.55"/><circle cx="41.1" cy="244.5" r="0.55"/><circle cx="38.5" cy="245.1" r="0.55"/><circle cx="42.8" cy="243.3" r="0.55"/><circle cx="42.2" cy="244.1" r="0.55"/><circle cx="41.8" cy="244.6" r="0.55"/><circle cx="40.0" cy="243.1" r="0.55"/><circle cx="43.9" cy="243.5" r="0.55"/><circle cx="39.5" cy="244.4" r="0.55"/><circle cx="44.9" cy="243.1" r="0.55"/><circle cx="38.3" cy="243.4" r="0.55"/><circle cx="41.2" cy="243.2" r="0.55"/><circle cx="44.7" cy="242.5" r="0.55"/><circle cx="44.4" cy="242.2" r="0.55"/></g>
<g fill="#222" fill-opacity="0.25"><circle cx="34.2" cy="245.1" r="0.55"/><circle cx="41.0" cy="245.5" r="0.55"/><circle cx="38.2" cy="244.3" r="0.55"/><circle cx="37.5" cy="245.0" r="0.55"/><circle cx="36.4" cy="244.5" r="0.55"/><circle cx="39.0" cy="244.0" r="0.55"/><circle cx="39.7" cy="245.0" r="0.55"/><circle cx="44.0" cy="244.6" r="0.55"/><circle cx="35.5" cy="243.3" r="0.55"/><circle cx="37.0" cy="245.7" r="0.55"/><circle cx="35.8" cy="244.7" r="0.55"/><circle cx="43.4" cy="239.4" r="0.55"/><circle cx="33.1" cy="244.4" r="0.55"/><circle cx="38.4" cy="244.4" r="0.55"/><circle cx="35.5" cy="245.2" r="0.55"/><circle cx="38.0" cy="243.1" r="0.55"/><circle cx="45.5" cy="244.6" r="0.55"/><circle cx="35.1" cy="243.8" r="0.55"/><circle cx="36.2" cy="243.9" r="0.55"/><circle cx="40.5" cy="241.9" r="0.55"/><circle cx="36.8" cy="245.7" r="0.55"/><circle cx="40.0" cy="246.7" r="0.55"/><circle cx="31.0" cy="243.4" r="0.55"/><circle cx="35.8" cy="245.1" r="0.55"/><circle cx="40.8" cy="239.2" r="0.55"/><circle cx="40.8" cy="241.4" r="0.55"/><circle cx="39.4" cy="241.3" r="0.55"/><circle cx="37.6" cy="246.2" r="0.55"/><circle cx="36.5" cy="244.3" r="0.55"/><circle cx="39.8" cy="244.3" r="0.55"/><circle cx="36.7" cy="246.8" r="0.55"/><circle cx="40.7" cy="243.5" r="0.55"/><circle cx="46.6" cy="241.9" r="0.55"/><circle cx="40.2" cy="243.5" r="0.55"/><circle cx="37.5" cy="245.3" r="0.55"/><circle cx="37.8" cy="245.1" r="0.55"/><circle cx="31.7" cy="241.3" r="0.55"/><circle cx="39.2" cy="242.3" r="0.55"/><circle cx="33.4" cy="241.4" r="0.55"/></g>
<g fill="#222" fill-opacity="0.55"><circle cx="103.5" cy="243.8" r="0.55"/><circle cx="103.9" cy="242.4" r="0.55"/><circle cx="101.5" cy="242.3" r="0.55"/><circle cx="102.7" cy="244.5" r="0.55"/><circle cx="100.1" cy="244.4" r="0.55"/><circle cx="103.1" cy="243.1" r="0.55"/><circle cx="98.3" cy="244.3" r="0.55"/><circle cx="101.3" cy="242.7" r="0.55"/><circle cx="102.1" cy="243.5" r="0.55"/><circle cx="103.9" cy="242.4" r="0.55"/><circle cx="103.3" cy="244.4" r="0.55"/><circle cx="103.8" cy="243.1" r="0.55"/><circle cx="100.3" cy="244.0" r="0.55"/><circle cx="101.7" cy="243.3" r="0.55"/><circle cx="103.8" cy="243.0" r="0.55"/><circle cx="97.8" cy="242.9" r="0.55"/><circle cx="98.5" cy="243.9" r="0.55"/><circle cx="102.0" cy="242.7" r="0.55"/><circle cx="101.5" cy="243.9" r="0.55"/><circle cx="101.6" cy="244.3" r="0.55"/><circle cx="101.4" cy="244.0" r="0.55"/><circle cx="103.9" cy="244.5" r="0.55"/><circle cx="100.4" cy="243.9" r="0.55"/><circle cx="98.5" cy="242.3" r="0.55"/><circle cx="98.4" cy="244.1" r="0.55"/><circle cx="99.5" cy="243.2" r="0.55"/><circle cx="101.2" cy="243.2" r="0.55"/><circle cx="100.6" cy="243.4" r="0.55"/><circle cx="104.4" cy="243.2" r="0.55"/><circle cx="102.3" cy="244.0" r="0.55"/><circle cx="101.2" cy="242.2" r="0.55"/><circle cx="100.6" cy="244.1" r="0.55"/><circle cx="98.9" cy="242.7" r="0.55"/><circle cx="103.1" cy="243.8" r="0.55"/><circle cx="101.5" cy="243.8" r="0.55"/></g>
<g fill="#222" fill-opacity="0.25"><circle cx="92.6" cy="242.5" r="0.55"/><circle cx="86.5" cy="243.1" r="0.55"/><circle cx="95.2" cy="243.2" r="0.55"/><circle cx="88.8" cy="243.0" r="0.55"/><circle cx="86.6" cy="243.7" r="0.55"/><circle cx="87.9" cy="244.2" r="0.55"/><circle cx="89.8" cy="241.7" r="0.55"/><circle cx="94.5" cy="243.5" r="0.55"/><circle cx="93.0" cy="243.3" r="0.55"/><circle cx="94.7" cy="244.6" r="0.55"/><circle cx="94.3" cy="244.2" r="0.55"/><circle cx="96.7" cy="244.5" r="0.55"/><circle cx="93.6" cy="241.5" r="0.55"/><circle cx="95.1" cy="245.2" r="0.55"/><circle cx="91.0" cy="243.3" r="0.55"/><circle cx="98.8" cy="241.9" r="0.55"/><circle cx="93.6" cy="246.5" r="0.55"/><circle cx="88.8" cy="244.6" r="0.55"/><circle cx="98.6" cy="243.7" r="0.55"/><circle cx="94.0" cy="244.8" r="0.55"/><circle cx="88.8" cy="243.7" r="0.55"/><circle cx="93.0" cy="244.7" r="0.55"/><circle cx="91.9" cy="243.6" r="0.55"/><circle cx="88.4" cy="243.4" r="0.55"/><circle cx="95.1" cy="243.9" r="0.55"/><circle cx="89.0" cy="242.9" r="0.55"/><circle cx="101.3" cy="245.1" r="0.55"/><circle cx="94.2" cy="240.9" r="0.55"/><circle cx="94.2" cy="244.3" r="0.55"/><circle cx="97.9" cy="244.3" r="0.55"/><circle cx="91.8" cy="244.4" r="0.55"/><circle cx="85.2" cy="244.9" r="0.55"/><circle cx="93.1" cy="243.0" r="0.55"/><circle cx="96.6" cy="245.8" r="0.55"/><circle cx="87.1" cy="243.1" r="0.55"/><circle cx="93.0" cy="244.0" r="0.55"/><circle cx="90.6" cy="242.7" r="0.55"/><circle cx="99.4" cy="244.9" r="0.55"/><circle cx="87.8" cy="242.3" r="0.55"/><circle cx="98.0" cy="244.9" r="0.55"/><circle cx="98.4" cy="244.7" r="0.55"/><circle cx="88.9" cy="244.1" r="0.55"/><circle cx="91.8" cy="244.4" r="0.55"/><circle cx="89.5" cy="243.7" r="0.55"/><circle cx="93.6" cy="244.2" r="0.55"/><circle cx="94.2" cy="244.0" r="0.55"/><circle cx="90.9" cy="244.7" r="0.55"/></g>
<g fill="#222" fill-opacity="0.5"><circle cx="151.6" cy="243.0" r="0.55"/><circle cx="150.1" cy="243.8" r="0.55"/><circle cx="151.3" cy="244.0" r="0.55"/><circle cx="151.5" cy="244.0" r="0.55"/><circle cx="151.2" cy="242.5" r="0.55"/><circle cx="152.4" cy="244.9" r="0.55"/><circle cx="152.5" cy="243.6" r="0.55"/><circle cx="152.5" cy="242.8" r="0.55"/><circle cx="147.3" cy="243.9" r="0.55"/><circle cx="149.5" cy="244.5" r="0.55"/><circle cx="149.1" cy="241.2" r="0.55"/><circle cx="149.2" cy="245.4" r="0.55"/><circle cx="150.7" cy="242.4" r="0.55"/><circle cx="149.8" cy="244.3" r="0.55"/><circle cx="152.6" cy="244.0" r="0.55"/><circle cx="154.8" cy="244.5" r="0.55"/><circle cx="151.5" cy="244.4" r="0.55"/><circle cx="155.1" cy="244.8" r="0.55"/><circle cx="153.8" cy="242.7" r="0.55"/><circle cx="151.2" cy="244.5" r="0.55"/><circle cx="150.8" cy="244.9" r="0.55"/><circle cx="152.8" cy="244.7" r="0.55"/><circle cx="151.0" cy="246.3" r="0.55"/><circle cx="154.2" cy="243.6" r="0.55"/><circle cx="151.7" cy="246.4" r="0.55"/><circle cx="150.7" cy="244.7" r="0.55"/><circle cx="153.7" cy="243.8" r="0.55"/><circle cx="148.9" cy="244.0" r="0.55"/><circle cx="152.3" cy="244.9" r="0.55"/><circle cx="153.2" cy="243.8" r="0.55"/><circle cx="153.4" cy="244.3" r="0.55"/><circle cx="152.0" cy="243.9" r="0.55"/><circle cx="151.0" cy="244.5" r="0.55"/><circle cx="149.2" cy="243.2" r="0.55"/><circle cx="151.5" cy="242.3" r="0.55"/><circle cx="150.5" cy="241.8" r="0.55"/><circle cx="150.0" cy="244.4" r="0.55"/><circle cx="152.7" cy="243.7" r="0.55"/><circle cx="151.0" cy="242.4" r="0.55"/><circle cx="155.5" cy="244.3" r="0.55"/><circle cx="153.9" cy="242.9" r="0.55"/><circle cx="151.1" cy="242.0" r="0.55"/><circle cx="153.2" cy="244.7" r="0.55"/><circle cx="147.3" cy="243.7" r="0.55"/><circle cx="152.9" cy="242.0" r="0.55"/><circle cx="147.5" cy="242.7" r="0.55"/><circle cx="150.1" cy="242.4" r="0.55"/><circle cx="151.6" cy="244.0" r="0.55"/><circle cx="152.9" cy="244.5" r="0.55"/><circle cx="154.8" cy="245.0" r="0.55"/><circle cx="148.6" cy="243.3" r="0.55"/><circle cx="149.2" cy="242.7" r="0.55"/><circle cx="151.3" cy="243.8" r="0.55"/><circle cx="152.6" cy="242.2" r="0.55"/><circle cx="148.8" cy="243.8" r="0.55"/></g>
<g fill="#222" fill-opacity="0.25"><circle cx="145.3" cy="244.0" r="0.55"/><circle cx="145.8" cy="243.3" r="0.55"/><circle cx="148.5" cy="245.1" r="0.55"/><circle cx="145.7" cy="243.4" r="0.55"/><circle cx="145.4" cy="240.1" r="0.55"/><circle cx="142.6" cy="244.6" r="0.55"/><circle cx="140.7" cy="244.8" r="0.55"/><circle cx="146.5" cy="242.3" r="0.55"/><circle cx="145.1" cy="244.0" r="0.55"/><circle cx="147.6" cy="245.5" r="0.55"/><circle cx="145.9" cy="243.1" r="0.55"/><circle cx="145.5" cy="244.4" r="0.55"/><circle cx="148.6" cy="245.0" r="0.55"/><circle cx="143.5" cy="242.3" r="0.55"/><circle cx="144.7" cy="243.3" r="0.55"/><circle cx="142.1" cy="244.3" r="0.55"/><circle cx="144.3" cy="244.7" r="0.55"/><circle cx="147.8" cy="243.8" r="0.55"/><circle cx="154.1" cy="244.0" r="0.55"/><circle cx="149.9" cy="244.7" r="0.55"/><circle cx="149.9" cy="240.7" r="0.55"/><circle cx="143.4" cy="244.9" r="0.55"/><circle cx="148.1" cy="248.2" r="0.55"/><circle cx="147.1" cy="246.5" r="0.55"/><circle cx="148.7" cy="246.0" r="0.55"/><circle cx="147.8" cy="244.3" r="0.55"/><circle cx="147.8" cy="242.8" r="0.55"/><circle cx="150.1" cy="242.9" r="0.55"/><circle cx="146.9" cy="247.9" r="0.55"/><circle cx="145.2" cy="244.5" r="0.55"/><circle cx="150.1" cy="244.5" r="0.55"/><circle cx="143.2" cy="244.9" r="0.55"/><circle cx="148.0" cy="245.6" r="0.55"/><circle cx="143.3" cy="247.3" r="0.55"/><circle cx="151.8" cy="244.5" r="0.55"/><circle cx="146.9" cy="243.8" r="0.55"/><circle cx="150.9" cy="243.4" r="0.55"/><circle cx="148.4" cy="243.7" r="0.55"/><circle cx="143.6" cy="245.6" r="0.55"/><circle cx="150.7" cy="244.5" r="0.55"/></g>
<g fill="#222" fill-opacity="0.15"><circle cx="163.9" cy="246.5" r="0.55"/><circle cx="167.7" cy="245.9" r="0.55"/><circle cx="177.1" cy="246.9" r="0.55"/><circle cx="164.9" cy="248.2" r="0.55"/><circle cx="168.0" cy="246.4" r="0.55"/><circle cx="164.1" cy="245.4" r="0.55"/><circle cx="157.5" cy="247.6" r="0.55"/><circle cx="176.2" cy="244.0" r="0.55"/><circle cx="159.0" cy="243.6" r="0.55"/><circle cx="175.1" cy="244.9" r="0.55"/></g>
<g fill="#222" fill-opacity="0.5"><circle cx="39.9" cy="301.7" r="0.55"/><circle cx="39.8" cy="300.8" r="0.55"/><circle cx="40.0" cy="300.4" r="0.55"/><circle cx="39.9" cy="302.3" r="0.55"/><circle cx="40.8" cy="301.7" r="0.55"/><circle cx="38.4" cy="302.2" r="0.55"/><circle cx="39.1" cy="303.7" r="0.55"/><circle cx="41.4" cy="301.9" r="0.55"/><circle cx="39.2" cy="301.2" r="0.55"/><circle cx="38.3" cy="301.6" r="0.55"/><circle cx="40.5" cy="302.6" r="0.55"/><circle cx="41.0" cy="304.3" r="0.55"/><circle cx="38.7" cy="302.0" r="0.55"/><circle cx="45.0" cy="299.9" r="0.55"/><circle cx="39.1" cy="302.2" r="0.55"/><circle cx="40.3" cy="302.4" r="0.55"/><circle cx="39.6" cy="302.4" r="0.55"/><circle cx="40.1" cy="302.8" r="0.55"/><circle cx="36.6" cy="301.0" r="0.55"/><circle cx="40.0" cy="300.9" r="0.55"/><circle cx="38.1" cy="302.7" r="0.55"/><circle cx="38.8" cy="302.7" r="0.55"/><circle cx="41.3" cy="302.3" r="0.55"/><circle cx="40.9" cy="301.9" r="0.55"/><circle cx="37.5" cy="302.0" r="0.55"/><circle cx="40.8" cy="301.4" r="0.55"/><circle cx="39.8" cy="302.8" r="0.55"/><circle cx="38.4" cy="302.7" r="0.55"/><circle cx="43.4" cy="301.4" r="0.55"/><circle cx="40.3" cy="301.8" r="0.55"/><circle cx="42.8" cy="302.3" r="0.55"/><circle cx="41.6" cy="301.2" r="0.55"/><circle cx="40.0" cy="302.0" r="0.55"/><circle cx="36.8" cy="303.6" r="0.55"/><circle cx="41.6" cy="300.1" r="0.55"/><circle cx="41.3" cy="301.9" r="0.55"/><circle cx="40.8" cy="302.4" r="0.55"/><circle cx="37.3" cy="301.8" r="0.55"/><circle cx="42.7" cy="301.4" r="0.55"/><circle cx="38.2" cy="300.5" r="0.55"/><circle cx="37.8" cy="302.4" r="0.55"/><circle cx="43.0" cy="302.5" r="0.55"/><circle cx="40.4" cy="304.5" r="0.55"/><circle cx="39.1" cy="301.3" r="0.55"/><circle cx="41.0" cy="302.6" r="0.55"/><circle cx="38.2" cy="300.7" r="0.55"/><circle cx="40.5" cy="302.3" r="0.55"/><circle cx="37.6" cy="301.8" r="0.55"/><circle cx="39.0" cy="302.5" r="0.55"/><circle cx="39.8" cy="301.9" r="0.55"/><circle cx="39.4" cy="303.2" r="0.55"/><circle cx="42.5" cy="301.6" r="0.55"/><circle cx="41.5" cy="301.2" r="0.55"/><circle cx="40.1" cy="302.8" r="0.55"/><circle cx="42.7" cy="301.6" r="0.55"/><circle cx="39.9" cy="302.2" r="0.55"/><circle cx="37.3" cy="302.0" r="0.55"/><circle cx="38.8" cy="302.4" r="0.55"/><circle cx="38.0" cy="299.8" r="0.55"/><circle cx="40.1" cy="302.3" r="0.55"/></g>
<g fill="#222" fill-opacity="0.25"><circle cx="34.9" cy="303.8" r="0.55"/><circle cx="35.7" cy="300.8" r="0.55"/><circle cx="37.9" cy="298.9" r="0.55"/><circle cx="34.5" cy="302.0" r="0.55"/><circle cx="39.0" cy="301.7" r="0.55"/><circle cx="37.4" cy="300.7" r="0.55"/><circle cx="37.4" cy="305.3" r="0.55"/><circle cx="34.4" cy="306.7" r="0.55"/><circle cx="34.6" cy="302.0" r="0.55"/><circle cx="37.0" cy="304.0" r="0.55"/><circle cx="32.8" cy="297.8" r="0.55"/><circle cx="38.3" cy="303.6" r="0.55"/><circle cx="38.4" cy="307.3" r="0.55"/><circle cx="37.1" cy="302.5" r="0.55"/><circle cx="39.3" cy="302.7" r="0.55"/><circle cx="41.5" cy="299.5" r="0.55"/><circle cx="35.4" cy="295.1" r="0.55"/><circle cx="38.9" cy="301.3" r="0.55"/><circle cx="39.3" cy="306.3" r="0.55"/><circle cx="36.5" cy="301.5" r="0.55"/><circle cx="35.0" cy="300.3" r="0.55"/><circle cx="34.6" cy="303.3" r="0.55"/><circle cx="36.6" cy="302.1" r="0.55"/><circle cx="36.0" cy="303.8" r="0.55"/><circle cx="38.0" cy="301.7" r="0.55"/><circle cx="38.5" cy="301.7" r="0.55"/><circle cx="33.0" cy="304.9" r="0.55"/><circle cx="37.9" cy="300.1" r="0.55"/><circle cx="39.7" cy="302.7" r="0.55"/><circle cx="31.8" cy="305.2" r="0.55"/><circle cx="37.5" cy="303.8" r="0.55"/><circle cx="37.1" cy="301.7" r="0.55"/><circle cx="31.9" cy="303.9" r="0.55"/><circle cx="36.6" cy="301.4" r="0.55"/><circle cx="37.6" cy="302.2" r="0.55"/><circle cx="38.5" cy="301.3" r="0.55"/><circle cx="36.4" cy="297.7" r="0.55"/><circle cx="35.2" cy="303.4" r="0.55"/><circle cx="40.5" cy="301.3" r="0.55"/><circle cx="36.1" cy="305.2" r="0.55"/></g>
<g fill="#222" fill-opacity="0.15"><circle cx="50.7" cy="305.2" r="0.55"/><circle cx="58.7" cy="303.1" r="0.55"/><circle cx="56.9" cy="300.9" r="0.55"/><circle cx="52.8" cy="302.8" r="0.55"/><circle cx="52.5" cy="306.4" r="0.55"/><circle cx="61.6" cy="301.0" r="0.55"/><circle cx="49.7" cy="304.5" r="0.55"/><circle cx="47.8" cy="304.5" r="0.55"/></g>
<g fill="#222" fill-opacity="0.4"><circle cx="93.8" cy="302.0" r="0.55"/><circle cx="93.7" cy="300.8" r="0.55"/><circle cx="94.2" cy="300.8" r="0.55"/><circle cx="91.0" cy="301.7" r="0.55"/><circle cx="91.6" cy="303.0" r="0.55"/><circle cx="92.7" cy="301.8" r="0.55"/><circle cx="93.7" cy="303.6" r="0.55"/><circle cx="92.5" cy="302.5" r="0.55"/><circle cx="95.2" cy="302.4" r="0.55"/><circle cx="89.7" cy="304.4" r="0.55"/><circle cx="92.4" cy="302.6" r="0.55"/><circle cx="94.6" cy="302.8" r="0.55"/><circle cx="91.9" cy="301.3" r="0.55"/><circle cx="92.7" cy="303.1" r="0.55"/><circle cx="90.1" cy="301.3" r="0.55"/><circle cx="92.4" cy="300.5" r="0.55"/><circle cx="91.9" cy="301.8" r="0.55"/><circle cx="93.5" cy="301.6" r="0.55"/><circle cx="90.6" cy="301.8" r="0.55"/><circle cx="92.4" cy="301.6" r="0.55"/><circle cx="92.5" cy="302.9" r="0.55"/><circle cx="95.1" cy="303.7" r="0.55"/><circle cx="90.8" cy="301.8" r="0.55"/><circle cx="87.0" cy="303.9" r="0.55"/><circle cx="90.9" cy="302.2" r="0.55"/><circle cx="93.6" cy="301.0" r="0.55"/><circle cx="93.5" cy="302.2" r="0.55"/><circle cx="88.5" cy="302.5" r="0.55"/><circle cx="95.1" cy="300.5" r="0.55"/><circle cx="94.3" cy="302.4" r="0.55"/><circle cx="93.5" cy="302.6" r="0.55"/><circle cx="95.4" cy="302.0" r="0.55"/><circle cx="94.4" cy="301.8" r="0.55"/><circle cx="94.1" cy="301.5" r="0.55"/></g>
<g fill="#222" fill-opacity="0.25"><circle cx="87.7" cy="304.8" r="0.55"/><circle cx="89.3" cy="302.3" r="0.55"/><circle cx="88.6" cy="303.7" r="0.55"/><circle cx="89.3" cy="303.2" r="0.55"/><circle cx="87.9" cy="304.3" r="0.55"/><circle cx="86.8" cy="301.8" r="0.55"/><circle cx="90.7" cy="302.6" r="0.55"/><circle cx="87.2" cy="301.8" r="0.55"/><circle cx="87.2" cy="303.3" r="0.55"/><circle cx="89.1" cy="300.9" r="0.55"/><circle cx="89.3" cy="302.7" r="0.55"/><circle cx="87.2" cy="302.1" r="0.55"/><circle cx="90.4" cy="304.2" r="0.55"/><circle cx="85.9" cy="303.1" r="0.55"/><circle cx="85.4" cy="305.5" r="0.55"/><circle cx="86.5" cy="304.1" r="0.55"/><circle cx="86.1" cy="303.6" r="0.55"/><circle cx="94.7" cy="299.2" r="0.55"/><circle cx="86.7" cy="303.2" r="0.55"/><circle cx="87.7" cy="301.6" r="0.55"/><circle cx="94.5" cy="302.6" r="0.55"/><circle cx="86.3" cy="302.7" r="0.55"/><circle cx="91.8" cy="302.7" r="0.55"/><circle cx="91.5" cy="303.5" r="0.55"/><circle cx="85.6" cy="303.6" r="0.55"/></g>
<g fill="#222" fill-opacity="0.2"><circle cx="107.1" cy="305.6" r="0.55"/><circle cx="103.0" cy="304.7" r="0.55"/><circle cx="107.8" cy="305.7" r="0.55"/><circle cx="107.7" cy="302.5" r="0.55"/></g>
<g fill="#222" fill-opacity="0.45"><circle cx="151.9" cy="302.5" r="0.55"/><circle cx="150.8" cy="302.0" r="0.55"/><circle cx="153.4" cy="301.5" r="0.55"/><circle cx="154.0" cy="301.1" r="0.55"/><circle cx="152.1" cy="301.4" r="0.55"/><circle cx="151.8" cy="301.2" r="0.55"/><circle cx="148.0" cy="303.2" r="0.55"/><circle cx="152.2" cy="301.4" r="0.55"/><circle cx="151.9" cy="303.1" r="0.55"/><circle cx="149.3" cy="301.9" r="0.55"/><circle cx="152.7" cy="302.6" r="0.55"/><circle cx="150.8" cy="299.7" r="0.55"/><circle cx="154.2" cy="302.4" r="0.55"/><circle cx="151.5" cy="301.7" r="0.55"/><circle cx="152.1" cy="301.5" r="0.55"/><circle cx="149.2" cy="301.2" r="0.55"/><circle cx="150.2" cy="301.3" r="0.55"/><circle cx="149.0" cy="302.7" r="0.55"/><circle cx="148.6" cy="302.7" r="0.55"/><circle cx="149.3" cy="302.4" r="0.55"/><circle cx="154.5" cy="302.2" r="0.55"/><circle cx="149.9" cy="302.1" r="0.55"/><circle cx="151.8" cy="300.1" r="0.55"/><circle cx="150.2" cy="302.2" r="0.55"/><circle cx="150.5" cy="302.1" r="0.55"/><circle cx="153.1" cy="302.8" r="0.55"/><circle cx="153.5" cy="302.6" r="0.55"/><circle cx="150.9" cy="302.0" r="0.55"/><circle cx="150.9" cy="301.7" r="0.55"/><circle cx="151.1" cy="300.1" r="0.55"/><circle cx="150.8" cy="302.0" r="0.55"/><circle cx="149.4" cy="302.0" r="0.55"/><circle cx="152.6" cy="301.8" r="0.55"/><circle cx="156.1" cy="299.1" r="0.55"/><circle cx="151.0" cy="300.0" r="0.55"/><circle cx="153.7" cy="304.9" r="0.55"/><circle cx="146.0" cy="302.1" r="0.55"/><circle cx="152.6" cy="301.7" r="0.55"/><circle cx="152.7" cy="299.5" r="0.55"/><circle cx="153.4" cy="302.4" r="0.55"/><circle cx="151.6" cy="301.4" r="0.55"/><circle cx="152.9" cy="301.5" r="0.55"/><circle cx="152.0" cy="301.4" r="0.55"/><circle cx="146.6" cy="302.0" r="0.55"/><circle cx="151.9" cy="302.8" r="0.55"/><circle cx="149.6" cy="302.0" r="0.55"/><circle cx="152.9" cy="302.2" r="0.55"/><circle cx="154.2" cy="304.2" r="0.55"/><circle cx="149.5" cy="299.9" r="0.55"/></g>
<g fill="#222" fill-opacity="0.25"><circle cx="150.0" cy="305.3" r="0.55"/><circle cx="150.2" cy="304.0" r="0.55"/><circle cx="144.8" cy="301.2" r="0.55"/><circle cx="150.1" cy="300.9" r="0.55"/><circle cx="140.7" cy="300.7" r="0.55"/><circle cx="155.7" cy="306.0" r="0.55"/><circle cx="144.6" cy="301.2" r="0.55"/><circle cx="147.8" cy="301.2" r="0.55"/><circle cx="151.6" cy="302.4" r="0.55"/><circle cx="143.2" cy="304.9" r="0.55"/><circle cx="145.0" cy="302.9" r="0.55"/><circle cx="147.0" cy="301.9" r="0.55"/><circle cx="148.1" cy="301.3" r="0.55"/><circle cx="140.5" cy="298.5" r="0.55"/><circle cx="142.6" cy="301.1" r="0.55"/><circle cx="146.9" cy="302.6" r="0.55"/><circle cx="148.9" cy="302.7" r="0.55"/><circle cx="144.2" cy="301.2" r="0.55"/><circle cx="148.7" cy="303.5" r="0.55"/><circle cx="146.6" cy="302.2" r="0.55"/><circle cx="150.3" cy="302.5" r="0.55"/><circle cx="149.6" cy="303.5" r="0.55"/><circle cx="147.7" cy="304.9" r="0.55"/><circle cx="145.0" cy="301.9" r="0.55"/><circle cx="144.2" cy="301.1" r="0.55"/><circle cx="152.4" cy="305.7" r="0.55"/><circle cx="147.1" cy="303.5" r="0.55"/><circle cx="151.1" cy="304.0" r="0.55"/><circle cx="151.2" cy="300.2" r="0.55"/><circle cx="144.8" cy="303.3" r="0.55"/><circle cx="152.0" cy="302.7" r="0.55"/><circle cx="144.0" cy="301.9" r="0.55"/><circle cx="144.7" cy="301.0" r="0.55"/><circle cx="152.3" cy="301.4" r="0.55"/></g>
<g fill="#222" fill-opacity="0.15"><circle cx="163.1" cy="308.2" r="0.55"/><circle cx="167.7" cy="305.5" r="0.55"/><circle cx="160.6" cy="305.6" r="0.55"/><circle cx="169.5" cy="305.9" r="0.55"/><circle cx="168.0" cy="305.1" r="0.55"/><circle cx="165.1" cy="304.7" r="0.55"/><circle cx="164.7" cy="307.0" r="0.55"/><circle cx="157.3" cy="304.9" r="0.55"/><circle cx="164.0" cy="304.1" r="0.55"/><circle cx="161.8" cy="306.2" r="0.55"/></g>
<g fill="#222" fill-opacity="0.62"><circle cx="38.7" cy="395.9" r="0.55"/><circle cx="34.3" cy="392.7" r="0.55"/><circle cx="38.5" cy="395.1" r="0.55"/><circle cx="33.4" cy="393.3" r="0.55"/><circle cx="33.4" cy="393.4" r="0.55"/><circle cx="33.7" cy="395.7" r="0.55"/><circle cx="33.6" cy="395.4" r="0.55"/><circle cx="31.3" cy="397.1" r="0.55"/><circle cx="31.8" cy="392.3" r="0.55"/><circle cx="33.0" cy="393.9" r="0.55"/><circle cx="30.9" cy="394.5" r="0.55"/><circle cx="34.3" cy="393.2" r="0.55"/><circle cx="33.1" cy="397.1" r="0.55"/><circle cx="35.3" cy="394.8" r="0.55"/><circle cx="33.8" cy="394.8" r="0.55"/><circle cx="33.4" cy="396.1" r="0.55"/><circle cx="33.3" cy="391.4" r="0.55"/><circle cx="33.4" cy="393.7" r="0.55"/><circle cx="35.2" cy="394.1" r="0.55"/><circle cx="33.9" cy="398.3" r="0.55"/><circle cx="30.8" cy="393.3" r="0.55"/><circle cx="29.8" cy="391.4" r="0.55"/><circle cx="31.8" cy="392.2" r="0.55"/><circle cx="29.6" cy="395.9" r="0.55"/><circle cx="31.5" cy="394.4" r="0.55"/><circle cx="34.4" cy="397.0" r="0.55"/><circle cx="38.5" cy="396.5" r="0.55"/><circle cx="33.9" cy="395.3" r="0.55"/><circle cx="38.2" cy="397.1" r="0.55"/><circle cx="32.7" cy="395.7" r="0.55"/><circle cx="34.2" cy="395.1" r="0.55"/><circle cx="32.2" cy="393.0" r="0.55"/><circle cx="32.1" cy="392.7" r="0.55"/><circle cx="36.7" cy="395.8" r="0.55"/><circle cx="30.4" cy="397.1" r="0.55"/><circle cx="35.8" cy="392.1" r="0.55"/><circle cx="38.3" cy="396.2" r="0.55"/><circle cx="38.9" cy="393.2" r="0.55"/><circle cx="34.9" cy="395.6" r="0.55"/><circle cx="34.0" cy="395.3" r="0.55"/><circle cx="36.2" cy="392.8" r="0.55"/><circle cx="30.3" cy="392.9" r="0.55"/><circle cx="32.1" cy="394.1" r="0.55"/><circle cx="34.5" cy="395.4" r="0.55"/><circle cx="33.6" cy="394.0" r="0.55"/><circle cx="32.4" cy="396.4" r="0.55"/><circle cx="35.5" cy="395.2" r="0.55"/><circle cx="32.7" cy="397.3" r="0.55"/><circle cx="32.0" cy="396.0" r="0.55"/><circle cx="36.5" cy="394.6" r="0.55"/><circle cx="35.6" cy="393.3" r="0.55"/><circle cx="36.1" cy="395.3" r="0.55"/><circle cx="29.4" cy="396.0" r="0.55"/><circle cx="31.2" cy="396.9" r="0.55"/><circle cx="31.7" cy="394.8" r="0.55"/><circle cx="34.2" cy="394.5" r="0.55"/><circle cx="34.2" cy="394.2" r="0.55"/><circle cx="35.2" cy="395.0" r="0.55"/><circle cx="34.0" cy="390.9" r="0.55"/><circle cx="36.5" cy="395.0" r="0.55"/><circle cx="34.7" cy="396.6" r="0.55"/><circle cx="30.7" cy="397.3" r="0.55"/><circle cx="33.1" cy="398.6" r="0.55"/><circle cx="33.1" cy="396.0" r="0.55"/><circle cx="32.5" cy="393.3" r="0.55"/><circle cx="36.4" cy="396.4" r="0.55"/><circle cx="37.5" cy="396.3" r="0.55"/><circle cx="32.0" cy="392.5" r="0.55"/><circle cx="31.8" cy="394.0" r="0.55"/><circle cx="31.4" cy="395.9" r="0.55"/><circle cx="34.4" cy="394.6" r="0.55"/><circle cx="33.9" cy="394.8" r="0.55"/><circle cx="34.1" cy="396.1" r="0.55"/><circle cx="36.0" cy="394.0" r="0.55"/><circle cx="29.6" cy="397.1" r="0.55"/><circle cx="33.8" cy="396.7" r="0.55"/><circle cx="33.6" cy="392.8" r="0.55"/><circle cx="32.2" cy="396.1" r="0.55"/><circle cx="36.3" cy="397.4" r="0.55"/><circle cx="31.3" cy="392.9" r="0.55"/><circle cx="34.9" cy="396.4" r="0.55"/><circle cx="34.0" cy="393.0" r="0.55"/><circle cx="35.5" cy="396.2" r="0.55"/><circle cx="34.9" cy="394.3" r="0.55"/><circle cx="34.3" cy="396.2" r="0.55"/><circle cx="32.0" cy="392.2" r="0.55"/><circle cx="34.4" cy="395.7" r="0.55"/><circle cx="33.5" cy="396.3" r="0.55"/><circle cx="32.0" cy="394.9" r="0.55"/><circle cx="32.7" cy="395.9" r="0.55"/><circle cx="37.6" cy="394.6" r="0.55"/><circle cx="38.8" cy="397.3" r="0.55"/><circle cx="35.6" cy="395.9" r="0.55"/><circle cx="38.1" cy="394.7" r="0.55"/><circle cx="33.2" cy="393.4" r="0.55"/><circle cx="34.7" cy="397.0" r="0.55"/><circle cx="34.9" cy="395.6" r="0.55"/><circle cx="33.0" cy="395.3" r="0.55"/><circle cx="29.8" cy="396.6" r="0.55"/><circle cx="32.4" cy="393.3" r="0.55"/><circle cx="31.5" cy="393.8" r="0.55"/><circle cx="35.7" cy="396.6" r="0.55"/><circle cx="30.0" cy="396.4" r="0.55"/><circle cx="35.8" cy="394.1" r="0.55"/><circle cx="29.6" cy="393.9" r="0.55"/><circle cx="31.9" cy="395.5" r="0.55"/><circle cx="32.6" cy="392.0" r="0.55"/><circle cx="34.1" cy="392.7" r="0.55"/><circle cx="35.9" cy="393.2" r="0.55"/><circle cx="31.7" cy="393.7" r="0.55"/><circle cx="32.1" cy="396.9" r="0.55"/><circle cx="35.7" cy="395.9" r="0.55"/><circle cx="34.3" cy="392.7" r="0.55"/><circle cx="32.1" cy="394.2" r="0.55"/><circle cx="31.0" cy="395.8" r="0.55"/><circle cx="31.6" cy="393.9" r="0.55"/><circle cx="30.8" cy="391.9" r="0.55"/><circle cx="35.0" cy="397.0" r="0.55"/><circle cx="34.0" cy="393.5" r="0.55"/><circle cx="36.7" cy="395.4" r="0.55"/><circle cx="35.9" cy="397.2" r="0.55"/><circle cx="36.4" cy="394.3" r="0.55"/><circle cx="36.2" cy="396.2" r="0.55"/><circle cx="29.5" cy="394.4" r="0.55"/><circle cx="29.8" cy="394.8" r="0.55"/><circle cx="35.0" cy="393.4" r="0.55"/><circle cx="34.5" cy="397.2" r="0.55"/><circle cx="30.1" cy="396.6" r="0.55"/><circle cx="38.9" cy="398.0" r="0.55"/><circle cx="33.0" cy="395.4" r="0.55"/><circle cx="33.1" cy="396.5" r="0.55"/><circle cx="36.2" cy="395.1" r="0.55"/><circle cx="30.0" cy="396.1" r="0.55"/><circle cx="32.3" cy="395.9" r="0.55"/><circle cx="34.2" cy="397.4" r="0.55"/><circle cx="36.5" cy="394.3" r="0.55"/><circle cx="34.4" cy="397.6" r="0.55"/><circle cx="32.1" cy="395.7" r="0.55"/><circle cx="36.6" cy="396.9" r="0.55"/><circle cx="34.8" cy="393.0" r="0.55"/><circle cx="30.2" cy="395.4" r="0.55"/><circle cx="34.5" cy="398.8" r="0.55"/><circle cx="31.3" cy="396.7" r="0.55"/><circle cx="35.5" cy="392.5" r="0.55"/><circle cx="31.4" cy="395.2" r="0.55"/><circle cx="32.2" cy="394.8" r="0.55"/><circle cx="34.7" cy="393.8" r="0.55"/><circle cx="34.7" cy="394.0" r="0.55"/><circle cx="32.1" cy="395.8" r="0.55"/><circle cx="32.0" cy="395.4" r="0.55"/><circle cx="37.7" cy="395.0" r="0.55"/><circle cx="33.1" cy="396.1" r="0.55"/><circle cx="32.5" cy="396.6" r="0.55"/><circle cx="30.2" cy="395.9" r="0.55"/><circle cx="32.2" cy="393.8" r="0.55"/><circle cx="38.1" cy="393.7" r="0.55"/><circle cx="38.1" cy="396.0" r="0.55"/><circle cx="37.3" cy="393.5" r="0.55"/><circle cx="36.6" cy="397.2" r="0.55"/><circle cx="33.2" cy="394.8" r="0.55"/><circle cx="39.9" cy="395.3" r="0.55"/><circle cx="32.4" cy="394.1" r="0.55"/><circle cx="34.7" cy="395.5" r="0.55"/><circle cx="34.0" cy="397.6" r="0.55"/><circle cx="32.6" cy="395.7" r="0.55"/><circle cx="37.3" cy="393.5" r="0.55"/><circle cx="36.2" cy="397.7" r="0.55"/><circle cx="30.0" cy="393.4" r="0.55"/><circle cx="30.8" cy="392.2" r="0.55"/><circle cx="34.7" cy="392.2" r="0.55"/><circle cx="34.8" cy="397.2" r="0.55"/><circle cx="29.3" cy="394.5" r="0.55"/><circle cx="31.6" cy="394.6" r="0.55"/><circle cx="33.6" cy="395.8" r="0.55"/><circle cx="32.6" cy="395.0" r="0.55"/><circle cx="32.1" cy="395.2" r="0.55"/><circle cx="30.5" cy="395.1" r="0.55"/><circle cx="38.5" cy="395.1" r="0.55"/><circle cx="30.2" cy="395.4" r="0.55"/><circle cx="31.0" cy="392.5" r="0.55"/><circle cx="31.6" cy="396.1" r="0.55"/><circle cx="34.5" cy="394.9" r="0.55"/><circle cx="31.1" cy="393.4" r="0.55"/><circle cx="37.0" cy="395.4" r="0.55"/><circle cx="31.0" cy="391.8" r="0.55"/><circle cx="29.9" cy="398.7" r="0.55"/><circle cx="30.5" cy="394.9" r="0.55"/><circle cx="34.0" cy="394.8" r="0.55"/><circle cx="32.8" cy="392.9" r="0.55"/><circle cx="30.8" cy="397.5" r="0.55"/><circle cx="31.5" cy="396.3" r="0.55"/><circle cx="34.2" cy="396.6" r="0.55"/><circle cx="30.6" cy="395.9" r="0.55"/><circle cx="34.5" cy="393.9" r="0.55"/><circle cx="34.7" cy="393.7" r="0.55"/><circle cx="31.4" cy="395.0" r="0.55"/><circle cx="30.9" cy="392.8" r="0.55"/><circle cx="32.4" cy="396.1" r="0.55"/><circle cx="32.4" cy="396.9" r="0.55"/><circle cx="30.5" cy="393.0" r="0.55"/><circle cx="37.5" cy="395.6" r="0.55"/><circle cx="36.0" cy="393.8" r="0.55"/><circle cx="35.6" cy="395.4" r="0.55"/><circle cx="35.2" cy="395.0" r="0.55"/><circle cx="36.6" cy="394.0" r="0.55"/><circle cx="31.0" cy="392.8" r="0.55"/><circle cx="36.5" cy="393.9" r="0.55"/><circle cx="30.8" cy="393.6" r="0.55"/><circle cx="32.3" cy="393.1" r="0.55"/><circle cx="32.7" cy="394.1" r="0.55"/><circle cx="32.1" cy="393.6" r="0.55"/><circle cx="33.6" cy="394.3" r="0.55"/><circle cx="33.8" cy="395.4" r="0.55"/><circle cx="34.4" cy="391.7" r="0.55"/><circle cx="32.1" cy="393.8" r="0.55"/><circle cx="35.5" cy="392.6" r="0.55"/><circle cx="31.6" cy="394.6" r="0.55"/><circle cx="32.6" cy="396.5" r="0.55"/><circle cx="32.3" cy="396.4" r="0.55"/><circle cx="29.7" cy="392.3" r="0.55"/><circle cx="36.7" cy="395.7" r="0.55"/></g>
<g fill="#222" fill-opacity="0.18"><circle cx="56.4" cy="396.2" r="0.55"/><circle cx="56.4" cy="394.2" r="0.55"/><circle cx="60.5" cy="395.2" r="0.55"/><circle cx="60.9" cy="396.1" r="0.55"/><circle cx="34.2" cy="394.1" r="0.55"/><circle cx="62.1" cy="395.8" r="0.55"/><circle cx="48.4" cy="396.4" r="0.55"/><circle cx="48.2" cy="395.2" r="0.55"/><circle cx="52.9" cy="396.2" r="0.55"/><circle cx="65.7" cy="396.1" r="0.55"/><circle cx="68.9" cy="398.7" r="0.55"/><circle cx="67.4" cy="397.6" r="0.55"/><circle cx="53.2" cy="396.2" r="0.55"/><circle cx="50.7" cy="394.9" r="0.55"/><circle cx="51.4" cy="395.0" r="0.55"/><circle cx="66.8" cy="396.8" r="0.55"/><circle cx="48.0" cy="393.1" r="0.55"/><circle cx="51.5" cy="395.4" r="0.55"/><circle cx="42.2" cy="394.3" r="0.55"/><circle cx="31.7" cy="396.9" r="0.55"/><circle cx="51.4" cy="399.9" r="0.55"/><circle cx="51.7" cy="395.8" r="0.55"/><circle cx="65.0" cy="396.2" r="0.55"/><circle cx="53.5" cy="395.4" r="0.55"/><circle cx="46.6" cy="398.2" r="0.55"/></g>
<g fill="#222" fill-opacity="0.45"><circle cx="91.5" cy="398.7" r="0.55"/><circle cx="88.5" cy="396.0" r="0.55"/><circle cx="87.4" cy="397.5" r="0.55"/><circle cx="86.2" cy="396.9" r="0.55"/><circle cx="91.7" cy="398.3" r="0.55"/><circle cx="87.2" cy="397.7" r="0.55"/><circle cx="87.7" cy="394.8" r="0.55"/><circle cx="86.4" cy="397.8" r="0.55"/><circle cx="92.9" cy="395.0" r="0.55"/><circle cx="87.6" cy="395.5" r="0.55"/><circle cx="94.8" cy="397.6" r="0.55"/><circle cx="88.1" cy="393.1" r="0.55"/><circle cx="87.8" cy="397.9" r="0.55"/><circle cx="93.4" cy="395.6" r="0.55"/><circle cx="87.8" cy="395.2" r="0.55"/><circle cx="85.2" cy="397.5" r="0.55"/><circle cx="86.9" cy="397.7" r="0.55"/><circle cx="85.5" cy="394.0" r="0.55"/><circle cx="89.9" cy="394.8" r="0.55"/><circle cx="91.0" cy="396.0" r="0.55"/><circle cx="86.7" cy="397.0" r="0.55"/><circle cx="91.2" cy="392.9" r="0.55"/><circle cx="93.3" cy="396.8" r="0.55"/><circle cx="91.0" cy="393.0" r="0.55"/><circle cx="87.7" cy="395.4" r="0.55"/><circle cx="91.7" cy="393.7" r="0.55"/><circle cx="87.4" cy="392.8" r="0.55"/><circle cx="88.8" cy="396.6" r="0.55"/><circle cx="85.6" cy="395.1" r="0.55"/><circle cx="90.4" cy="398.5" r="0.55"/><circle cx="90.8" cy="395.5" r="0.55"/><circle cx="86.7" cy="394.5" r="0.55"/><circle cx="87.8" cy="396.2" r="0.55"/><circle cx="89.2" cy="398.7" r="0.55"/><circle cx="89.9" cy="394.3" r="0.55"/><circle cx="92.7" cy="397.5" r="0.55"/><circle cx="89.5" cy="394.8" r="0.55"/><circle cx="85.2" cy="394.4" r="0.55"/><circle cx="91.3" cy="394.7" r="0.55"/><circle cx="86.4" cy="396.3" r="0.55"/><circle cx="89.8" cy="397.0" r="0.55"/><circle cx="90.7" cy="398.3" r="0.55"/><circle cx="87.5" cy="397.6" r="0.55"/><circle cx="87.1" cy="397.1" r="0.55"/><circle cx="89.7" cy="396.4" r="0.55"/><circle cx="91.4" cy="396.0" r="0.55"/><circle cx="91.7" cy="397.4" r="0.55"/><circle cx="89.6" cy="395.1" r="0.55"/><circle cx="87.6" cy="395.2" r="0.55"/><circle cx="88.9" cy="396.0" r="0.55"/><circle cx="95.9" cy="397.0" r="0.55"/><circle cx="91.0" cy="394.6" r="0.55"/><circle cx="87.7" cy="395.5" r="0.55"/><circle cx="89.7" cy="394.3" r="0.55"/><circle cx="92.8" cy="395.1" r="0.55"/><circle cx="91.7" cy="392.3" r="0.55"/><circle cx="89.3" cy="396.4" r="0.55"/><circle cx="89.7" cy="397.0" r="0.55"/><circle cx="89.9" cy="396.3" r="0.55"/><circle cx="85.1" cy="394.9" r="0.55"/><circle cx="90.0" cy="395.7" r="0.55"/><circle cx="87.5" cy="395.1" r="0.55"/><circle cx="93.4" cy="398.8" r="0.55"/><circle cx="89.2" cy="398.1" r="0.55"/><circle cx="85.8" cy="392.9" r="0.55"/><circle cx="88.2" cy="394.6" r="0.55"/><circle cx="88.1" cy="396.3" r="0.55"/><circle cx="96.0" cy="394.9" r="0.55"/><circle cx="89.4" cy="396.4" r="0.55"/></g>
<g fill="#222" fill-opacity="0.18"><circle cx="102.8" cy="398.1" r="0.55"/><circle cx="115.4" cy="395.5" r="0.55"/><circle cx="104.1" cy="396.7" r="0.55"/><circle cx="105.5" cy="395.2" r="0.55"/><circle cx="90.7" cy="394.2" r="0.55"/><circle cx="106.7" cy="397.2" r="0.55"/><circle cx="103.5" cy="394.2" r="0.55"/><circle cx="100.4" cy="396.1" r="0.55"/><circle cx="93.1" cy="395.9" r="0.55"/><circle cx="107.9" cy="397.7" r="0.55"/><circle cx="102.8" cy="397.6" r="0.55"/><circle cx="98.8" cy="397.1" r="0.55"/><circle cx="103.3" cy="397.7" r="0.55"/><circle cx="102.5" cy="396.8" r="0.55"/><circle cx="102.1" cy="396.2" r="0.55"/><circle cx="118.6" cy="397.6" r="0.55"/><circle cx="106.0" cy="399.7" r="0.55"/><circle cx="112.8" cy="395.1" r="0.55"/><circle cx="107.9" cy="398.0" r="0.55"/><circle cx="116.2" cy="398.6" r="0.55"/></g>
<g fill="#222" fill-opacity="0.3"><circle cx="169.5" cy="398.4" r="0.55"/><circle cx="162.1" cy="401.0" r="0.55"/><circle cx="168.3" cy="398.7" r="0.55"/><circle cx="164.3" cy="399.8" r="0.55"/><circle cx="166.3" cy="401.1" r="0.55"/><circle cx="164.7" cy="398.3" r="0.55"/><circle cx="171.6" cy="403.4" r="0.55"/><circle cx="165.5" cy="402.3" r="0.55"/><circle cx="168.0" cy="401.7" r="0.55"/><circle cx="168.2" cy="399.1" r="0.55"/><circle cx="168.6" cy="402.3" r="0.55"/><circle cx="162.0" cy="404.0" r="0.55"/><circle cx="175.4" cy="403.8" r="0.55"/><circle cx="175.0" cy="401.8" r="0.55"/><circle cx="164.5" cy="399.4" r="0.55"/><circle cx="162.3" cy="400.7" r="0.55"/><circle cx="165.9" cy="401.7" r="0.55"/><circle cx="156.9" cy="404.7" r="0.55"/><circle cx="176.2" cy="400.5" r="0.55"/><circle cx="169.0" cy="401.4" r="0.55"/><circle cx="167.2" cy="400.1" r="0.55"/><circle cx="165.4" cy="399.0" r="0.55"/><circle cx="166.8" cy="400.5" r="0.55"/><circle cx="167.4" cy="399.0" r="0.55"/><circle cx="166.2" cy="400.6" r="0.55"/><circle cx="168.7" cy="398.6" r="0.55"/><circle cx="167.9" cy="402.3" r="0.55"/><circle cx="168.7" cy="399.8" r="0.55"/><circle cx="163.8" cy="400.1" r="0.55"/><circle cx="169.3" cy="403.3" r="0.55"/><circle cx="165.3" cy="399.3" r="0.55"/><circle cx="167.7" cy="400.9" r="0.55"/><circle cx="161.9" cy="399.2" r="0.55"/><circle cx="165.5" cy="401.7" r="0.55"/><circle cx="160.6" cy="398.7" r="0.55"/><circle cx="168.2" cy="398.3" r="0.55"/><circle cx="166.5" cy="401.1" r="0.55"/><circle cx="165.5" cy="398.7" r="0.55"/><circle cx="165.7" cy="399.9" r="0.55"/><circle cx="167.5" cy="399.0" r="0.55"/><circle cx="170.9" cy="397.5" r="0.55"/><circle cx="165.2" cy="400.5" r="0.55"/><circle cx="170.3" cy="399.4" r="0.55"/><circle cx="168.5" cy="399.5" r="0.55"/><circle cx="169.3" cy="403.6" r="0.55"/><circle cx="164.2" cy="401.3" r="0.55"/><circle cx="161.8" cy="402.3" r="0.55"/><circle cx="171.4" cy="400.6" r="0.55"/><circle cx="160.9" cy="401.2" r="0.55"/><circle cx="171.2" cy="402.5" r="0.55"/><circle cx="169.7" cy="397.2" r="0.55"/><circle cx="162.9" cy="403.1" r="0.55"/><circle cx="160.5" cy="402.5" r="0.55"/><circle cx="174.5" cy="401.9" r="0.55"/><circle cx="171.0" cy="399.9" r="0.55"/><circle cx="160.5" cy="400.3" r="0.55"/><circle cx="165.1" cy="400.4" r="0.55"/><circle cx="169.1" cy="400.2" r="0.55"/><circle cx="166.9" cy="401.3" r="0.55"/><circle cx="166.0" cy="403.8" r="0.55"/><circle cx="168.0" cy="400.7" r="0.55"/><circle cx="165.1" cy="399.4" r="0.55"/><circle cx="172.0" cy="400.8" r="0.55"/><circle cx="161.1" cy="399.5" r="0.55"/><circle cx="165.4" cy="399.7" r="0.55"/><circle cx="170.9" cy="398.4" r="0.55"/><circle cx="168.2" cy="400.8" r="0.55"/><circle cx="160.7" cy="400.6" r="0.55"/><circle cx="165.6" cy="401.4" r="0.55"/><circle cx="164.0" cy="401.0" r="0.55"/></g>
<g fill="#222" fill-opacity="0.25"><circle cx="155.3" cy="399.8" r="0.55"/><circle cx="165.1" cy="403.2" r="0.55"/><circle cx="161.9" cy="400.5" r="0.55"/><circle cx="166.3" cy="398.2" r="0.55"/><circle cx="158.8" cy="402.6" r="0.55"/><circle cx="164.6" cy="399.8" r="0.55"/><circle cx="154.5" cy="403.8" r="0.55"/><circle cx="162.6" cy="400.1" r="0.55"/><circle cx="162.2" cy="402.9" r="0.55"/><circle cx="151.6" cy="403.3" r="0.55"/><circle cx="165.0" cy="398.2" r="0.55"/><circle cx="165.1" cy="398.7" r="0.55"/><circle cx="166.6" cy="402.1" r="0.55"/><circle cx="171.0" cy="400.5" r="0.55"/><circle cx="162.0" cy="403.2" r="0.55"/><circle cx="159.4" cy="400.4" r="0.55"/><circle cx="160.5" cy="401.4" r="0.55"/><circle cx="157.7" cy="402.3" r="0.55"/><circle cx="164.2" cy="401.6" r="0.55"/><circle cx="168.8" cy="401.0" r="0.55"/><circle cx="167.2" cy="400.6" r="0.55"/><circle cx="165.0" cy="398.4" r="0.55"/><circle cx="162.8" cy="401.2" r="0.55"/><circle cx="160.0" cy="400.5" r="0.55"/><circle cx="160.6" cy="400.3" r="0.55"/></g>
<g fill="#222" fill-opacity="0.7"><circle cx="40.5" cy="451.1" r="0.6"/><circle cx="48.8" cy="451.2" r="0.6"/><circle cx="46.2" cy="451.8" r="0.6"/><circle cx="55.4" cy="451.6" r="0.6"/><circle cx="49.0" cy="454.0" r="0.6"/><circle cx="56.4" cy="453.4" r="0.6"/><circle cx="57.3" cy="451.5" r="0.6"/><circle cx="50.9" cy="453.7" r="0.6"/><circle cx="48.7" cy="451.8" r="0.6"/><circle cx="53.4" cy="452.6" r="0.6"/><circle cx="50.1" cy="453.5" r="0.6"/><circle cx="50.6" cy="453.1" r="0.6"/><circle cx="56.9" cy="453.0" r="0.6"/><circle cx="55.2" cy="450.3" r="0.6"/><circle cx="44.9" cy="451.1" r="0.6"/><circle cx="53.9" cy="454.3" r="0.6"/><circle cx="45.4" cy="452.5" r="0.6"/><circle cx="47.2" cy="450.9" r="0.6"/><circle cx="50.1" cy="453.0" r="0.6"/><circle cx="52.6" cy="453.8" r="0.6"/><circle cx="46.6" cy="453.3" r="0.6"/><circle cx="56.2" cy="452.1" r="0.6"/><circle cx="53.9" cy="451.2" r="0.6"/><circle cx="46.1" cy="451.4" r="0.6"/><circle cx="48.3" cy="456.3" r="0.6"/><circle cx="49.1" cy="454.5" r="0.6"/><circle cx="52.5" cy="452.5" r="0.6"/><circle cx="55.2" cy="450.8" r="0.6"/><circle cx="56.1" cy="452.6" r="0.6"/><circle cx="43.9" cy="452.9" r="0.6"/><circle cx="54.3" cy="452.7" r="0.6"/><circle cx="59.4" cy="451.4" r="0.6"/><circle cx="54.1" cy="453.1" r="0.6"/><circle cx="47.0" cy="453.8" r="0.6"/><circle cx="44.2" cy="450.0" r="0.6"/><circle cx="54.1" cy="450.4" r="0.6"/><circle cx="50.9" cy="449.5" r="0.6"/><circle cx="51.8" cy="450.3" r="0.6"/><circle cx="53.2" cy="449.7" r="0.6"/><circle cx="53.7" cy="451.6" r="0.6"/><circle cx="51.8" cy="451.9" r="0.6"/><circle cx="52.2" cy="450.0" r="0.6"/><circle cx="38.7" cy="452.1" r="0.6"/><circle cx="46.8" cy="451.3" r="0.6"/><circle cx="53.6" cy="449.0" r="0.6"/><circle cx="47.7" cy="451.1" r="0.6"/><circle cx="46.2" cy="452.5" r="0.6"/><circle cx="50.8" cy="450.8" r="0.6"/><circle cx="46.6" cy="453.2" r="0.6"/><circle cx="48.2" cy="452.9" r="0.6"/><circle cx="53.7" cy="449.2" r="0.6"/><circle cx="46.1" cy="452.0" r="0.6"/><circle cx="53.2" cy="453.2" r="0.6"/><circle cx="55.5" cy="453.6" r="0.6"/><circle cx="49.6" cy="451.7" r="0.6"/><circle cx="55.4" cy="451.4" r="0.6"/><circle cx="56.8" cy="449.6" r="0.6"/><circle cx="54.8" cy="451.7" r="0.6"/><circle cx="41.7" cy="453.5" r="0.6"/><circle cx="53.1" cy="452.0" r="0.6"/><circle cx="46.1" cy="451.3" r="0.6"/><circle cx="59.1" cy="450.8" r="0.6"/><circle cx="34.1" cy="450.7" r="0.6"/><circle cx="45.5" cy="451.8" r="0.6"/><circle cx="49.5" cy="450.6" r="0.6"/><circle cx="47.3" cy="453.6" r="0.6"/><circle cx="44.3" cy="454.9" r="0.6"/><circle cx="48.8" cy="450.4" r="0.6"/><circle cx="55.4" cy="452.8" r="0.6"/><circle cx="46.3" cy="453.1" r="0.6"/><circle cx="42.3" cy="450.6" r="0.6"/><circle cx="57.1" cy="451.6" r="0.6"/><circle cx="45.0" cy="452.8" r="0.6"/><circle cx="56.1" cy="452.0" r="0.6"/><circle cx="42.5" cy="451.5" r="0.6"/><circle cx="53.6" cy="453.2" r="0.6"/><circle cx="60.8" cy="451.6" r="0.6"/><circle cx="49.1" cy="451.9" r="0.6"/><circle cx="57.5" cy="450.6" r="0.6"/><circle cx="58.0" cy="447.9" r="0.6"/><circle cx="55.5" cy="451.0" r="0.6"/><circle cx="53.8" cy="453.0" r="0.6"/><circle cx="45.6" cy="451.9" r="0.6"/><circle cx="52.7" cy="452.9" r="0.6"/><circle cx="46.8" cy="450.5" r="0.6"/><circle cx="41.9" cy="455.8" r="0.6"/><circle cx="50.5" cy="451.7" r="0.6"/><circle cx="44.0" cy="453.4" r="0.6"/><circle cx="48.8" cy="454.2" r="0.6"/><circle cx="55.8" cy="452.0" r="0.6"/><circle cx="55.1" cy="450.3" r="0.6"/><circle cx="49.9" cy="451.1" r="0.6"/><circle cx="45.2" cy="452.0" r="0.6"/><circle cx="50.8" cy="454.2" r="0.6"/><circle cx="34.7" cy="451.0" r="0.6"/><circle cx="46.9" cy="451.3" r="0.6"/><circle cx="53.6" cy="452.6" r="0.6"/><circle cx="51.6" cy="451.3" r="0.6"/><circle cx="54.0" cy="452.5" r="0.6"/><circle cx="42.3" cy="451.6" r="0.6"/><circle cx="44.6" cy="450.2" r="0.6"/><circle cx="52.2" cy="452.1" r="0.6"/><circle cx="52.1" cy="450.7" r="0.6"/><circle cx="50.5" cy="450.6" r="0.6"/><circle cx="53.4" cy="453.0" r="0.6"/><circle cx="60.3" cy="453.9" r="0.6"/><circle cx="47.5" cy="451.3" r="0.6"/><circle cx="46.8" cy="452.5" r="0.6"/><circle cx="61.4" cy="453.1" r="0.6"/><circle cx="40.5" cy="450.1" r="0.6"/><circle cx="45.0" cy="452.8" r="0.6"/><circle cx="51.5" cy="452.4" r="0.6"/><circle cx="60.4" cy="450.8" r="0.6"/><circle cx="47.3" cy="454.9" r="0.6"/><circle cx="53.2" cy="450.8" r="0.6"/><circle cx="41.4" cy="449.7" r="0.6"/><circle cx="39.3" cy="452.1" r="0.6"/><circle cx="51.7" cy="453.5" r="0.6"/><circle cx="50.8" cy="451.0" r="0.6"/><circle cx="47.8" cy="454.9" r="0.6"/><circle cx="42.7" cy="452.3" r="0.6"/><circle cx="51.6" cy="452.9" r="0.6"/><circle cx="49.5" cy="452.7" r="0.6"/><circle cx="55.6" cy="451.8" r="0.6"/><circle cx="49.2" cy="451.7" r="0.6"/><circle cx="46.7" cy="451.7" r="0.6"/><circle cx="50.0" cy="452.3" r="0.6"/><circle cx="58.2" cy="454.0" r="0.6"/><circle cx="49.3" cy="452.9" r="0.6"/><circle cx="53.0" cy="453.1" r="0.6"/><circle cx="51.6" cy="452.4" r="0.6"/><circle cx="49.2" cy="450.8" r="0.6"/><circle cx="55.9" cy="453.9" r="0.6"/><circle cx="54.8" cy="452.7" r="0.6"/><circle cx="52.8" cy="451.3" r="0.6"/><circle cx="42.6" cy="453.0" r="0.6"/><circle cx="52.5" cy="451.2" r="0.6"/><circle cx="46.7" cy="453.9" r="0.6"/><circle cx="42.5" cy="454.6" r="0.6"/><circle cx="54.7" cy="455.6" r="0.6"/><circle cx="47.9" cy="452.0" r="0.6"/><circle cx="49.0" cy="452.2" r="0.6"/><circle cx="50.5" cy="450.9" r="0.6"/><circle cx="56.9" cy="450.8" r="0.6"/><circle cx="49.0" cy="452.8" r="0.6"/><circle cx="48.8" cy="451.3" r="0.6"/><circle cx="53.3" cy="451.4" r="0.6"/><circle cx="45.3" cy="451.8" r="0.6"/><circle cx="50.4" cy="454.6" r="0.6"/><circle cx="46.0" cy="453.5" r="0.6"/><circle cx="47.6" cy="451.5" r="0.6"/><circle cx="49.9" cy="452.4" r="0.6"/><circle cx="55.8" cy="454.6" r="0.6"/><circle cx="48.3" cy="454.0" r="0.6"/><circle cx="56.5" cy="453.2" r="0.6"/><circle cx="47.7" cy="453.4" r="0.6"/><circle cx="51.0" cy="452.5" r="0.6"/><circle cx="50.2" cy="453.0" r="0.6"/><circle cx="57.1" cy="453.7" r="0.6"/><circle cx="50.5" cy="453.5" r="0.6"/><circle cx="58.8" cy="450.6" r="0.6"/><circle cx="58.9" cy="450.0" r="0.6"/><circle cx="54.2" cy="452.9" r="0.6"/><circle cx="58.9" cy="452.4" r="0.6"/><circle cx="49.1" cy="450.8" r="0.6"/><circle cx="45.2" cy="453.1" r="0.6"/><circle cx="50.3" cy="450.9" r="0.6"/><circle cx="54.2" cy="450.9" r="0.6"/><circle cx="49.3" cy="451.3" r="0.6"/><circle cx="59.8" cy="454.2" r="0.6"/><circle cx="50.7" cy="449.6" r="0.6"/><circle cx="52.9" cy="452.1" r="0.6"/><circle cx="53.2" cy="452.8" r="0.6"/><circle cx="49.9" cy="453.4" r="0.6"/><circle cx="55.7" cy="452.3" r="0.6"/><circle cx="49.5" cy="451.3" r="0.6"/><circle cx="55.0" cy="450.4" r="0.6"/><circle cx="50.7" cy="450.9" r="0.6"/><circle cx="44.5" cy="452.9" r="0.6"/><circle cx="51.4" cy="452.1" r="0.6"/><circle cx="55.9" cy="449.8" r="0.6"/><circle cx="51.2" cy="452.4" r="0.6"/><circle cx="55.7" cy="450.4" r="0.6"/><circle cx="55.1" cy="452.3" r="0.6"/><circle cx="58.3" cy="453.7" r="0.6"/><circle cx="54.2" cy="455.2" r="0.6"/><circle cx="51.5" cy="451.4" r="0.6"/><circle cx="49.8" cy="450.6" r="0.6"/><circle cx="51.4" cy="449.2" r="0.6"/><circle cx="51.1" cy="452.6" r="0.6"/><circle cx="56.5" cy="451.5" r="0.6"/><circle cx="58.4" cy="451.0" r="0.6"/><circle cx="50.8" cy="449.2" r="0.6"/><circle cx="47.7" cy="450.8" r="0.6"/><circle cx="58.8" cy="452.8" r="0.6"/><circle cx="46.1" cy="452.8" r="0.6"/><circle cx="53.9" cy="451.7" r="0.6"/><circle cx="51.6" cy="451.6" r="0.6"/><circle cx="48.9" cy="449.4" r="0.6"/><circle cx="51.1" cy="453.9" r="0.6"/><circle cx="58.5" cy="451.6" r="0.6"/><circle cx="47.9" cy="451.7" r="0.6"/><circle cx="55.9" cy="452.5" r="0.6"/><circle cx="48.7" cy="452.5" r="0.6"/><circle cx="50.5" cy="452.8" r="0.6"/><circle cx="49.5" cy="449.8" r="0.6"/><circle cx="51.8" cy="453.1" r="0.6"/><circle cx="46.1" cy="451.8" r="0.6"/><circle cx="55.8" cy="451.5" r="0.6"/><circle cx="48.3" cy="455.0" r="0.6"/><circle cx="55.5" cy="453.5" r="0.6"/><circle cx="46.9" cy="454.4" r="0.6"/><circle cx="43.4" cy="451.2" r="0.6"/><circle cx="55.1" cy="453.9" r="0.6"/><circle cx="47.0" cy="451.0" r="0.6"/><circle cx="52.5" cy="449.2" r="0.6"/><circle cx="54.6" cy="452.8" r="0.6"/><circle cx="49.3" cy="452.8" r="0.6"/><circle cx="55.3" cy="452.5" r="0.6"/><circle cx="54.0" cy="454.2" r="0.6"/><circle cx="49.2" cy="452.2" r="0.6"/><circle cx="49.0" cy="453.5" r="0.6"/><circle cx="49.5" cy="452.7" r="0.6"/><circle cx="52.2" cy="452.1" r="0.6"/><circle cx="59.8" cy="451.9" r="0.6"/><circle cx="58.4" cy="453.2" r="0.6"/><circle cx="57.9" cy="451.8" r="0.6"/><circle cx="56.0" cy="453.1" r="0.6"/><circle cx="48.5" cy="452.4" r="0.6"/><circle cx="50.9" cy="451.9" r="0.6"/><circle cx="57.8" cy="451.0" r="0.6"/><circle cx="43.4" cy="449.5" r="0.6"/><circle cx="49.3" cy="451.1" r="0.6"/><circle cx="51.6" cy="452.8" r="0.6"/><circle cx="60.0" cy="452.4" r="0.6"/><circle cx="53.7" cy="450.9" r="0.6"/><circle cx="54.3" cy="454.0" r="0.6"/><circle cx="58.0" cy="449.2" r="0.6"/><circle cx="55.8" cy="454.3" r="0.6"/><circle cx="55.5" cy="449.8" r="0.6"/><circle cx="50.0" cy="452.8" r="0.6"/><circle cx="53.5" cy="450.8" r="0.6"/><circle cx="47.2" cy="453.4" r="0.6"/><circle cx="45.1" cy="454.1" r="0.6"/><circle cx="51.6" cy="452.4" r="0.6"/><circle cx="45.1" cy="451.1" r="0.6"/><circle cx="54.8" cy="449.9" r="0.6"/><circle cx="61.5" cy="450.0" r="0.6"/><circle cx="45.6" cy="452.1" r="0.6"/><circle cx="53.8" cy="453.1" r="0.6"/><circle cx="49.7" cy="451.7" r="0.6"/><circle cx="50.4" cy="451.2" r="0.6"/><circle cx="39.1" cy="453.4" r="0.6"/><circle cx="52.7" cy="452.2" r="0.6"/><circle cx="48.5" cy="452.4" r="0.6"/><circle cx="51.4" cy="451.9" r="0.6"/><circle cx="56.8" cy="449.5" r="0.6"/><circle cx="52.7" cy="450.5" r="0.6"/><circle cx="50.0" cy="454.2" r="0.6"/><circle cx="46.3" cy="451.9" r="0.6"/><circle cx="48.7" cy="453.4" r="0.6"/><circle cx="46.8" cy="449.6" r="0.6"/><circle cx="54.0" cy="451.5" r="0.6"/><circle cx="50.0" cy="453.6" r="0.6"/><circle cx="47.2" cy="451.5" r="0.6"/><circle cx="52.2" cy="452.6" r="0.6"/><circle cx="49.0" cy="453.5" r="0.6"/><circle cx="62.3" cy="451.4" r="0.6"/><circle cx="60.5" cy="449.0" r="0.6"/><circle cx="58.3" cy="451.5" r="0.6"/><circle cx="52.2" cy="451.5" r="0.6"/><circle cx="48.4" cy="450.2" r="0.6"/><circle cx="49.6" cy="453.9" r="0.6"/><circle cx="57.0" cy="451.5" r="0.6"/><circle cx="49.0" cy="451.0" r="0.6"/><circle cx="45.7" cy="454.6" r="0.6"/><circle cx="54.7" cy="452.2" r="0.6"/><circle cx="49.1" cy="450.5" r="0.6"/><circle cx="57.8" cy="453.1" r="0.6"/><circle cx="46.9" cy="453.4" r="0.6"/><circle cx="46.2" cy="452.9" r="0.6"/><circle cx="46.9" cy="451.4" r="0.6"/><circle cx="53.9" cy="452.6" r="0.6"/><circle cx="56.4" cy="450.8" r="0.6"/><circle cx="59.1" cy="453.9" r="0.6"/><circle cx="51.5" cy="452.7" r="0.6"/><circle cx="47.8" cy="451.8" r="0.6"/><circle cx="45.2" cy="452.1" r="0.6"/><circle cx="52.5" cy="453.9" r="0.6"/><circle cx="56.0" cy="453.2" r="0.6"/><circle cx="49.8" cy="451.7" r="0.6"/><circle cx="49.9" cy="452.3" r="0.6"/><circle cx="42.2" cy="453.1" r="0.6"/><circle cx="44.0" cy="451.3" r="0.6"/><circle cx="51.6" cy="451.3" r="0.6"/><circle cx="59.5" cy="451.9" r="0.6"/><circle cx="59.0" cy="453.7" r="0.6"/><circle cx="49.1" cy="452.6" r="0.6"/><circle cx="57.7" cy="451.5" r="0.6"/><circle cx="51.9" cy="451.2" r="0.6"/><circle cx="51.8" cy="451.5" r="0.6"/><circle cx="51.9" cy="453.4" r="0.6"/><circle cx="58.2" cy="452.2" r="0.6"/><circle cx="52.5" cy="453.2" r="0.6"/><circle cx="50.1" cy="450.5" r="0.6"/><circle cx="56.8" cy="450.7" r="0.6"/><circle cx="56.0" cy="450.6" r="0.6"/><circle cx="60.3" cy="450.5" r="0.6"/><circle cx="55.6" cy="454.2" r="0.6"/><circle cx="46.9" cy="454.1" r="0.6"/><circle cx="47.5" cy="449.5" r="0.6"/><circle cx="55.0" cy="453.0" r="0.6"/><circle cx="50.5" cy="448.4" r="0.6"/><circle cx="51.2" cy="451.6" r="0.6"/><circle cx="49.7" cy="451.6" r="0.6"/><circle cx="42.9" cy="451.2" r="0.6"/><circle cx="60.1" cy="454.2" r="0.6"/><circle cx="49.8" cy="451.0" r="0.6"/><circle cx="53.4" cy="453.5" r="0.6"/><circle cx="55.0" cy="450.3" r="0.6"/><circle cx="52.3" cy="452.2" r="0.6"/><circle cx="58.4" cy="453.7" r="0.6"/><circle cx="54.0" cy="453.8" r="0.6"/><circle cx="49.6" cy="454.2" r="0.6"/><circle cx="49.5" cy="452.6" r="0.6"/><circle cx="55.9" cy="450.7" r="0.6"/><circle cx="48.1" cy="449.5" r="0.6"/><circle cx="52.3" cy="451.9" r="0.6"/><circle cx="49.9" cy="452.7" r="0.6"/><circle cx="41.3" cy="452.0" r="0.6"/><circle cx="51.9" cy="451.6" r="0.6"/><circle cx="55.3" cy="454.5" r="0.6"/><circle cx="49.4" cy="450.6" r="0.6"/><circle cx="48.6" cy="452.1" r="0.6"/><circle cx="54.3" cy="450.8" r="0.6"/><circle cx="56.3" cy="450.5" r="0.6"/><circle cx="55.5" cy="452.6" r="0.6"/><circle cx="53.7" cy="455.1" r="0.6"/><circle cx="50.2" cy="451.8" r="0.6"/><circle cx="53.8" cy="453.2" r="0.6"/><circle cx="45.1" cy="452.4" r="0.6"/><circle cx="47.9" cy="452.9" r="0.6"/><circle cx="58.1" cy="452.1" r="0.6"/><circle cx="51.0" cy="452.3" r="0.6"/><circle cx="37.3" cy="453.1" r="0.6"/><circle cx="54.2" cy="452.2" r="0.6"/><circle cx="49.6" cy="450.9" r="0.6"/><circle cx="50.6" cy="453.7" r="0.6"/><circle cx="51.0" cy="453.9" r="0.6"/><circle cx="39.2" cy="451.3" r="0.6"/><circle cx="52.8" cy="452.0" r="0.6"/><circle cx="43.5" cy="451.0" r="0.6"/><circle cx="57.5" cy="450.1" r="0.6"/><circle cx="46.7" cy="450.4" r="0.6"/><circle cx="48.9" cy="452.9" r="0.6"/><circle cx="54.4" cy="449.1" r="0.6"/><circle cx="58.5" cy="451.1" r="0.6"/><circle cx="48.7" cy="454.4" r="0.6"/><circle cx="51.1" cy="450.2" r="0.6"/><circle cx="48.4" cy="451.0" r="0.6"/><circle cx="46.7" cy="451.5" r="0.6"/><circle cx="55.7" cy="452.5" r="0.6"/><circle cx="44.9" cy="456.0" r="0.6"/><circle cx="46.7" cy="452.2" r="0.6"/><circle cx="51.7" cy="453.1" r="0.6"/><circle cx="49.9" cy="452.7" r="0.6"/><circle cx="61.6" cy="452.1" r="0.6"/><circle cx="46.3" cy="452.5" r="0.6"/><circle cx="47.6" cy="451.5" r="0.6"/><circle cx="52.4" cy="452.5" r="0.6"/><circle cx="50.1" cy="453.2" r="0.6"/><circle cx="50.6" cy="450.1" r="0.6"/><circle cx="55.7" cy="451.5" r="0.6"/><circle cx="57.3" cy="451.1" r="0.6"/><circle cx="54.2" cy="452.5" r="0.6"/><circle cx="38.6" cy="449.8" r="0.6"/><circle cx="46.1" cy="454.0" r="0.6"/><circle cx="42.4" cy="453.3" r="0.6"/><circle cx="56.7" cy="452.7" r="0.6"/><circle cx="54.7" cy="451.3" r="0.6"/><circle cx="51.4" cy="452.3" r="0.6"/><circle cx="53.5" cy="453.0" r="0.6"/><circle cx="50.5" cy="451.0" r="0.6"/><circle cx="48.8" cy="452.6" r="0.6"/><circle cx="43.5" cy="450.2" r="0.6"/><circle cx="49.5" cy="451.2" r="0.6"/><circle cx="50.2" cy="448.2" r="0.6"/><circle cx="49.9" cy="451.6" r="0.6"/><circle cx="55.2" cy="449.1" r="0.6"/><circle cx="50.0" cy="452.7" r="0.6"/><circle cx="53.8" cy="453.7" r="0.6"/><circle cx="56.6" cy="450.5" r="0.6"/><circle cx="54.6" cy="451.5" r="0.6"/><circle cx="47.6" cy="454.2" r="0.6"/><circle cx="48.5" cy="450.8" r="0.6"/><circle cx="49.5" cy="450.8" r="0.6"/><circle cx="56.3" cy="452.5" r="0.6"/><circle cx="58.2" cy="452.6" r="0.6"/><circle cx="48.5" cy="453.5" r="0.6"/><circle cx="48.4" cy="451.3" r="0.6"/><circle cx="50.7" cy="452.1" r="0.6"/><circle cx="57.2" cy="451.1" r="0.6"/><circle cx="53.2" cy="452.0" r="0.6"/><circle cx="45.4" cy="450.4" r="0.6"/><circle cx="50.4" cy="452.6" r="0.6"/><circle cx="53.0" cy="452.7" r="0.6"/><circle cx="51.7" cy="451.4" r="0.6"/><circle cx="53.6" cy="450.6" r="0.6"/><circle cx="45.0" cy="451.5" r="0.6"/><circle cx="44.6" cy="451.3" r="0.6"/><circle cx="47.9" cy="451.2" r="0.6"/><circle cx="51.3" cy="450.8" r="0.6"/><circle cx="49.5" cy="449.5" r="0.6"/><circle cx="52.2" cy="450.7" r="0.6"/><circle cx="53.4" cy="447.9" r="0.6"/><circle cx="47.6" cy="452.4" r="0.6"/><circle cx="39.7" cy="451.5" r="0.6"/><circle cx="52.0" cy="452.1" r="0.6"/><circle cx="44.3" cy="452.3" r="0.6"/><circle cx="52.2" cy="450.6" r="0.6"/><circle cx="55.1" cy="451.9" r="0.6"/><circle cx="51.6" cy="451.3" r="0.6"/><circle cx="54.1" cy="452.1" r="0.6"/><circle cx="57.0" cy="452.7" r="0.6"/><circle cx="48.5" cy="451.7" r="0.6"/><circle cx="55.9" cy="451.5" r="0.6"/><circle cx="53.3" cy="452.8" r="0.6"/><circle cx="50.6" cy="448.6" r="0.6"/><circle cx="52.1" cy="452.3" r="0.6"/><circle cx="52.2" cy="450.9" r="0.6"/><circle cx="57.3" cy="451.8" r="0.6"/><circle cx="48.5" cy="451.0" r="0.6"/><circle cx="53.2" cy="450.4" r="0.6"/><circle cx="46.7" cy="454.9" r="0.6"/><circle cx="57.8" cy="453.5" r="0.6"/><circle cx="58.1" cy="452.9" r="0.6"/><circle cx="43.4" cy="453.7" r="0.6"/><circle cx="57.5" cy="452.7" r="0.6"/><circle cx="42.0" cy="453.8" r="0.6"/><circle cx="58.1" cy="451.3" r="0.6"/><circle cx="52.1" cy="453.1" r="0.6"/><circle cx="51.1" cy="453.6" r="0.6"/><circle cx="51.9" cy="453.0" r="0.6"/><circle cx="51.9" cy="449.9" r="0.6"/><circle cx="46.7" cy="456.6" r="0.6"/><circle cx="52.9" cy="453.9" r="0.6"/><circle cx="57.0" cy="454.5" r="0.6"/><circle cx="54.2" cy="451.1" r="0.6"/><circle cx="51.6" cy="449.2" r="0.6"/><circle cx="50.6" cy="453.3" r="0.6"/><circle cx="41.0" cy="452.3" r="0.6"/><circle cx="55.5" cy="453.9" r="0.6"/><circle cx="47.0" cy="451.1" r="0.6"/><circle cx="42.4" cy="450.5" r="0.6"/><circle cx="54.1" cy="455.0" r="0.6"/><circle cx="45.9" cy="454.0" r="0.6"/><circle cx="53.6" cy="451.3" r="0.6"/><circle cx="62.1" cy="448.3" r="0.6"/><circle cx="51.2" cy="452.3" r="0.6"/><circle cx="61.8" cy="454.6" r="0.6"/><circle cx="62.5" cy="452.2" r="0.6"/><circle cx="56.3" cy="454.0" r="0.6"/><circle cx="54.0" cy="452.5" r="0.6"/><circle cx="50.6" cy="451.4" r="0.6"/><circle cx="45.5" cy="454.8" r="0.6"/><circle cx="49.3" cy="449.0" r="0.6"/><circle cx="52.8" cy="452.0" r="0.6"/><circle cx="52.4" cy="454.6" r="0.6"/><circle cx="51.0" cy="451.6" r="0.6"/><circle cx="47.9" cy="452.0" r="0.6"/><circle cx="49.4" cy="452.3" r="0.6"/><circle cx="66.7" cy="452.6" r="0.6"/><circle cx="47.3" cy="454.8" r="0.6"/><circle cx="55.7" cy="453.2" r="0.6"/><circle cx="55.0" cy="453.2" r="0.6"/><circle cx="54.8" cy="454.1" r="0.6"/><circle cx="56.4" cy="454.0" r="0.6"/><circle cx="49.1" cy="452.0" r="0.6"/><circle cx="48.0" cy="453.4" r="0.6"/><circle cx="55.5" cy="451.3" r="0.6"/><circle cx="54.3" cy="455.8" r="0.6"/><circle cx="57.5" cy="450.4" r="0.6"/><circle cx="51.1" cy="452.9" r="0.6"/><circle cx="51.3" cy="452.6" r="0.6"/><circle cx="57.2" cy="452.5" r="0.6"/><circle cx="46.2" cy="453.0" r="0.6"/><circle cx="51.0" cy="452.2" r="0.6"/><circle cx="48.7" cy="450.0" r="0.6"/><circle cx="45.4" cy="451.5" r="0.6"/><circle cx="46.3" cy="448.0" r="0.6"/><circle cx="57.1" cy="450.3" r="0.6"/><circle cx="48.0" cy="452.8" r="0.6"/><circle cx="39.8" cy="454.0" r="0.6"/><circle cx="47.8" cy="453.0" r="0.6"/><circle cx="49.2" cy="452.4" r="0.6"/><circle cx="52.0" cy="452.0" r="0.6"/><circle cx="42.6" cy="449.9" r="0.6"/><circle cx="51.3" cy="454.1" r="0.6"/><circle cx="48.8" cy="452.8" r="0.6"/><circle cx="52.3" cy="452.7" r="0.6"/><circle cx="56.3" cy="449.8" r="0.6"/><circle cx="52.8" cy="451.7" r="0.6"/><circle cx="50.0" cy="450.8" r="0.6"/><circle cx="47.7" cy="450.5" r="0.6"/><circle cx="46.2" cy="455.7" r="0.6"/><circle cx="59.8" cy="452.0" r="0.6"/><circle cx="55.1" cy="450.6" r="0.6"/><circle cx="37.9" cy="449.3" r="0.6"/><circle cx="52.2" cy="454.1" r="0.6"/><circle cx="51.3" cy="450.5" r="0.6"/><circle cx="50.3" cy="450.5" r="0.6"/><circle cx="44.7" cy="451.7" r="0.6"/><circle cx="49.6" cy="450.8" r="0.6"/><circle cx="47.2" cy="450.6" r="0.6"/><circle cx="52.7" cy="454.0" r="0.6"/><circle cx="50.5" cy="455.3" r="0.6"/><circle cx="43.6" cy="452.4" r="0.6"/><circle cx="45.9" cy="451.8" r="0.6"/><circle cx="52.0" cy="452.8" r="0.6"/><circle cx="57.0" cy="451.2" r="0.6"/><circle cx="45.4" cy="451.7" r="0.6"/><circle cx="52.9" cy="451.0" r="0.6"/><circle cx="55.9" cy="454.5" r="0.6"/><circle cx="44.6" cy="452.5" r="0.6"/><circle cx="56.5" cy="449.2" r="0.6"/><circle cx="52.5" cy="451.7" r="0.6"/><circle cx="44.6" cy="453.9" r="0.6"/><circle cx="52.6" cy="451.3" r="0.6"/><circle cx="53.7" cy="452.9" r="0.6"/><circle cx="55.2" cy="452.8" r="0.6"/><circle cx="53.5" cy="450.3" r="0.6"/><circle cx="49.4" cy="452.2" r="0.6"/><circle cx="38.0" cy="455.1" r="0.6"/><circle cx="49.7" cy="450.5" r="0.6"/><circle cx="42.6" cy="452.4" r="0.6"/><circle cx="51.7" cy="451.1" r="0.6"/><circle cx="49.5" cy="450.7" r="0.6"/><circle cx="47.8" cy="451.9" r="0.6"/><circle cx="48.4" cy="453.0" r="0.6"/><circle cx="50.8" cy="452.2" r="0.6"/><circle cx="53.5" cy="453.9" r="0.6"/><circle cx="54.4" cy="452.3" r="0.6"/><circle cx="50.7" cy="450.8" r="0.6"/><circle cx="49.8" cy="453.0" r="0.6"/><circle cx="52.6" cy="451.4" r="0.6"/><circle cx="45.0" cy="449.8" r="0.6"/><circle cx="53.1" cy="453.5" r="0.6"/><circle cx="53.3" cy="450.0" r="0.6"/><circle cx="50.5" cy="452.3" r="0.6"/><circle cx="47.0" cy="452.5" r="0.6"/><circle cx="50.5" cy="450.8" r="0.6"/><circle cx="45.4" cy="453.2" r="0.6"/><circle cx="53.2" cy="450.7" r="0.6"/><circle cx="46.6" cy="453.3" r="0.6"/><circle cx="54.4" cy="451.6" r="0.6"/><circle cx="59.3" cy="451.6" r="0.6"/><circle cx="46.4" cy="453.6" r="0.6"/><circle cx="50.6" cy="452.5" r="0.6"/><circle cx="51.7" cy="450.5" r="0.6"/><circle cx="45.7" cy="451.7" r="0.6"/><circle cx="58.3" cy="450.5" r="0.6"/><circle cx="58.1" cy="452.3" r="0.6"/><circle cx="46.1" cy="452.4" r="0.6"/><circle cx="54.3" cy="450.7" r="0.6"/><circle cx="41.1" cy="452.5" r="0.6"/><circle cx="46.1" cy="452.6" r="0.6"/><circle cx="42.2" cy="451.8" r="0.6"/><circle cx="47.6" cy="449.8" r="0.6"/><circle cx="50.3" cy="452.3" r="0.6"/><circle cx="48.8" cy="450.3" r="0.6"/><circle cx="52.5" cy="449.4" r="0.6"/><circle cx="54.1" cy="452.7" r="0.6"/><circle cx="59.7" cy="453.3" r="0.6"/><circle cx="53.2" cy="452.4" r="0.6"/><circle cx="51.6" cy="450.1" r="0.6"/><circle cx="58.6" cy="452.8" r="0.6"/><circle cx="50.1" cy="450.3" r="0.6"/><circle cx="58.7" cy="452.8" r="0.6"/><circle cx="45.7" cy="453.0" r="0.6"/><circle cx="60.7" cy="452.0" r="0.6"/><circle cx="53.4" cy="451.4" r="0.6"/><circle cx="48.4" cy="453.6" r="0.6"/><circle cx="66.5" cy="452.2" r="0.6"/><circle cx="50.9" cy="453.2" r="0.6"/><circle cx="50.0" cy="453.1" r="0.6"/><circle cx="55.5" cy="450.5" r="0.6"/><circle cx="46.3" cy="451.9" r="0.6"/><circle cx="55.5" cy="452.4" r="0.6"/><circle cx="57.5" cy="450.0" r="0.6"/><circle cx="53.9" cy="451.1" r="0.6"/><circle cx="52.0" cy="452.5" r="0.6"/><circle cx="46.8" cy="451.7" r="0.6"/><circle cx="45.9" cy="452.4" r="0.6"/><circle cx="47.4" cy="451.3" r="0.6"/><circle cx="52.6" cy="451.0" r="0.6"/><circle cx="57.1" cy="451.1" r="0.6"/><circle cx="55.6" cy="452.4" r="0.6"/><circle cx="46.5" cy="451.7" r="0.6"/><circle cx="47.4" cy="451.5" r="0.6"/><circle cx="50.2" cy="454.6" r="0.6"/><circle cx="49.5" cy="454.3" r="0.6"/><circle cx="53.7" cy="450.1" r="0.6"/><circle cx="40.3" cy="453.0" r="0.6"/><circle cx="41.9" cy="453.0" r="0.6"/><circle cx="56.5" cy="452.6" r="0.6"/><circle cx="50.5" cy="451.6" r="0.6"/><circle cx="52.8" cy="451.6" r="0.6"/><circle cx="48.9" cy="451.5" r="0.6"/><circle cx="57.2" cy="451.1" r="0.6"/><circle cx="53.3" cy="450.3" r="0.6"/><circle cx="48.0" cy="450.0" r="0.6"/><circle cx="50.5" cy="453.0" r="0.6"/><circle cx="53.0" cy="451.3" r="0.6"/><circle cx="54.5" cy="451.5" r="0.6"/><circle cx="53.3" cy="452.4" r="0.6"/><circle cx="54.1" cy="448.4" r="0.6"/><circle cx="45.2" cy="453.1" r="0.6"/><circle cx="51.0" cy="455.3" r="0.6"/><circle cx="50.4" cy="451.2" r="0.6"/><circle cx="58.7" cy="452.8" r="0.6"/><circle cx="60.7" cy="452.7" r="0.6"/><circle cx="50.5" cy="453.1" r="0.6"/><circle cx="47.7" cy="451.4" r="0.6"/><circle cx="48.8" cy="451.7" r="0.6"/><circle cx="55.3" cy="451.3" r="0.6"/><circle cx="53.1" cy="451.3" r="0.6"/><circle cx="55.8" cy="448.0" r="0.6"/><circle cx="50.5" cy="452.2" r="0.6"/><circle cx="46.3" cy="453.5" r="0.6"/><circle cx="52.5" cy="453.9" r="0.6"/><circle cx="56.1" cy="452.9" r="0.6"/><circle cx="50.8" cy="450.4" r="0.6"/><circle cx="50.4" cy="451.3" r="0.6"/><circle cx="52.7" cy="451.3" r="0.6"/><circle cx="66.3" cy="449.7" r="0.6"/><circle cx="57.2" cy="451.3" r="0.6"/><circle cx="50.3" cy="453.3" r="0.6"/><circle cx="51.5" cy="450.2" r="0.6"/><circle cx="53.5" cy="451.7" r="0.6"/><circle cx="41.6" cy="452.3" r="0.6"/><circle cx="46.4" cy="450.9" r="0.6"/><circle cx="53.8" cy="452.4" r="0.6"/><circle cx="50.1" cy="455.1" r="0.6"/><circle cx="53.5" cy="451.1" r="0.6"/><circle cx="52.6" cy="451.8" r="0.6"/><circle cx="40.9" cy="449.7" r="0.6"/><circle cx="44.8" cy="455.0" r="0.6"/><circle cx="50.6" cy="451.6" r="0.6"/><circle cx="48.8" cy="453.4" r="0.6"/><circle cx="51.6" cy="454.5" r="0.6"/><circle cx="55.3" cy="454.4" r="0.6"/><circle cx="50.9" cy="452.5" r="0.6"/><circle cx="49.4" cy="451.8" r="0.6"/><circle cx="43.2" cy="451.2" r="0.6"/><circle cx="46.9" cy="451.1" r="0.6"/><circle cx="57.4" cy="452.4" r="0.6"/><circle cx="57.4" cy="453.2" r="0.6"/><circle cx="55.9" cy="453.5" r="0.6"/><circle cx="48.6" cy="453.2" r="0.6"/><circle cx="49.9" cy="451.2" r="0.6"/><circle cx="57.3" cy="455.1" r="0.6"/><circle cx="46.8" cy="454.5" r="0.6"/><circle cx="55.5" cy="450.8" r="0.6"/><circle cx="52.8" cy="452.5" r="0.6"/><circle cx="53.3" cy="451.5" r="0.6"/><circle cx="45.3" cy="452.0" r="0.6"/><circle cx="55.7" cy="453.1" r="0.6"/><circle cx="54.7" cy="453.6" r="0.6"/><circle cx="46.7" cy="451.9" r="0.6"/><circle cx="53.1" cy="453.4" r="0.6"/><circle cx="52.3" cy="452.7" r="0.6"/><circle cx="52.1" cy="455.0" r="0.6"/><circle cx="41.0" cy="452.0" r="0.6"/><circle cx="63.4" cy="452.3" r="0.6"/><circle cx="42.7" cy="452.2" r="0.6"/><circle cx="44.6" cy="451.0" r="0.6"/><circle cx="52.6" cy="454.5" r="0.6"/><circle cx="53.7" cy="453.0" r="0.6"/><circle cx="56.4" cy="452.3" r="0.6"/><circle cx="47.4" cy="451.9" r="0.6"/><circle cx="53.1" cy="451.6" r="0.6"/><circle cx="48.3" cy="451.5" r="0.6"/><circle cx="44.3" cy="450.5" r="0.6"/><circle cx="51.1" cy="451.5" r="0.6"/><circle cx="51.7" cy="454.0" r="0.6"/><circle cx="52.9" cy="452.0" r="0.6"/><circle cx="45.9" cy="450.4" r="0.6"/><circle cx="53.3" cy="450.7" r="0.6"/><circle cx="53.6" cy="450.4" r="0.6"/><circle cx="52.1" cy="451.9" r="0.6"/><circle cx="56.3" cy="451.4" r="0.6"/><circle cx="49.7" cy="452.4" r="0.6"/><circle cx="51.8" cy="454.4" r="0.6"/><circle cx="50.3" cy="451.2" r="0.6"/><circle cx="50.0" cy="452.7" r="0.6"/><circle cx="52.6" cy="453.0" r="0.6"/><circle cx="44.8" cy="455.6" r="0.6"/><circle cx="60.4" cy="452.0" r="0.6"/><circle cx="45.7" cy="452.2" r="0.6"/><circle cx="53.5" cy="448.8" r="0.6"/><circle cx="51.6" cy="449.9" r="0.6"/><circle cx="53.7" cy="454.0" r="0.6"/><circle cx="56.5" cy="449.8" r="0.6"/><circle cx="58.1" cy="453.3" r="0.6"/><circle cx="49.8" cy="452.7" r="0.6"/><circle cx="58.8" cy="451.5" r="0.6"/><circle cx="51.4" cy="451.2" r="0.6"/><circle cx="57.1" cy="448.9" r="0.6"/><circle cx="58.3" cy="450.6" r="0.6"/><circle cx="56.0" cy="449.7" r="0.6"/><circle cx="47.0" cy="451.1" r="0.6"/><circle cx="55.5" cy="449.7" r="0.6"/><circle cx="54.4" cy="451.1" r="0.6"/><circle cx="57.5" cy="451.6" r="0.6"/><circle cx="53.8" cy="451.8" r="0.6"/><circle cx="60.1" cy="451.5" r="0.6"/><circle cx="51.4" cy="454.9" r="0.6"/><circle cx="51.9" cy="453.0" r="0.6"/><circle cx="48.0" cy="452.3" r="0.6"/><circle cx="40.6" cy="452.2" r="0.6"/><circle cx="48.4" cy="449.8" r="0.6"/><circle cx="44.7" cy="453.6" r="0.6"/><circle cx="53.6" cy="449.8" r="0.6"/><circle cx="60.2" cy="451.0" r="0.6"/><circle cx="49.7" cy="452.4" r="0.6"/><circle cx="46.0" cy="449.7" r="0.6"/><circle cx="47.9" cy="453.7" r="0.6"/><circle cx="56.1" cy="449.7" r="0.6"/><circle cx="57.3" cy="452.0" r="0.6"/><circle cx="53.9" cy="452.1" r="0.6"/><circle cx="53.5" cy="450.6" r="0.6"/><circle cx="47.1" cy="451.0" r="0.6"/><circle cx="49.7" cy="452.9" r="0.6"/><circle cx="45.6" cy="454.3" r="0.6"/><circle cx="48.5" cy="451.2" r="0.6"/><circle cx="54.9" cy="452.6" r="0.6"/><circle cx="49.9" cy="450.5" r="0.6"/><circle cx="46.7" cy="449.7" r="0.6"/><circle cx="57.0" cy="453.6" r="0.6"/><circle cx="60.5" cy="452.7" r="0.6"/><circle cx="53.1" cy="453.1" r="0.6"/><circle cx="56.1" cy="451.6" r="0.6"/><circle cx="53.2" cy="455.1" r="0.6"/><circle cx="43.3" cy="450.0" r="0.6"/><circle cx="46.9" cy="453.1" r="0.6"/><circle cx="57.2" cy="451.5" r="0.6"/><circle cx="54.7" cy="451.9" r="0.6"/><circle cx="52.9" cy="451.2" r="0.6"/><circle cx="51.4" cy="452.0" r="0.6"/><circle cx="56.9" cy="455.2" r="0.6"/><circle cx="42.8" cy="452.8" r="0.6"/><circle cx="51.5" cy="453.4" r="0.6"/><circle cx="56.6" cy="453.1" r="0.6"/><circle cx="55.4" cy="450.6" r="0.6"/><circle cx="43.3" cy="454.4" r="0.6"/><circle cx="57.3" cy="450.6" r="0.6"/><circle cx="57.7" cy="453.0" r="0.6"/><circle cx="39.7" cy="453.3" r="0.6"/><circle cx="46.7" cy="453.7" r="0.6"/><circle cx="48.2" cy="450.9" r="0.6"/><circle cx="44.1" cy="451.7" r="0.6"/><circle cx="56.4" cy="451.0" r="0.6"/><circle cx="42.5" cy="455.1" r="0.6"/><circle cx="60.4" cy="453.0" r="0.6"/><circle cx="48.9" cy="450.2" r="0.6"/><circle cx="43.6" cy="452.8" r="0.6"/><circle cx="57.8" cy="450.5" r="0.6"/><circle cx="51.5" cy="451.6" r="0.6"/><circle cx="50.3" cy="452.7" r="0.6"/><circle cx="61.6" cy="451.1" r="0.6"/><circle cx="55.6" cy="453.6" r="0.6"/><circle cx="50.1" cy="451.8" r="0.6"/><circle cx="45.0" cy="453.6" r="0.6"/><circle cx="48.9" cy="451.1" r="0.6"/><circle cx="51.8" cy="450.8" r="0.6"/><circle cx="46.5" cy="451.6" r="0.6"/><circle cx="58.7" cy="451.7" r="0.6"/><circle cx="54.0" cy="449.9" r="0.6"/><circle cx="42.1" cy="454.6" r="0.6"/><circle cx="49.6" cy="449.8" r="0.6"/><circle cx="51.0" cy="452.9" r="0.6"/><circle cx="43.2" cy="450.7" r="0.6"/><circle cx="52.8" cy="450.7" r="0.6"/><circle cx="55.3" cy="453.4" r="0.6"/><circle cx="53.6" cy="451.4" r="0.6"/><circle cx="51.3" cy="451.1" r="0.6"/><circle cx="50.9" cy="452.5" r="0.6"/><circle cx="50.1" cy="453.4" r="0.6"/><circle cx="64.0" cy="451.2" r="0.6"/><circle cx="53.2" cy="453.2" r="0.6"/><circle cx="54.6" cy="451.7" r="0.6"/><circle cx="49.2" cy="453.5" r="0.6"/><circle cx="54.5" cy="452.7" r="0.6"/><circle cx="47.6" cy="452.9" r="0.6"/><circle cx="55.3" cy="451.7" r="0.6"/><circle cx="54.6" cy="455.1" r="0.6"/><circle cx="42.4" cy="452.9" r="0.6"/><circle cx="45.8" cy="450.0" r="0.6"/><circle cx="50.4" cy="452.8" r="0.6"/><circle cx="51.8" cy="450.3" r="0.6"/><circle cx="44.6" cy="451.2" r="0.6"/><circle cx="51.6" cy="450.8" r="0.6"/><circle cx="44.2" cy="454.5" r="0.6"/><circle cx="47.4" cy="451.8" r="0.6"/><circle cx="48.8" cy="451.2" r="0.6"/><circle cx="51.7" cy="451.6" r="0.6"/><circle cx="54.5" cy="450.3" r="0.6"/><circle cx="44.3" cy="454.8" r="0.6"/><circle cx="51.1" cy="453.1" r="0.6"/><circle cx="57.2" cy="452.8" r="0.6"/><circle cx="51.7" cy="449.7" r="0.6"/><circle cx="43.8" cy="453.4" r="0.6"/><circle cx="54.8" cy="452.8" r="0.6"/><circle cx="43.5" cy="448.9" r="0.6"/><circle cx="46.4" cy="450.3" r="0.6"/><circle cx="52.3" cy="450.5" r="0.6"/><circle cx="59.2" cy="451.1" r="0.6"/><circle cx="48.8" cy="453.3" r="0.6"/><circle cx="53.1" cy="450.7" r="0.6"/><circle cx="55.5" cy="454.8" r="0.6"/><circle cx="45.6" cy="451.6" r="0.6"/><circle cx="46.3" cy="449.2" r="0.6"/><circle cx="54.5" cy="453.0" r="0.6"/><circle cx="56.2" cy="452.6" r="0.6"/><circle cx="41.7" cy="452.0" r="0.6"/><circle cx="48.3" cy="450.3" r="0.6"/><circle cx="46.1" cy="453.1" r="0.6"/><circle cx="50.1" cy="454.9" r="0.6"/><circle cx="53.8" cy="449.2" r="0.6"/><circle cx="55.8" cy="453.8" r="0.6"/><circle cx="51.7" cy="450.2" r="0.6"/><circle cx="60.1" cy="450.1" r="0.6"/><circle cx="51.1" cy="449.2" r="0.6"/><circle cx="45.4" cy="449.5" r="0.6"/><circle cx="56.8" cy="453.7" r="0.6"/><circle cx="49.5" cy="450.0" r="0.6"/><circle cx="51.2" cy="452.6" r="0.6"/><circle cx="44.1" cy="450.3" r="0.6"/><circle cx="51.0" cy="453.0" r="0.6"/><circle cx="51.9" cy="452.7" r="0.6"/><circle cx="45.4" cy="448.4" r="0.6"/><circle cx="53.0" cy="450.7" r="0.6"/><circle cx="50.9" cy="451.4" r="0.6"/><circle cx="53.8" cy="450.9" r="0.6"/><circle cx="58.5" cy="452.0" r="0.6"/><circle cx="54.1" cy="452.9" r="0.6"/><circle cx="56.6" cy="452.6" r="0.6"/><circle cx="43.0" cy="451.1" r="0.6"/><circle cx="60.6" cy="452.7" r="0.6"/><circle cx="54.2" cy="452.7" r="0.6"/><circle cx="48.4" cy="451.0" r="0.6"/><circle cx="48.3" cy="453.7" r="0.6"/><circle cx="53.3" cy="454.6" r="0.6"/><circle cx="53.9" cy="454.8" r="0.6"/><circle cx="53.7" cy="450.3" r="0.6"/><circle cx="60.0" cy="452.5" r="0.6"/><circle cx="57.3" cy="452.3" r="0.6"/><circle cx="49.9" cy="452.2" r="0.6"/><circle cx="46.0" cy="450.2" r="0.6"/><circle cx="47.1" cy="451.2" r="0.6"/><circle cx="44.9" cy="451.8" r="0.6"/><circle cx="53.0" cy="455.0" r="0.6"/><circle cx="60.5" cy="451.9" r="0.6"/><circle cx="55.8" cy="451.7" r="0.6"/><circle cx="53.4" cy="452.0" r="0.6"/><circle cx="48.8" cy="452.1" r="0.6"/><circle cx="44.2" cy="452.6" r="0.6"/><circle cx="50.1" cy="450.4" r="0.6"/><circle cx="49.7" cy="452.8" r="0.6"/><circle cx="48.2" cy="452.7" r="0.6"/><circle cx="54.3" cy="454.3" r="0.6"/><circle cx="46.2" cy="451.8" r="0.6"/><circle cx="54.0" cy="454.2" r="0.6"/><circle cx="52.8" cy="453.1" r="0.6"/><circle cx="44.3" cy="451.1" r="0.6"/><circle cx="59.7" cy="451.6" r="0.6"/><circle cx="62.1" cy="450.9" r="0.6"/><circle cx="50.1" cy="449.6" r="0.6"/><circle cx="54.6" cy="452.4" r="0.6"/><circle cx="61.4" cy="452.2" r="0.6"/><circle cx="50.3" cy="449.9" r="0.6"/><circle cx="51.1" cy="453.4" r="0.6"/><circle cx="55.2" cy="453.8" r="0.6"/><circle cx="55.8" cy="451.9" r="0.6"/><circle cx="54.5" cy="452.3" r="0.6"/><circle cx="44.9" cy="454.5" r="0.6"/><circle cx="53.3" cy="450.4" r="0.6"/><circle cx="53.4" cy="452.4" r="0.6"/><circle cx="56.4" cy="454.1" r="0.6"/><circle cx="36.5" cy="452.8" r="0.6"/><circle cx="59.1" cy="450.6" r="0.6"/><circle cx="42.3" cy="452.4" r="0.6"/><circle cx="53.2" cy="452.5" r="0.6"/><circle cx="46.0" cy="451.3" r="0.6"/><circle cx="52.5" cy="453.1" r="0.6"/><circle cx="62.3" cy="452.4" r="0.6"/><circle cx="48.5" cy="448.5" r="0.6"/><circle cx="56.8" cy="451.8" r="0.6"/><circle cx="51.0" cy="450.5" r="0.6"/><circle cx="55.1" cy="449.3" r="0.6"/></g>
<g fill="#222" fill-opacity="0.45"><circle cx="37.3" cy="451.7" r="0.55"/><circle cx="37.9" cy="453.4" r="0.55"/><circle cx="36.7" cy="451.6" r="0.55"/><circle cx="39.5" cy="449.2" r="0.55"/><circle cx="36.1" cy="451.6" r="0.55"/><circle cx="39.8" cy="450.3" r="0.55"/><circle cx="39.4" cy="452.1" r="0.55"/><circle cx="32.6" cy="449.3" r="0.55"/><circle cx="32.7" cy="451.7" r="0.55"/><circle cx="37.6" cy="452.6" r="0.55"/><circle cx="39.4" cy="450.7" r="0.55"/><circle cx="40.2" cy="452.7" r="0.55"/><circle cx="38.4" cy="452.2" r="0.55"/><circle cx="33.2" cy="452.0" r="0.55"/><circle cx="33.9" cy="449.7" r="0.55"/><circle cx="36.0" cy="451.7" r="0.55"/><circle cx="36.8" cy="451.0" r="0.55"/><circle cx="34.0" cy="451.8" r="0.55"/><circle cx="34.8" cy="449.4" r="0.55"/><circle cx="37.3" cy="453.7" r="0.55"/><circle cx="35.8" cy="449.9" r="0.55"/><circle cx="41.1" cy="454.1" r="0.55"/><circle cx="36.1" cy="451.2" r="0.55"/><circle cx="37.6" cy="455.9" r="0.55"/><circle cx="37.4" cy="453.0" r="0.55"/><circle cx="38.3" cy="448.8" r="0.55"/><circle cx="33.7" cy="449.7" r="0.55"/><circle cx="38.3" cy="451.7" r="0.55"/><circle cx="42.3" cy="451.1" r="0.55"/><circle cx="37.9" cy="451.6" r="0.55"/><circle cx="37.4" cy="455.0" r="0.55"/><circle cx="37.9" cy="453.7" r="0.55"/><circle cx="40.9" cy="450.6" r="0.55"/><circle cx="39.0" cy="450.9" r="0.55"/><circle cx="37.3" cy="451.7" r="0.55"/><circle cx="37.1" cy="450.8" r="0.55"/><circle cx="41.7" cy="451.1" r="0.55"/><circle cx="39.1" cy="454.0" r="0.55"/><circle cx="38.9" cy="453.0" r="0.55"/><circle cx="41.2" cy="453.1" r="0.55"/><circle cx="42.1" cy="449.4" r="0.55"/><circle cx="42.9" cy="451.5" r="0.55"/><circle cx="31.8" cy="450.5" r="0.55"/><circle cx="32.8" cy="451.5" r="0.55"/><circle cx="32.5" cy="450.0" r="0.55"/><circle cx="37.9" cy="451.7" r="0.55"/><circle cx="34.6" cy="451.1" r="0.55"/><circle cx="36.7" cy="451.6" r="0.55"/><circle cx="37.0" cy="451.2" r="0.55"/><circle cx="39.6" cy="449.1" r="0.55"/><circle cx="35.5" cy="451.7" r="0.55"/><circle cx="35.8" cy="450.7" r="0.55"/><circle cx="35.7" cy="451.8" r="0.55"/><circle cx="40.7" cy="451.2" r="0.55"/><circle cx="36.2" cy="452.0" r="0.55"/><circle cx="36.3" cy="448.6" r="0.55"/><circle cx="37.8" cy="450.9" r="0.55"/><circle cx="35.3" cy="452.4" r="0.55"/><circle cx="37.1" cy="450.7" r="0.55"/><circle cx="30.5" cy="448.9" r="0.55"/><circle cx="37.0" cy="451.3" r="0.55"/><circle cx="38.3" cy="451.8" r="0.55"/><circle cx="35.6" cy="449.6" r="0.55"/><circle cx="33.7" cy="451.3" r="0.55"/><circle cx="33.6" cy="452.6" r="0.55"/><circle cx="33.0" cy="448.8" r="0.55"/><circle cx="36.4" cy="448.8" r="0.55"/><circle cx="41.9" cy="450.0" r="0.55"/><circle cx="36.8" cy="451.1" r="0.55"/><circle cx="34.5" cy="448.8" r="0.55"/><circle cx="31.4" cy="452.8" r="0.55"/><circle cx="40.1" cy="454.7" r="0.55"/><circle cx="32.6" cy="452.3" r="0.55"/><circle cx="37.0" cy="452.8" r="0.55"/><circle cx="35.5" cy="452.6" r="0.55"/><circle cx="39.7" cy="452.4" r="0.55"/><circle cx="41.3" cy="451.2" r="0.55"/><circle cx="41.6" cy="450.4" r="0.55"/><circle cx="42.0" cy="447.4" r="0.55"/><circle cx="37.0" cy="450.3" r="0.55"/></g>
<g fill="#222" fill-opacity="0.25"><circle cx="50.0" cy="454.6" r="0.55"/><circle cx="56.5" cy="452.2" r="0.55"/><circle cx="65.3" cy="448.3" r="0.55"/><circle cx="42.7" cy="455.8" r="0.55"/><circle cx="53.0" cy="446.8" r="0.55"/><circle cx="53.1" cy="449.0" r="0.55"/><circle cx="63.3" cy="454.9" r="0.55"/><circle cx="45.1" cy="455.2" r="0.55"/><circle cx="42.5" cy="454.3" r="0.55"/><circle cx="55.2" cy="451.7" r="0.55"/><circle cx="37.2" cy="451.3" r="0.55"/><circle cx="33.3" cy="455.0" r="0.55"/><circle cx="41.3" cy="445.9" r="0.55"/><circle cx="55.3" cy="452.9" r="0.55"/><circle cx="45.4" cy="457.3" r="0.55"/><circle cx="57.0" cy="452.2" r="0.55"/><circle cx="44.2" cy="444.6" r="0.55"/><circle cx="54.3" cy="454.4" r="0.55"/><circle cx="44.7" cy="448.5" r="0.55"/><circle cx="49.6" cy="447.8" r="0.55"/><circle cx="50.1" cy="453.9" r="0.55"/><circle cx="63.6" cy="452.7" r="0.55"/><circle cx="51.8" cy="453.9" r="0.55"/><circle cx="62.6" cy="451.2" r="0.55"/><circle cx="38.9" cy="450.0" r="0.55"/><circle cx="38.7" cy="449.8" r="0.55"/><circle cx="48.9" cy="452.9" r="0.55"/><circle cx="51.4" cy="452.2" r="0.55"/><circle cx="46.8" cy="453.1" r="0.55"/><circle cx="58.0" cy="453.9" r="0.55"/><circle cx="63.5" cy="451.3" r="0.55"/><circle cx="47.7" cy="456.2" r="0.55"/><circle cx="51.8" cy="453.0" r="0.55"/><circle cx="47.0" cy="454.4" r="0.55"/><circle cx="46.4" cy="449.5" r="0.55"/><circle cx="49.5" cy="450.9" r="0.55"/><circle cx="57.5" cy="451.1" r="0.55"/><circle cx="51.1" cy="451.5" r="0.55"/><circle cx="53.1" cy="450.4" r="0.55"/><circle cx="59.9" cy="448.4" r="0.55"/><circle cx="46.5" cy="450.2" r="0.55"/><circle cx="55.8" cy="452.1" r="0.55"/><circle cx="54.4" cy="451.2" r="0.55"/><circle cx="43.5" cy="449.2" r="0.55"/><circle cx="47.0" cy="450.7" r="0.55"/><circle cx="52.5" cy="452.9" r="0.55"/><circle cx="58.8" cy="451.7" r="0.55"/><circle cx="43.3" cy="449.3" r="0.55"/><circle cx="50.6" cy="452.9" r="0.55"/><circle cx="67.5" cy="452.5" r="0.55"/><circle cx="65.8" cy="456.7" r="0.55"/><circle cx="40.6" cy="455.0" r="0.55"/><circle cx="60.2" cy="455.4" r="0.55"/><circle cx="49.9" cy="454.4" r="0.55"/><circle cx="45.7" cy="451.8" r="0.55"/><circle cx="50.2" cy="456.5" r="0.55"/><circle cx="48.1" cy="454.4" r="0.55"/><circle cx="50.6" cy="450.2" r="0.55"/><circle cx="52.2" cy="453.6" r="0.55"/><circle cx="43.6" cy="453.6" r="0.55"/><circle cx="43.6" cy="449.8" r="0.55"/><circle cx="52.0" cy="451.4" r="0.55"/><circle cx="41.2" cy="447.9" r="0.55"/><circle cx="50.2" cy="452.6" r="0.55"/><circle cx="45.9" cy="452.5" r="0.55"/><circle cx="36.3" cy="453.0" r="0.55"/><circle cx="53.7" cy="452.7" r="0.55"/><circle cx="44.5" cy="452.2" r="0.55"/><circle cx="51.2" cy="454.7" r="0.55"/><circle cx="52.5" cy="452.6" r="0.55"/><circle cx="43.5" cy="454.2" r="0.55"/><circle cx="60.6" cy="450.8" r="0.55"/><circle cx="55.7" cy="452.8" r="0.55"/><circle cx="49.6" cy="448.8" r="0.55"/><circle cx="65.8" cy="447.3" r="0.55"/><circle cx="52.7" cy="451.1" r="0.55"/><circle cx="60.3" cy="450.9" r="0.55"/><circle cx="50.4" cy="453.5" r="0.55"/><circle cx="54.1" cy="450.7" r="0.55"/><circle cx="56.1" cy="453.0" r="0.55"/><circle cx="58.9" cy="450.7" r="0.55"/><circle cx="49.6" cy="451.0" r="0.55"/><circle cx="42.5" cy="452.6" r="0.55"/><circle cx="53.7" cy="455.5" r="0.55"/><circle cx="47.1" cy="453.0" r="0.55"/><circle cx="60.3" cy="451.7" r="0.55"/><circle cx="50.6" cy="452.3" r="0.55"/><circle cx="43.8" cy="449.5" r="0.55"/><circle cx="60.0" cy="452.4" r="0.55"/><circle cx="49.3" cy="448.9" r="0.55"/><circle cx="51.1" cy="454.9" r="0.55"/><circle cx="39.7" cy="449.8" r="0.55"/><circle cx="60.0" cy="455.6" r="0.55"/><circle cx="63.9" cy="450.6" r="0.55"/><circle cx="55.4" cy="450.1" r="0.55"/><circle cx="54.7" cy="451.1" r="0.55"/><circle cx="51.8" cy="455.3" r="0.55"/><circle cx="53.0" cy="451.4" r="0.55"/><circle cx="50.5" cy="452.7" r="0.55"/></g>
<g fill="#222" fill-opacity="0.55"><circle cx="87.3" cy="449.7" r="0.55"/><circle cx="89.9" cy="451.4" r="0.55"/><circle cx="85.5" cy="450.5" r="0.55"/><circle cx="94.3" cy="449.7" r="0.55"/><circle cx="88.8" cy="450.9" r="0.55"/><circle cx="87.3" cy="448.9" r="0.55"/><circle cx="89.3" cy="448.8" r="0.55"/><circle cx="91.2" cy="449.5" r="0.55"/><circle cx="89.4" cy="452.5" r="0.55"/><circle cx="87.4" cy="450.6" r="0.55"/><circle cx="86.5" cy="451.0" r="0.55"/><circle cx="90.8" cy="449.7" r="0.55"/><circle cx="90.9" cy="451.4" r="0.55"/><circle cx="91.8" cy="449.5" r="0.55"/><circle cx="88.4" cy="450.8" r="0.55"/><circle cx="85.0" cy="448.8" r="0.55"/><circle cx="89.7" cy="450.2" r="0.55"/><circle cx="92.9" cy="451.6" r="0.55"/><circle cx="89.3" cy="450.0" r="0.55"/><circle cx="85.4" cy="449.3" r="0.55"/><circle cx="89.1" cy="449.2" r="0.55"/><circle cx="88.6" cy="450.2" r="0.55"/><circle cx="86.2" cy="448.8" r="0.55"/><circle cx="86.0" cy="447.5" r="0.55"/><circle cx="90.3" cy="449.2" r="0.55"/><circle cx="90.8" cy="449.1" r="0.55"/><circle cx="93.5" cy="450.3" r="0.55"/><circle cx="88.9" cy="449.6" r="0.55"/><circle cx="88.0" cy="450.5" r="0.55"/><circle cx="93.2" cy="449.0" r="0.55"/><circle cx="85.9" cy="450.2" r="0.55"/><circle cx="91.0" cy="447.7" r="0.55"/><circle cx="86.9" cy="448.3" r="0.55"/><circle cx="89.8" cy="450.1" r="0.55"/><circle cx="86.8" cy="448.2" r="0.55"/><circle cx="90.1" cy="447.1" r="0.55"/><circle cx="90.0" cy="449.3" r="0.55"/><circle cx="93.0" cy="450.7" r="0.55"/><circle cx="87.1" cy="449.2" r="0.55"/><circle cx="87.8" cy="448.6" r="0.55"/><circle cx="88.7" cy="450.6" r="0.55"/><circle cx="84.9" cy="449.2" r="0.55"/><circle cx="92.0" cy="450.4" r="0.55"/><circle cx="86.6" cy="448.5" r="0.55"/><circle cx="86.5" cy="447.6" r="0.55"/><circle cx="91.2" cy="449.6" r="0.55"/><circle cx="86.9" cy="447.8" r="0.55"/><circle cx="87.6" cy="448.9" r="0.55"/><circle cx="92.6" cy="449.0" r="0.55"/><circle cx="88.8" cy="450.8" r="0.55"/><circle cx="90.1" cy="449.3" r="0.55"/><circle cx="89.9" cy="449.0" r="0.55"/><circle cx="88.3" cy="448.4" r="0.55"/><circle cx="86.4" cy="447.7" r="0.55"/><circle cx="89.7" cy="450.1" r="0.55"/><circle cx="88.9" cy="450.4" r="0.55"/><circle cx="89.8" cy="449.6" r="0.55"/><circle cx="86.4" cy="450.2" r="0.55"/><circle cx="91.3" cy="450.2" r="0.55"/><circle cx="91.4" cy="448.9" r="0.55"/><circle cx="86.2" cy="451.0" r="0.55"/><circle cx="87.1" cy="449.8" r="0.55"/><circle cx="88.1" cy="449.5" r="0.55"/><circle cx="87.9" cy="448.9" r="0.55"/><circle cx="89.0" cy="447.2" r="0.55"/><circle cx="86.4" cy="448.2" r="0.55"/><circle cx="86.8" cy="446.5" r="0.55"/><circle cx="89.9" cy="451.4" r="0.55"/><circle cx="87.9" cy="450.4" r="0.55"/><circle cx="89.9" cy="448.0" r="0.55"/><circle cx="91.4" cy="447.5" r="0.55"/><circle cx="87.1" cy="449.1" r="0.55"/><circle cx="91.5" cy="449.6" r="0.55"/><circle cx="88.2" cy="448.6" r="0.55"/><circle cx="88.7" cy="449.5" r="0.55"/><circle cx="90.2" cy="451.1" r="0.55"/><circle cx="90.2" cy="449.5" r="0.55"/><circle cx="88.1" cy="451.4" r="0.55"/><circle cx="89.0" cy="449.5" r="0.55"/><circle cx="92.7" cy="451.3" r="0.55"/><circle cx="89.8" cy="449.4" r="0.55"/><circle cx="87.0" cy="450.8" r="0.55"/><circle cx="87.4" cy="450.6" r="0.55"/><circle cx="86.7" cy="449.6" r="0.55"/></g>
<g fill="#222" fill-opacity="0.2"><circle cx="102.0" cy="451.2" r="0.55"/><circle cx="101.1" cy="451.4" r="0.55"/><circle cx="94.5" cy="449.7" r="0.55"/><circle cx="99.3" cy="453.1" r="0.55"/><circle cx="99.4" cy="449.9" r="0.55"/><circle cx="96.8" cy="451.0" r="0.55"/><circle cx="105.8" cy="450.3" r="0.55"/><circle cx="102.7" cy="451.2" r="0.55"/><circle cx="98.3" cy="449.9" r="0.55"/><circle cx="99.3" cy="450.2" r="0.55"/><circle cx="102.6" cy="448.9" r="0.55"/><circle cx="105.5" cy="451.9" r="0.55"/><circle cx="102.8" cy="452.8" r="0.55"/><circle cx="102.9" cy="449.0" r="0.55"/><circle cx="100.3" cy="451.5" r="0.55"/><circle cx="96.7" cy="449.7" r="0.55"/><circle cx="102.1" cy="451.6" r="0.55"/><circle cx="97.9" cy="450.7" r="0.55"/><circle cx="97.5" cy="450.3" r="0.55"/><circle cx="99.7" cy="452.3" r="0.55"/></g>
<g fill="#222" fill-opacity="0.5"><circle cx="156.4" cy="452.1" r="0.55"/><circle cx="170.6" cy="452.9" r="0.55"/><circle cx="164.2" cy="453.6" r="0.55"/><circle cx="159.1" cy="451.0" r="0.55"/><circle cx="156.2" cy="450.7" r="0.55"/><circle cx="164.6" cy="453.6" r="0.55"/><circle cx="161.7" cy="451.6" r="0.55"/><circle cx="165.3" cy="453.3" r="0.55"/><circle cx="164.6" cy="450.1" r="0.55"/><circle cx="161.1" cy="449.3" r="0.55"/><circle cx="164.6" cy="451.4" r="0.55"/><circle cx="160.6" cy="454.4" r="0.55"/><circle cx="169.3" cy="453.1" r="0.55"/><circle cx="164.7" cy="452.7" r="0.55"/><circle cx="160.9" cy="452.4" r="0.55"/><circle cx="171.9" cy="451.4" r="0.55"/><circle cx="160.6" cy="452.7" r="0.55"/><circle cx="167.4" cy="453.6" r="0.55"/><circle cx="159.3" cy="452.3" r="0.55"/><circle cx="162.3" cy="450.9" r="0.55"/><circle cx="163.8" cy="451.9" r="0.55"/><circle cx="167.5" cy="453.0" r="0.55"/><circle cx="160.1" cy="452.6" r="0.55"/><circle cx="161.9" cy="451.7" r="0.55"/><circle cx="161.4" cy="453.8" r="0.55"/><circle cx="161.7" cy="450.3" r="0.55"/><circle cx="160.1" cy="453.5" r="0.55"/><circle cx="172.9" cy="451.2" r="0.55"/><circle cx="161.9" cy="452.1" r="0.55"/><circle cx="157.3" cy="453.0" r="0.55"/><circle cx="163.3" cy="452.9" r="0.55"/><circle cx="173.3" cy="452.2" r="0.55"/><circle cx="167.0" cy="453.6" r="0.55"/><circle cx="160.7" cy="451.8" r="0.55"/><circle cx="170.3" cy="453.4" r="0.55"/><circle cx="164.1" cy="451.1" r="0.55"/><circle cx="167.4" cy="453.2" r="0.55"/><circle cx="173.1" cy="454.4" r="0.55"/><circle cx="167.0" cy="452.8" r="0.55"/><circle cx="163.8" cy="451.8" r="0.55"/><circle cx="164.9" cy="452.8" r="0.55"/><circle cx="166.4" cy="453.9" r="0.55"/><circle cx="164.9" cy="451.8" r="0.55"/><circle cx="167.0" cy="454.5" r="0.55"/><circle cx="159.8" cy="453.0" r="0.55"/><circle cx="165.9" cy="453.2" r="0.55"/><circle cx="165.7" cy="452.4" r="0.55"/><circle cx="163.1" cy="454.6" r="0.55"/><circle cx="171.1" cy="450.7" r="0.55"/><circle cx="152.4" cy="453.1" r="0.55"/><circle cx="160.6" cy="451.8" r="0.55"/><circle cx="156.5" cy="452.9" r="0.55"/><circle cx="163.3" cy="451.8" r="0.55"/><circle cx="167.4" cy="455.6" r="0.55"/><circle cx="170.0" cy="454.0" r="0.55"/><circle cx="161.7" cy="453.3" r="0.55"/><circle cx="163.3" cy="454.0" r="0.55"/><circle cx="166.0" cy="452.5" r="0.55"/><circle cx="165.9" cy="451.6" r="0.55"/><circle cx="167.0" cy="454.4" r="0.55"/><circle cx="161.9" cy="453.2" r="0.55"/><circle cx="156.2" cy="453.7" r="0.55"/><circle cx="167.3" cy="451.2" r="0.55"/><circle cx="171.1" cy="452.6" r="0.55"/><circle cx="155.9" cy="450.8" r="0.55"/><circle cx="167.3" cy="452.2" r="0.55"/><circle cx="168.3" cy="450.5" r="0.55"/><circle cx="163.1" cy="453.7" r="0.55"/><circle cx="160.5" cy="453.4" r="0.55"/><circle cx="161.9" cy="452.9" r="0.55"/><circle cx="164.9" cy="455.3" r="0.55"/><circle cx="158.1" cy="453.5" r="0.55"/><circle cx="169.2" cy="451.1" r="0.55"/><circle cx="163.9" cy="455.4" r="0.55"/><circle cx="168.1" cy="448.8" r="0.55"/><circle cx="162.5" cy="450.3" r="0.55"/><circle cx="164.8" cy="451.6" r="0.55"/><circle cx="161.0" cy="451.4" r="0.55"/><circle cx="164.8" cy="451.9" r="0.55"/><circle cx="159.5" cy="452.2" r="0.55"/><circle cx="165.3" cy="451.4" r="0.55"/><circle cx="168.4" cy="450.4" r="0.55"/><circle cx="165.3" cy="452.0" r="0.55"/><circle cx="170.4" cy="451.7" r="0.55"/><circle cx="160.6" cy="450.8" r="0.55"/><circle cx="172.2" cy="453.3" r="0.55"/><circle cx="158.8" cy="452.1" r="0.55"/><circle cx="159.3" cy="454.4" r="0.55"/><circle cx="165.3" cy="449.9" r="0.55"/><circle cx="164.4" cy="453.7" r="0.55"/><circle cx="163.5" cy="453.1" r="0.55"/><circle cx="163.0" cy="452.8" r="0.55"/><circle cx="164.4" cy="451.6" r="0.55"/><circle cx="165.0" cy="452.7" r="0.55"/><circle cx="163.3" cy="451.6" r="0.55"/><circle cx="159.1" cy="452.8" r="0.55"/><circle cx="167.1" cy="449.4" r="0.55"/><circle cx="161.2" cy="454.2" r="0.55"/><circle cx="167.5" cy="451.6" r="0.55"/><circle cx="169.4" cy="451.3" r="0.55"/><circle cx="160.0" cy="455.0" r="0.55"/><circle cx="161.6" cy="452.2" r="0.55"/><circle cx="156.3" cy="451.2" r="0.55"/><circle cx="158.4" cy="452.3" r="0.55"/><circle cx="155.5" cy="453.8" r="0.55"/><circle cx="161.9" cy="451.7" r="0.55"/><circle cx="160.7" cy="453.4" r="0.55"/><circle cx="170.2" cy="452.0" r="0.55"/><circle cx="170.6" cy="454.5" r="0.55"/><circle cx="169.4" cy="452.9" r="0.55"/><circle cx="157.0" cy="453.4" r="0.55"/><circle cx="161.7" cy="452.7" r="0.55"/><circle cx="155.3" cy="452.1" r="0.55"/><circle cx="164.5" cy="451.3" r="0.55"/><circle cx="164.8" cy="454.6" r="0.55"/><circle cx="164.5" cy="451.6" r="0.55"/><circle cx="173.9" cy="449.8" r="0.55"/><circle cx="159.5" cy="453.0" r="0.55"/><circle cx="160.9" cy="449.6" r="0.55"/><circle cx="164.6" cy="453.6" r="0.55"/><circle cx="160.0" cy="454.4" r="0.55"/><circle cx="165.7" cy="454.0" r="0.55"/><circle cx="156.8" cy="452.5" r="0.55"/><circle cx="170.5" cy="455.1" r="0.55"/><circle cx="169.3" cy="452.5" r="0.55"/><circle cx="164.3" cy="451.7" r="0.55"/><circle cx="168.3" cy="451.6" r="0.55"/><circle cx="164.0" cy="449.9" r="0.55"/><circle cx="156.9" cy="454.8" r="0.55"/><circle cx="163.8" cy="452.8" r="0.55"/><circle cx="153.9" cy="452.5" r="0.55"/><circle cx="172.6" cy="450.6" r="0.55"/><circle cx="153.1" cy="452.3" r="0.55"/><circle cx="161.2" cy="452.2" r="0.55"/><circle cx="158.0" cy="450.8" r="0.55"/><circle cx="158.1" cy="453.3" r="0.55"/><circle cx="163.3" cy="453.5" r="0.55"/><circle cx="158.8" cy="453.2" r="0.55"/><circle cx="161.6" cy="452.6" r="0.55"/><circle cx="167.6" cy="452.5" r="0.55"/><circle cx="162.0" cy="450.4" r="0.55"/><circle cx="163.8" cy="453.5" r="0.55"/><circle cx="160.7" cy="452.4" r="0.55"/><circle cx="155.7" cy="450.8" r="0.55"/><circle cx="165.3" cy="454.1" r="0.55"/><circle cx="162.1" cy="450.4" r="0.55"/><circle cx="161.8" cy="450.5" r="0.55"/><circle cx="162.3" cy="455.0" r="0.55"/><circle cx="164.8" cy="452.3" r="0.55"/><circle cx="168.1" cy="452.0" r="0.55"/><circle cx="165.0" cy="452.8" r="0.55"/><circle cx="165.5" cy="450.6" r="0.55"/><circle cx="166.6" cy="453.6" r="0.55"/><circle cx="153.4" cy="449.0" r="0.55"/><circle cx="159.5" cy="454.4" r="0.55"/><circle cx="163.6" cy="453.4" r="0.55"/><circle cx="165.9" cy="453.6" r="0.55"/><circle cx="160.7" cy="451.8" r="0.55"/><circle cx="165.2" cy="453.3" r="0.55"/><circle cx="166.0" cy="452.9" r="0.55"/><circle cx="161.4" cy="453.9" r="0.55"/><circle cx="165.6" cy="453.9" r="0.55"/><circle cx="152.3" cy="453.8" r="0.55"/><circle cx="152.7" cy="452.8" r="0.55"/><circle cx="160.6" cy="452.7" r="0.55"/><circle cx="161.4" cy="452.1" r="0.55"/><circle cx="164.4" cy="452.9" r="0.55"/><circle cx="160.0" cy="449.3" r="0.55"/><circle cx="160.0" cy="453.2" r="0.55"/><circle cx="159.8" cy="453.0" r="0.55"/></g>
<g fill="#222" fill-opacity="0.3"><circle cx="161.8" cy="450.1" r="0.55"/><circle cx="170.9" cy="455.3" r="0.55"/><circle cx="163.4" cy="451.9" r="0.55"/><circle cx="169.7" cy="449.4" r="0.55"/><circle cx="158.8" cy="454.2" r="0.55"/><circle cx="169.3" cy="451.0" r="0.55"/><circle cx="159.4" cy="452.7" r="0.55"/><circle cx="155.7" cy="451.0" r="0.55"/><circle cx="162.6" cy="447.1" r="0.55"/><circle cx="167.5" cy="453.5" r="0.55"/><circle cx="170.3" cy="449.2" r="0.55"/><circle cx="156.4" cy="450.4" r="0.55"/><circle cx="156.3" cy="456.1" r="0.55"/><circle cx="158.2" cy="451.4" r="0.55"/><circle cx="165.2" cy="452.9" r="0.55"/><circle cx="172.6" cy="449.8" r="0.55"/><circle cx="169.2" cy="452.3" r="0.55"/><circle cx="157.0" cy="452.3" r="0.55"/><circle cx="155.7" cy="455.2" r="0.55"/><circle cx="159.7" cy="454.0" r="0.55"/><circle cx="171.7" cy="450.8" r="0.55"/><circle cx="158.7" cy="452.3" r="0.55"/><circle cx="157.8" cy="453.8" r="0.55"/><circle cx="165.0" cy="450.5" r="0.55"/><circle cx="159.9" cy="453.4" r="0.55"/><circle cx="155.4" cy="455.4" r="0.55"/><circle cx="159.3" cy="451.6" r="0.55"/><circle cx="158.5" cy="455.2" r="0.55"/><circle cx="168.9" cy="454.6" r="0.55"/><circle cx="167.9" cy="452.2" r="0.55"/><circle cx="174.1" cy="453.3" r="0.55"/><circle cx="166.6" cy="453.1" r="0.55"/><circle cx="168.4" cy="452.6" r="0.55"/><circle cx="163.0" cy="448.8" r="0.55"/><circle cx="176.3" cy="449.4" r="0.55"/><circle cx="151.1" cy="450.6" r="0.55"/><circle cx="175.6" cy="454.4" r="0.55"/><circle cx="160.4" cy="452.5" r="0.55"/><circle cx="163.9" cy="448.0" r="0.55"/><circle cx="162.0" cy="452.6" r="0.55"/><circle cx="171.0" cy="449.6" r="0.55"/><circle cx="150.5" cy="448.9" r="0.55"/><circle cx="166.0" cy="452.2" r="0.55"/><circle cx="164.9" cy="452.3" r="0.55"/><circle cx="161.8" cy="449.3" r="0.55"/><circle cx="166.7" cy="452.8" r="0.55"/><circle cx="167.5" cy="454.5" r="0.55"/><circle cx="156.6" cy="447.3" r="0.55"/><circle cx="153.3" cy="456.3" r="0.55"/><circle cx="158.5" cy="452.8" r="0.55"/></g>
<text x="53.20" y="368.80" font-size="7.5" text-anchor="middle" font-weight="normal" fill="#222">pp65LCL</text>
<text x="108.90" y="368.60" font-size="7.5" text-anchor="middle" font-weight="normal" fill="#222">LCL</text>
<text x="162.30" y="368.60" font-size="7.5" text-anchor="middle" font-weight="normal" fill="#222">LCL-OKT3</text>
<text x="111.40" y="484.60" font-size="7.5" text-anchor="middle" font-weight="normal" fill="#222">IFN-&#947;</text>
<text x="1.80" y="398.60" font-size="8" text-anchor="start" fill="#222">T<tspan font-size="6.4" dy="1.8">CM/E</tspan></text>
<text x="3.00" y="452.00" font-size="8" text-anchor="start" fill="#222">T<tspan font-size="6.4" dy="1.8">EM/E</tspan></text>
<text x="22.60" y="424.00" font-size="7.6" text-anchor="middle" font-weight="normal" fill="#222" transform="rotate(-90 22.60 424.00)">CD8</text>
</svg></body></html>
